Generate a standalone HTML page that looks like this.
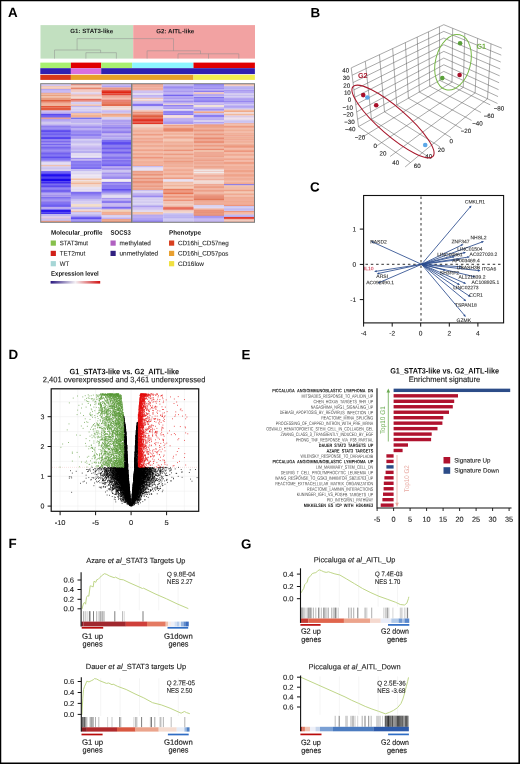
<!DOCTYPE html>
<html><head><meta charset="utf-8"><style>
html,body{margin:0;padding:0;background:#fff;}
body{width:520px;height:764px;overflow:hidden;}
svg{display:block;font-family:"Liberation Sans",sans-serif;text-rendering:geometricPrecision;will-change:transform;}
</style></head><body>
<svg width="520" height="764" viewBox="0 0 520 764">
<rect x="0" y="0" width="520" height="764" fill="#fff"/>
<text x="7.90" y="16.90" font-size="13.4" fill="#000" font-weight="bold" transform="rotate(0.05 7.90 16.90)">A</text>
<rect x="40.5" y="25.1" width="92.7" height="33.5" fill="#c2e0c0"/>
<rect x="133.2" y="25.1" width="121.8" height="33.5" fill="#f2a2a2"/>
<text x="70.20" y="33.10" font-size="6.15" fill="#1a1a1a" font-weight="bold" textLength="43.00" lengthAdjust="spacingAndGlyphs" transform="rotate(0.05 70.20 33.10)">G1: STAT3-like</text>
<text x="156.30" y="33.20" font-size="6.15" fill="#1a1a1a" font-weight="bold" textLength="38.00" lengthAdjust="spacingAndGlyphs" transform="rotate(0.05 156.30 33.20)">G2: AITL-like</text>
<path d="M77.1 50.0V38.6H173.5V50.8 M54.5 58.6V50.0H100.6V52.7 M85.9 58.6V52.7H116.4V58.6 M147.1 58.6V50.8H200.5V53.8 M178 58.6V53.8H238.8V58.6 M208.5 58.6V53.8 " stroke="#8e8e8e" stroke-width="0.5" fill="none"/>
<rect x="40.3" y="62.6" width="30.6" height="5.6" fill="#a8f070"/>
<rect x="70.9" y="62.6" width="30.3" height="5.6" fill="#e00000"/>
<rect x="101.2" y="62.6" width="30.9" height="5.6" fill="#a8f070"/>
<rect x="132.1" y="62.6" width="61.4" height="5.6" fill="#8cf6ff"/>
<rect x="193.5" y="62.6" width="61.4" height="5.6" fill="#e00000"/>
<rect x="40.3" y="68.2" width="30.6" height="5.9" fill="#3020b0"/>
<rect x="70.9" y="68.2" width="30.3" height="5.9" fill="#d870e0"/>
<rect x="101.2" y="68.2" width="153.7" height="5.9" fill="#3020b0"/>
<rect x="40.3" y="74.8" width="30.6" height="5.1" fill="#d83818"/>
<rect x="70.9" y="74.8" width="122.6" height="5.1" fill="#e8a028"/>
<rect x="193.5" y="74.8" width="61.4" height="5.1" fill="#f2ee50"/>
<rect x="40.9" y="84.2" width="30" height="1.95" fill="#d5c5f0"/>
<rect x="40.9" y="86.1" width="30" height="1.5" fill="#f0c1b1"/>
<rect x="40.9" y="87.55" width="30" height="1.5" fill="#f1c5b7"/>
<rect x="40.9" y="89" width="30" height="1.32" fill="#b6a6f0"/>
<rect x="40.9" y="90.27" width="30" height="1.32" fill="#b8a8f0"/>
<rect x="40.9" y="91.53" width="30" height="1.32" fill="#b9aaf0"/>
<rect x="40.9" y="92.8" width="30" height="1.85" fill="#eeae95"/>
<rect x="40.9" y="94.6" width="30" height="1.95" fill="#e8a080"/>
<rect x="40.9" y="96.5" width="30" height="1.55" fill="#f0baa2"/>
<rect x="40.9" y="98" width="30" height="1.95" fill="#e99e80"/>
<rect x="40.9" y="99.9" width="30" height="1.4" fill="#e06141"/>
<rect x="40.9" y="101.25" width="30" height="1.4" fill="#e06545"/>
<rect x="40.9" y="102.6" width="30" height="1.22" fill="#ed9c82"/>
<rect x="40.9" y="103.77" width="30" height="1.22" fill="#f1b59e"/>
<rect x="40.9" y="104.93" width="30" height="1.22" fill="#f1b39c"/>
<rect x="40.9" y="106.1" width="30" height="1.52" fill="#e04626"/>
<rect x="40.9" y="107.57" width="30" height="1.52" fill="#e35a3d"/>
<rect x="40.9" y="109.03" width="30" height="1.52" fill="#e3593c"/>
<rect x="40.9" y="110.5" width="30" height="1.25" fill="#c2b2f0"/>
<rect x="40.9" y="111.7" width="30" height="1.25" fill="#c1b2f0"/>
<rect x="40.9" y="112.9" width="30" height="1.25" fill="#ad9df0"/>
<rect x="40.9" y="114.1" width="30" height="1.22" fill="#4a39ef"/>
<rect x="40.9" y="115.27" width="30" height="1.22" fill="#4e3cee"/>
<rect x="40.9" y="116.43" width="30" height="1.22" fill="#4a39ef"/>
<rect x="40.9" y="117.6" width="30" height="1.25" fill="#ee9373"/>
<rect x="40.9" y="118.8" width="30" height="1.5" fill="#b3a1ee"/>
<rect x="40.9" y="120.25" width="30" height="1.5" fill="#a795ef"/>
<rect x="40.9" y="121.7" width="30" height="1.4" fill="#d1c8ee"/>
<rect x="40.9" y="123.05" width="30" height="1.4" fill="#cfc6ee"/>
<rect x="40.9" y="124.4" width="30" height="1.75" fill="#ad9cef"/>
<rect x="40.9" y="126.1" width="30" height="1.18" fill="#8371ee"/>
<rect x="40.9" y="127.23" width="30" height="1.18" fill="#8675ef"/>
<rect x="40.9" y="128.37" width="30" height="1.18" fill="#8371ee"/>
<rect x="40.9" y="129.5" width="30" height="1.47" fill="#6453ef"/>
<rect x="40.9" y="130.92" width="30" height="1.47" fill="#5e4cee"/>
<rect x="40.9" y="132.34" width="30" height="1.47" fill="#5c4aee"/>
<rect x="40.9" y="133.76" width="30" height="1.47" fill="#6f5ff0"/>
<rect x="40.9" y="135.18" width="30" height="1.47" fill="#6f5ff0"/>
<rect x="40.9" y="136.6" width="30" height="1.4" fill="#5948ef"/>
<rect x="40.9" y="137.95" width="30" height="1.4" fill="#5443ef"/>
<rect x="40.9" y="139.3" width="30" height="1.4" fill="#7d6bee"/>
<rect x="40.9" y="140.65" width="30" height="1.4" fill="#7b69ee"/>
<rect x="40.9" y="142" width="30" height="1.55" fill="#9583ee"/>
<rect x="40.9" y="143.5" width="30" height="2.05" fill="#7665ef"/>
<rect x="40.9" y="145.5" width="30" height="1.31" fill="#8170ef"/>
<rect x="40.9" y="146.76" width="30" height="1.31" fill="#7765ee"/>
<rect x="40.9" y="148.01" width="30" height="1.31" fill="#8372ef"/>
<rect x="40.9" y="149.27" width="30" height="1.31" fill="#7765ee"/>
<rect x="40.9" y="150.53" width="30" height="1.31" fill="#8676f0"/>
<rect x="40.9" y="151.79" width="30" height="1.31" fill="#8372ef"/>
<rect x="40.9" y="153.04" width="30" height="1.31" fill="#6d5cef"/>
<rect x="40.9" y="154.3" width="30" height="1.33" fill="#5b49ee"/>
<rect x="40.9" y="155.58" width="30" height="1.33" fill="#6c5cf0"/>
<rect x="40.9" y="156.86" width="30" height="1.33" fill="#5e4dee"/>
<rect x="40.9" y="158.14" width="30" height="1.33" fill="#6e5ef0"/>
<rect x="40.9" y="159.42" width="30" height="1.33" fill="#5d4cee"/>
<rect x="40.9" y="160.7" width="30" height="1.48" fill="#bfb5ef"/>
<rect x="40.9" y="162.13" width="30" height="1.48" fill="#ddd4ef"/>
<rect x="40.9" y="163.57" width="30" height="1.48" fill="#ded6ef"/>
<rect x="40.9" y="165" width="30" height="1.55" fill="#eec1b0"/>
<rect x="40.9" y="166.5" width="30" height="1.25" fill="#c7bdef"/>
<rect x="40.9" y="167.7" width="30" height="1.25" fill="#c8bfee"/>
<rect x="40.9" y="168.9" width="30" height="1.25" fill="#d7cff0"/>
<rect x="40.9" y="170.1" width="30" height="1.25" fill="#d6cdef"/>
<rect x="40.9" y="171.3" width="30" height="1.2" fill="#4332ef"/>
<rect x="40.9" y="172.45" width="30" height="1.2" fill="#4432ee"/>
<rect x="40.9" y="173.6" width="30" height="1.32" fill="#1e0def"/>
<rect x="40.9" y="174.87" width="30" height="1.32" fill="#1f0eef"/>
<rect x="40.9" y="176.13" width="30" height="1.32" fill="#2514ef"/>
<rect x="40.9" y="177.4" width="30" height="1.32" fill="#1d0bee"/>
<rect x="40.9" y="178.67" width="30" height="1.32" fill="#1a08ee"/>
<rect x="40.9" y="179.93" width="30" height="1.32" fill="#1806ee"/>
<rect x="40.9" y="181.2" width="30" height="1.85" fill="#3c2aee"/>
<rect x="40.9" y="183" width="30" height="1.45" fill="#5e4def"/>
<rect x="40.9" y="184.4" width="30" height="1.45" fill="#5241ee"/>
<rect x="40.9" y="185.8" width="30" height="1.45" fill="#5b49ef"/>
<rect x="40.9" y="187.2" width="30" height="1.31" fill="#705eef"/>
<rect x="40.9" y="188.46" width="30" height="1.31" fill="#7866ee"/>
<rect x="40.9" y="189.72" width="30" height="1.31" fill="#7261ee"/>
<rect x="40.9" y="190.98" width="30" height="1.31" fill="#7462ee"/>
<rect x="40.9" y="192.24" width="30" height="1.31" fill="#8676f0"/>
<rect x="40.9" y="193.5" width="30" height="1.25" fill="#ac9bef"/>
<rect x="40.9" y="194.7" width="30" height="1.25" fill="#9e8cee"/>
<rect x="40.9" y="195.9" width="30" height="1.25" fill="#ad9def"/>
<rect x="40.9" y="197.1" width="30" height="1.22" fill="#7261ee"/>
<rect x="40.9" y="198.27" width="30" height="1.22" fill="#7765ee"/>
<rect x="40.9" y="199.43" width="30" height="1.22" fill="#8373ef"/>
<rect x="40.9" y="200.6" width="30" height="1.4" fill="#9886ef"/>
<rect x="40.9" y="201.95" width="30" height="1.4" fill="#8674ef"/>
<rect x="40.9" y="203.3" width="30" height="1.22" fill="#5e4ef0"/>
<rect x="40.9" y="204.47" width="30" height="1.22" fill="#4b3aee"/>
<rect x="40.9" y="205.63" width="30" height="1.22" fill="#4c3aee"/>
<rect x="40.9" y="206.8" width="30" height="1.4" fill="#bcabef"/>
<rect x="40.9" y="208.15" width="30" height="1.4" fill="#af9eee"/>
<rect x="40.9" y="209.5" width="30" height="1.52" fill="#2b19ee"/>
<rect x="40.9" y="210.97" width="30" height="1.52" fill="#2d1cef"/>
<rect x="40.9" y="212.43" width="30" height="1.52" fill="#2d1cef"/>
<rect x="40.9" y="213.9" width="30" height="1.35" fill="#c2baee"/>
<rect x="40.9" y="215.2" width="30" height="1.35" fill="#b3a9ee"/>
<rect x="40.9" y="216.5" width="30" height="1.4" fill="#e1c9e1"/>
<rect x="40.9" y="217.85" width="30" height="1.4" fill="#d7bfe1"/>
<rect x="40.9" y="219.2" width="30" height="1.65" fill="#bfb6ee"/>
<rect x="40.9" y="220.8" width="30" height="1.25" fill="#f19a7d"/>
<rect x="70.9" y="84.2" width="30.8" height="1.25" fill="#e07060"/>
<rect x="70.9" y="85.4" width="30.8" height="1.1" fill="#f0b9a9"/>
<rect x="70.9" y="86.45" width="30.8" height="1.1" fill="#f1bdae"/>
<rect x="70.9" y="87.5" width="30.8" height="1.85" fill="#e7856c"/>
<rect x="70.9" y="89.3" width="30.8" height="1.4" fill="#eeb3a8"/>
<rect x="70.9" y="90.65" width="30.8" height="1.4" fill="#f1ccc5"/>
<rect x="70.9" y="92" width="30.8" height="1.35" fill="#e9dae9"/>
<rect x="70.9" y="93.3" width="30.8" height="1.35" fill="#d5c5e9"/>
<rect x="70.9" y="94.6" width="30.8" height="1.1" fill="#eea895"/>
<rect x="70.9" y="95.65" width="30.8" height="1.1" fill="#f1bbac"/>
<rect x="70.9" y="96.7" width="30.8" height="1.2" fill="#f1dbd4"/>
<rect x="70.9" y="97.85" width="30.8" height="1.2" fill="#eec4b9"/>
<rect x="70.9" y="99" width="30.8" height="1.4" fill="#e36e60"/>
<rect x="70.9" y="100.35" width="30.8" height="1.4" fill="#e26c5d"/>
<rect x="70.9" y="101.7" width="30.8" height="1.4" fill="#d9d1f0"/>
<rect x="70.9" y="103.05" width="30.8" height="1.4" fill="#d3caf0"/>
<rect x="70.9" y="104.4" width="30.8" height="1.75" fill="#edbeb1"/>
<rect x="70.9" y="106.1" width="30.8" height="1.4" fill="#b9b0f0"/>
<rect x="70.9" y="107.45" width="30.8" height="1.4" fill="#dcd4f1"/>
<rect x="70.9" y="108.8" width="30.8" height="1.75" fill="#d8cff0"/>
<rect x="70.9" y="110.5" width="30.8" height="1.4" fill="#cac3f1"/>
<rect x="70.9" y="111.85" width="30.8" height="1.4" fill="#b9b1f0"/>
<rect x="70.9" y="113.2" width="30.8" height="1.52" fill="#f1b597"/>
<rect x="70.9" y="114.67" width="30.8" height="1.52" fill="#f0b292"/>
<rect x="70.9" y="116.13" width="30.8" height="1.52" fill="#efa686"/>
<rect x="70.9" y="117.6" width="30.8" height="1.45" fill="#7775f0"/>
<rect x="70.9" y="119" width="30.8" height="1.4" fill="#c3b3f1"/>
<rect x="70.9" y="120.35" width="30.8" height="1.4" fill="#a898f0"/>
<rect x="70.9" y="121.7" width="30.8" height="1.4" fill="#bfb6f0"/>
<rect x="70.9" y="123.05" width="30.8" height="1.4" fill="#d1c9f0"/>
<rect x="70.9" y="124.4" width="30.8" height="1.32" fill="#ae9ff1"/>
<rect x="70.9" y="125.68" width="30.8" height="1.32" fill="#aa9af0"/>
<rect x="70.9" y="126.95" width="30.8" height="1.32" fill="#9e8ef0"/>
<rect x="70.9" y="128.22" width="30.8" height="1.32" fill="#afa1f1"/>
<rect x="70.9" y="129.5" width="30.8" height="1.4" fill="#a191f0"/>
<rect x="70.9" y="130.85" width="30.8" height="1.4" fill="#9888f0"/>
<rect x="70.9" y="132.2" width="30.8" height="1.52" fill="#8878f0"/>
<rect x="70.9" y="133.67" width="30.8" height="1.52" fill="#8e7ef0"/>
<rect x="70.9" y="135.13" width="30.8" height="1.52" fill="#8171f0"/>
<rect x="70.9" y="136.6" width="30.8" height="1.4" fill="#a797f0"/>
<rect x="70.9" y="137.95" width="30.8" height="1.4" fill="#b1a1f0"/>
<rect x="70.9" y="139.3" width="30.8" height="1.29" fill="#d1c9f0"/>
<rect x="70.9" y="140.54" width="30.8" height="1.29" fill="#b9aff0"/>
<rect x="70.9" y="141.78" width="30.8" height="1.29" fill="#c7bff0"/>
<rect x="70.9" y="143.02" width="30.8" height="1.29" fill="#d4ccf1"/>
<rect x="70.9" y="144.26" width="30.8" height="1.29" fill="#d5cdf1"/>
<rect x="70.9" y="145.5" width="30.8" height="1.22" fill="#c2b2f0"/>
<rect x="70.9" y="146.67" width="30.8" height="1.22" fill="#c2b3f1"/>
<rect x="70.9" y="147.83" width="30.8" height="1.22" fill="#c1b1f0"/>
<rect x="70.9" y="149" width="30.8" height="1.52" fill="#c0b7f0"/>
<rect x="70.9" y="150.47" width="30.8" height="1.52" fill="#b9aff0"/>
<rect x="70.9" y="151.93" width="30.8" height="1.52" fill="#b8aef0"/>
<rect x="70.9" y="153.4" width="30.8" height="1.55" fill="#e3dbf1"/>
<rect x="70.9" y="154.9" width="30.8" height="1.55" fill="#e1daf1"/>
<rect x="70.9" y="156.4" width="30.8" height="1.55" fill="#e3dcf1"/>
<rect x="70.9" y="157.9" width="30.8" height="1.45" fill="#9f8ff0"/>
<rect x="70.9" y="159.3" width="30.8" height="1.45" fill="#baaaf0"/>
<rect x="70.9" y="160.7" width="30.8" height="1.35" fill="#8777f0"/>
<rect x="70.9" y="162" width="30.8" height="1.35" fill="#8d7ef1"/>
<rect x="70.9" y="163.3" width="30.8" height="1.55" fill="#7464f0"/>
<rect x="70.9" y="164.8" width="30.8" height="1.55" fill="#8577f1"/>
<rect x="70.9" y="166.3" width="30.8" height="1.55" fill="#6e5ef0"/>
<rect x="70.9" y="167.8" width="30.8" height="1.55" fill="#7969f0"/>
<rect x="70.9" y="169.3" width="30.8" height="2.05" fill="#c3bbf1"/>
<rect x="70.9" y="171.3" width="30.8" height="1.35" fill="#dbd4f1"/>
<rect x="70.9" y="172.6" width="30.8" height="1.35" fill="#dad2f1"/>
<rect x="70.9" y="173.9" width="30.8" height="1.55" fill="#e9e1f1"/>
<rect x="70.9" y="175.4" width="30.8" height="1.55" fill="#e9e2f1"/>
<rect x="70.9" y="176.9" width="30.8" height="1.55" fill="#eae3f1"/>
<rect x="70.9" y="178.4" width="30.8" height="1.65" fill="#efbfa7"/>
<rect x="70.9" y="180" width="30.8" height="1.25" fill="#f1e1e1"/>
<rect x="70.9" y="181.2" width="30.8" height="1.65" fill="#f1ccb6"/>
<rect x="70.9" y="182.8" width="30.8" height="1.75" fill="#f1b698"/>
<rect x="70.9" y="184.5" width="30.8" height="1.4" fill="#efd2ca"/>
<rect x="70.9" y="185.85" width="30.8" height="1.4" fill="#f1dad3"/>
<rect x="70.9" y="187.2" width="30.8" height="1.58" fill="#e2dbf1"/>
<rect x="70.9" y="188.73" width="30.8" height="1.58" fill="#e0d9f0"/>
<rect x="70.9" y="190.27" width="30.8" height="1.58" fill="#e1d9f0"/>
<rect x="70.9" y="191.8" width="30.8" height="1.22" fill="#7d6df0"/>
<rect x="70.9" y="192.97" width="30.8" height="1.22" fill="#8272f0"/>
<rect x="70.9" y="194.13" width="30.8" height="1.22" fill="#8373f0"/>
<rect x="70.9" y="195.3" width="30.8" height="1.22" fill="#8171f0"/>
<rect x="70.9" y="196.47" width="30.8" height="1.22" fill="#9384f0"/>
<rect x="70.9" y="197.63" width="30.8" height="1.22" fill="#9b8df1"/>
<rect x="70.9" y="198.8" width="30.8" height="1.4" fill="#c5bdf1"/>
<rect x="70.9" y="200.15" width="30.8" height="1.4" fill="#c3bbf1"/>
<rect x="70.9" y="201.5" width="30.8" height="1.4" fill="#d1c8f0"/>
<rect x="70.9" y="202.85" width="30.8" height="1.4" fill="#dad2f1"/>
<rect x="70.9" y="204.2" width="30.8" height="1.35" fill="#f0d9c1"/>
<rect x="70.9" y="205.5" width="30.8" height="1.35" fill="#f0d4bc"/>
<rect x="70.9" y="206.8" width="30.8" height="1.4" fill="#ccc4f1"/>
<rect x="70.9" y="208.15" width="30.8" height="1.4" fill="#afa6f0"/>
<rect x="70.9" y="209.5" width="30.8" height="1.35" fill="#f1dad2"/>
<rect x="70.9" y="210.8" width="30.8" height="1.35" fill="#edb9ac"/>
<rect x="70.9" y="212.1" width="30.8" height="1.52" fill="#c9c1f0"/>
<rect x="70.9" y="213.57" width="30.8" height="1.52" fill="#c7bff0"/>
<rect x="70.9" y="215.03" width="30.8" height="1.52" fill="#b8aff0"/>
<rect x="70.9" y="216.5" width="30.8" height="1.4" fill="#6657f1"/>
<rect x="70.9" y="217.85" width="30.8" height="1.4" fill="#6050f0"/>
<rect x="70.9" y="219.2" width="30.8" height="1.45" fill="#8b7bf0"/>
<rect x="70.9" y="220.6" width="30.8" height="1.45" fill="#9283f1"/>
<rect x="101.7" y="84.2" width="29.6" height="1.7" fill="#c1b1f0"/>
<rect x="101.7" y="85.85" width="29.6" height="1.7" fill="#b1a1f0"/>
<rect x="101.7" y="87.5" width="29.6" height="1.45" fill="#e7907f"/>
<rect x="101.7" y="88.9" width="29.6" height="1.45" fill="#e99c8c"/>
<rect x="101.7" y="90.3" width="29.6" height="1.58" fill="#e02412"/>
<rect x="101.7" y="91.83" width="29.6" height="1.58" fill="#e02512"/>
<rect x="101.7" y="93.37" width="29.6" height="1.58" fill="#e33223"/>
<rect x="101.7" y="94.9" width="29.6" height="1.95" fill="#e99484"/>
<rect x="101.7" y="96.8" width="29.6" height="1.4" fill="#f0ad9d"/>
<rect x="101.7" y="98.15" width="29.6" height="1.4" fill="#f1b6a7"/>
<rect x="101.7" y="99.5" width="29.6" height="1.45" fill="#e77b6a"/>
<rect x="101.7" y="100.9" width="29.6" height="1.45" fill="#e98475"/>
<rect x="101.7" y="102.3" width="29.6" height="1.32" fill="#e05c3c"/>
<rect x="101.7" y="103.57" width="29.6" height="1.32" fill="#e05f3f"/>
<rect x="101.7" y="104.83" width="29.6" height="1.32" fill="#e26a4c"/>
<rect x="101.7" y="106.1" width="29.6" height="1.85" fill="#f1d4cd"/>
<rect x="101.7" y="107.9" width="29.6" height="1.2" fill="#f1e2e2"/>
<rect x="101.7" y="109.05" width="29.6" height="1.2" fill="#efd8d6"/>
<rect x="101.7" y="110.2" width="29.6" height="1.85" fill="#c9b9f0"/>
<rect x="101.7" y="112" width="29.6" height="1.75" fill="#ccc3f0"/>
<rect x="101.7" y="113.7" width="29.6" height="1.25" fill="#ed9e7e"/>
<rect x="101.7" y="114.9" width="29.6" height="1.25" fill="#f0b090"/>
<rect x="101.7" y="116.1" width="29.6" height="1.25" fill="#f1b597"/>
<rect x="101.7" y="117.3" width="29.6" height="1.35" fill="#cec6ef"/>
<rect x="101.7" y="118.6" width="29.6" height="1.35" fill="#cdc4ef"/>
<rect x="101.7" y="119.9" width="29.6" height="1.4" fill="#ae9ef0"/>
<rect x="101.7" y="121.25" width="29.6" height="1.4" fill="#9c8bee"/>
<rect x="101.7" y="122.6" width="29.6" height="1.35" fill="#af9dee"/>
<rect x="101.7" y="123.9" width="29.6" height="1.35" fill="#bfadee"/>
<rect x="101.7" y="125.2" width="29.6" height="1.48" fill="#9483ee"/>
<rect x="101.7" y="126.63" width="29.6" height="1.48" fill="#9280ee"/>
<rect x="101.7" y="128.07" width="29.6" height="1.48" fill="#9a88ee"/>
<rect x="101.7" y="129.5" width="29.6" height="1.25" fill="#9786ef"/>
<rect x="101.7" y="130.7" width="29.6" height="1.25" fill="#9482ee"/>
<rect x="101.7" y="131.9" width="29.6" height="1.25" fill="#8e7cee"/>
<rect x="101.7" y="133.1" width="29.6" height="1.52" fill="#b5a4ef"/>
<rect x="101.7" y="134.57" width="29.6" height="1.52" fill="#b7a7f0"/>
<rect x="101.7" y="136.03" width="29.6" height="1.52" fill="#ad9bee"/>
<rect x="101.7" y="137.5" width="29.6" height="1.4" fill="#b0a6ef"/>
<rect x="101.7" y="138.85" width="29.6" height="1.4" fill="#aea3ef"/>
<rect x="101.7" y="140.2" width="29.6" height="1.38" fill="#6252ef"/>
<rect x="101.7" y="141.52" width="29.6" height="1.38" fill="#5140ef"/>
<rect x="101.7" y="142.85" width="29.6" height="1.38" fill="#5d4cef"/>
<rect x="101.7" y="144.18" width="29.6" height="1.38" fill="#5847ee"/>
<rect x="101.7" y="145.5" width="29.6" height="1.31" fill="#7563ee"/>
<rect x="101.7" y="146.76" width="29.6" height="1.31" fill="#8171ef"/>
<rect x="101.7" y="148.01" width="29.6" height="1.31" fill="#6e5cef"/>
<rect x="101.7" y="149.27" width="29.6" height="1.31" fill="#705fee"/>
<rect x="101.7" y="150.53" width="29.6" height="1.31" fill="#7967ee"/>
<rect x="101.7" y="151.79" width="29.6" height="1.31" fill="#6e5cef"/>
<rect x="101.7" y="153.04" width="29.6" height="1.31" fill="#8372ef"/>
<rect x="101.7" y="154.3" width="29.6" height="1.28" fill="#8b79ee"/>
<rect x="101.7" y="155.53" width="29.6" height="1.28" fill="#8776ee"/>
<rect x="101.7" y="156.77" width="29.6" height="1.28" fill="#8472ef"/>
<rect x="101.7" y="158" width="29.6" height="1.52" fill="#8674ef"/>
<rect x="101.7" y="159.47" width="29.6" height="1.52" fill="#816fee"/>
<rect x="101.7" y="160.93" width="29.6" height="1.52" fill="#8674ef"/>
<rect x="101.7" y="162.4" width="29.6" height="1.25" fill="#6452ef"/>
<rect x="101.7" y="163.6" width="29.6" height="1.25" fill="#6958ef"/>
<rect x="101.7" y="164.8" width="29.6" height="1.25" fill="#6e5df0"/>
<rect x="101.7" y="166" width="29.6" height="1.52" fill="#b2a1ef"/>
<rect x="101.7" y="167.47" width="29.6" height="1.52" fill="#a18fee"/>
<rect x="101.7" y="168.93" width="29.6" height="1.52" fill="#ae9cee"/>
<rect x="101.7" y="170.4" width="29.6" height="1.35" fill="#c6bcee"/>
<rect x="101.7" y="171.7" width="29.6" height="1.35" fill="#bbb0ef"/>
<rect x="101.7" y="173" width="29.6" height="1.29" fill="#a593ee"/>
<rect x="101.7" y="174.24" width="29.6" height="1.29" fill="#aa99ef"/>
<rect x="101.7" y="175.48" width="29.6" height="1.29" fill="#9886ee"/>
<rect x="101.7" y="176.72" width="29.6" height="1.29" fill="#9c8bee"/>
<rect x="101.7" y="177.96" width="29.6" height="1.29" fill="#a08eee"/>
<rect x="101.7" y="179.2" width="29.6" height="1.4" fill="#f1e9f1"/>
<rect x="101.7" y="180.55" width="29.6" height="1.4" fill="#f0e8f0"/>
<rect x="101.7" y="181.9" width="29.6" height="1.37" fill="#8674ef"/>
<rect x="101.7" y="183.22" width="29.6" height="1.37" fill="#8978ef"/>
<rect x="101.7" y="184.55" width="29.6" height="1.37" fill="#806eee"/>
<rect x="101.7" y="185.88" width="29.6" height="1.37" fill="#8a79ef"/>
<rect x="101.7" y="187.2" width="29.6" height="1.43" fill="#7464f0"/>
<rect x="101.7" y="188.57" width="29.6" height="1.43" fill="#614fef"/>
<rect x="101.7" y="189.95" width="29.6" height="1.43" fill="#7565f0"/>
<rect x="101.7" y="191.32" width="29.6" height="1.43" fill="#6f5def"/>
<rect x="101.7" y="192.7" width="29.6" height="1.35" fill="#b4aaee"/>
<rect x="101.7" y="194" width="29.6" height="1.35" fill="#c8beee"/>
<rect x="101.7" y="195.3" width="29.6" height="1.4" fill="#ddd4ef"/>
<rect x="101.7" y="196.65" width="29.6" height="1.4" fill="#dfd7f0"/>
<rect x="101.7" y="198" width="29.6" height="1.35" fill="#a998ee"/>
<rect x="101.7" y="199.3" width="29.6" height="1.35" fill="#b19fee"/>
<rect x="101.7" y="200.6" width="29.6" height="1.4" fill="#8c7cef"/>
<rect x="101.7" y="201.95" width="29.6" height="1.4" fill="#8a79ef"/>
<rect x="101.7" y="203.3" width="29.6" height="1.22" fill="#bfaef0"/>
<rect x="101.7" y="204.47" width="29.6" height="1.22" fill="#b7a5ee"/>
<rect x="101.7" y="205.63" width="29.6" height="1.22" fill="#bba9ef"/>
<rect x="101.7" y="206.8" width="29.6" height="1.4" fill="#7a68ee"/>
<rect x="101.7" y="208.15" width="29.6" height="1.4" fill="#8877ef"/>
<rect x="101.7" y="209.5" width="29.6" height="1.35" fill="#f1ccb5"/>
<rect x="101.7" y="210.8" width="29.6" height="1.35" fill="#f0cab2"/>
<rect x="101.7" y="212.1" width="29.6" height="1.4" fill="#f1a486"/>
<rect x="101.7" y="213.45" width="29.6" height="1.4" fill="#ee9474"/>
<rect x="101.7" y="214.8" width="29.6" height="1.35" fill="#d7cff0"/>
<rect x="101.7" y="216.1" width="29.6" height="1.35" fill="#d8cff0"/>
<rect x="101.7" y="217.4" width="29.6" height="1.85" fill="#bfaff0"/>
<rect x="101.7" y="219.2" width="29.6" height="1.45" fill="#e89171"/>
<rect x="101.7" y="220.6" width="29.6" height="1.45" fill="#e99678"/>
<rect x="132.2" y="84.2" width="31" height="1.35" fill="#e78a71"/>
<rect x="132.2" y="85.5" width="31" height="1.35" fill="#ea9983"/>
<rect x="132.2" y="86.8" width="31" height="1.28" fill="#f1b6a7"/>
<rect x="132.2" y="88.03" width="31" height="1.28" fill="#efa997"/>
<rect x="132.2" y="89.27" width="31" height="1.28" fill="#ed9b89"/>
<rect x="132.2" y="90.5" width="31" height="1.25" fill="#c4b4f0"/>
<rect x="132.2" y="91.7" width="31" height="1.25" fill="#c9b9f0"/>
<rect x="132.2" y="92.9" width="31" height="1.25" fill="#e2daf1"/>
<rect x="132.2" y="94.1" width="31" height="1.25" fill="#dfd7f0"/>
<rect x="132.2" y="95.3" width="31" height="1.3" fill="#a595f0"/>
<rect x="132.2" y="96.55" width="31" height="1.3" fill="#c4b5f1"/>
<rect x="132.2" y="97.8" width="31" height="1.25" fill="#edc1bb"/>
<rect x="132.2" y="99" width="31" height="1.25" fill="#f1e2e2"/>
<rect x="132.2" y="100.2" width="31" height="1.25" fill="#eec9c4"/>
<rect x="132.2" y="101.4" width="31" height="1.25" fill="#b7a7f0"/>
<rect x="132.2" y="102.6" width="31" height="1.25" fill="#c4b5f1"/>
<rect x="132.2" y="103.8" width="31" height="1.25" fill="#8373f0"/>
<rect x="132.2" y="105" width="31" height="1.25" fill="#8474f0"/>
<rect x="132.2" y="106.2" width="31" height="1.3" fill="#c8c0f0"/>
<rect x="132.2" y="107.45" width="31" height="1.3" fill="#cac3f1"/>
<rect x="132.2" y="108.7" width="31" height="1.65" fill="#e2d3ea"/>
<rect x="132.2" y="110.3" width="31" height="1.75" fill="#f1bbab"/>
<rect x="132.2" y="112" width="31" height="1.45" fill="#ea937d"/>
<rect x="132.2" y="113.4" width="31" height="1.45" fill="#e88870"/>
<rect x="132.2" y="114.8" width="31" height="1.28" fill="#e36e51"/>
<rect x="132.2" y="116.03" width="31" height="1.28" fill="#e05a3a"/>
<rect x="132.2" y="117.27" width="31" height="1.28" fill="#e05c3c"/>
<rect x="132.2" y="118.5" width="31" height="1.43" fill="#e03121"/>
<rect x="132.2" y="119.88" width="31" height="1.43" fill="#e03120"/>
<rect x="132.2" y="121.25" width="31" height="1.43" fill="#e1392a"/>
<rect x="132.2" y="122.62" width="31" height="1.43" fill="#e13626"/>
<rect x="132.2" y="124" width="31" height="1.4" fill="#f0c8b8"/>
<rect x="132.2" y="125.35" width="31" height="1.4" fill="#f1ccbd"/>
<rect x="132.2" y="126.7" width="31" height="1.4" fill="#f0c9b9"/>
<rect x="132.2" y="128.05" width="31" height="1.4" fill="#efbdab"/>
<rect x="132.2" y="129.4" width="31" height="1.43" fill="#efa38a"/>
<rect x="132.2" y="130.78" width="31" height="1.43" fill="#f1ae98"/>
<rect x="132.2" y="132.17" width="31" height="1.43" fill="#f1af99"/>
<rect x="132.2" y="133.55" width="31" height="1.43" fill="#ee9b82"/>
<rect x="132.2" y="134.93" width="31" height="1.43" fill="#f1ae98"/>
<rect x="132.2" y="136.32" width="31" height="1.43" fill="#f1b09a"/>
<rect x="132.2" y="137.7" width="31" height="1.43" fill="#f0a891"/>
<rect x="132.2" y="139.08" width="31" height="1.43" fill="#f0a992"/>
<rect x="132.2" y="140.47" width="31" height="1.43" fill="#ee9a81"/>
<rect x="132.2" y="141.85" width="31" height="1.43" fill="#f0a991"/>
<rect x="132.2" y="143.23" width="31" height="1.43" fill="#f0a890"/>
<rect x="132.2" y="144.62" width="31" height="1.43" fill="#f0aa92"/>
<rect x="132.2" y="146" width="31" height="1.25" fill="#edac98"/>
<rect x="132.2" y="147.2" width="31" height="1.39" fill="#f1b09a"/>
<rect x="132.2" y="148.54" width="31" height="1.39" fill="#f0a890"/>
<rect x="132.2" y="149.89" width="31" height="1.39" fill="#efa38b"/>
<rect x="132.2" y="151.23" width="31" height="1.39" fill="#f1ad97"/>
<rect x="132.2" y="152.57" width="31" height="1.39" fill="#f0a991"/>
<rect x="132.2" y="153.91" width="31" height="1.39" fill="#f0a890"/>
<rect x="132.2" y="155.26" width="31" height="1.39" fill="#f1ab94"/>
<rect x="132.2" y="156.6" width="31" height="1.39" fill="#ed947b"/>
<rect x="132.2" y="157.94" width="31" height="1.39" fill="#f0a991"/>
<rect x="132.2" y="159.29" width="31" height="1.39" fill="#efa48c"/>
<rect x="132.2" y="160.63" width="31" height="1.39" fill="#f1b09a"/>
<rect x="132.2" y="161.97" width="31" height="1.39" fill="#f1af99"/>
<rect x="132.2" y="163.31" width="31" height="1.39" fill="#ee9d85"/>
<rect x="132.2" y="164.66" width="31" height="1.39" fill="#f0a78f"/>
<rect x="132.2" y="166" width="31" height="1.25" fill="#c6bcf0"/>
<rect x="132.2" y="167.2" width="31" height="1.25" fill="#dbd3f0"/>
<rect x="132.2" y="168.4" width="31" height="1.25" fill="#e2daf1"/>
<rect x="132.2" y="169.6" width="31" height="1.25" fill="#e2dbf1"/>
<rect x="132.2" y="170.8" width="31" height="1.44" fill="#ec9f87"/>
<rect x="132.2" y="172.19" width="31" height="1.44" fill="#eb9880"/>
<rect x="132.2" y="173.57" width="31" height="1.44" fill="#ea937a"/>
<rect x="132.2" y="174.96" width="31" height="1.44" fill="#eca28b"/>
<rect x="132.2" y="176.34" width="31" height="1.44" fill="#eea892"/>
<rect x="132.2" y="177.73" width="31" height="1.44" fill="#ea9077"/>
<rect x="132.2" y="179.11" width="31" height="1.44" fill="#eda58f"/>
<rect x="132.2" y="180.5" width="31" height="1.44" fill="#e98c72"/>
<rect x="132.2" y="181.89" width="31" height="1.44" fill="#ea937a"/>
<rect x="132.2" y="183.27" width="31" height="1.44" fill="#eb947c"/>
<rect x="132.2" y="184.66" width="31" height="1.44" fill="#eda48c"/>
<rect x="132.2" y="186.04" width="31" height="1.44" fill="#eb9880"/>
<rect x="132.2" y="187.43" width="31" height="1.44" fill="#eb9a81"/>
<rect x="132.2" y="188.81" width="31" height="1.44" fill="#eca28b"/>
<rect x="132.2" y="190.2" width="31" height="1.28" fill="#beb4f0"/>
<rect x="132.2" y="191.43" width="31" height="1.28" fill="#dad2f1"/>
<rect x="132.2" y="192.67" width="31" height="1.28" fill="#bfb5f0"/>
<rect x="132.2" y="193.9" width="31" height="1.1" fill="#c0b0f0"/>
<rect x="132.2" y="194.95" width="31" height="1.1" fill="#b2a2f0"/>
<rect x="132.2" y="196" width="31" height="1.65" fill="#9a8af0"/>
<rect x="132.2" y="197.6" width="31" height="1.45" fill="#d8d0f0"/>
<rect x="132.2" y="199" width="31" height="1.45" fill="#d4ccf0"/>
<rect x="132.2" y="200.4" width="31" height="1.45" fill="#d0c7f0"/>
<rect x="132.2" y="201.8" width="31" height="1.45" fill="#d2caf0"/>
<rect x="132.2" y="203.2" width="31" height="1.45" fill="#d8d0f0"/>
<rect x="132.2" y="204.6" width="31" height="1.45" fill="#c1b8f0"/>
<rect x="132.2" y="206" width="31" height="1.28" fill="#af9ff0"/>
<rect x="132.2" y="207.23" width="31" height="1.28" fill="#c2b2f0"/>
<rect x="132.2" y="208.47" width="31" height="1.28" fill="#c2b2f0"/>
<rect x="132.2" y="209.7" width="31" height="1.3" fill="#e0d8f0"/>
<rect x="132.2" y="210.95" width="31" height="1.3" fill="#e2dbf1"/>
<rect x="132.2" y="212.2" width="31" height="1.25" fill="#f0b292"/>
<rect x="132.2" y="213.4" width="31" height="1.25" fill="#f1b698"/>
<rect x="132.2" y="214.6" width="31" height="1.25" fill="#aa9af0"/>
<rect x="132.2" y="215.8" width="31" height="1.25" fill="#bbacf1"/>
<rect x="132.2" y="217" width="31" height="1.25" fill="#bcadf1"/>
<rect x="132.2" y="218.2" width="31" height="1.32" fill="#a092f1"/>
<rect x="132.2" y="219.47" width="31" height="1.32" fill="#9181f0"/>
<rect x="132.2" y="220.73" width="31" height="1.32" fill="#9181f0"/>
<rect x="163.2" y="84.2" width="30.5" height="1.45" fill="#beaff1"/>
<rect x="163.2" y="85.6" width="30.5" height="1.45" fill="#a999f0"/>
<rect x="163.2" y="87" width="30.5" height="1.25" fill="#9b8df1"/>
<rect x="163.2" y="88.2" width="30.5" height="1.25" fill="#998af1"/>
<rect x="163.2" y="89.4" width="30.5" height="1.37" fill="#a595f0"/>
<rect x="163.2" y="90.73" width="30.5" height="1.37" fill="#aa9af0"/>
<rect x="163.2" y="92.05" width="30.5" height="1.37" fill="#bbacf1"/>
<rect x="163.2" y="93.38" width="30.5" height="1.37" fill="#ab9bf0"/>
<rect x="163.2" y="94.7" width="30.5" height="1.85" fill="#7565f0"/>
<rect x="163.2" y="96.5" width="30.5" height="1.49" fill="#b5a6f1"/>
<rect x="163.2" y="97.94" width="30.5" height="1.49" fill="#ac9cf0"/>
<rect x="163.2" y="99.38" width="30.5" height="1.49" fill="#b5a6f1"/>
<rect x="163.2" y="100.82" width="30.5" height="1.49" fill="#9e8ef0"/>
<rect x="163.2" y="102.26" width="30.5" height="1.49" fill="#ab9bf0"/>
<rect x="163.2" y="103.7" width="30.5" height="1.25" fill="#f1d9d2"/>
<rect x="163.2" y="104.9" width="30.5" height="1.42" fill="#9282f0"/>
<rect x="163.2" y="106.27" width="30.5" height="1.42" fill="#9a8af0"/>
<rect x="163.2" y="107.63" width="30.5" height="1.42" fill="#ab9cf1"/>
<rect x="163.2" y="109" width="30.5" height="1.85" fill="#e3dbf1"/>
<rect x="163.2" y="110.8" width="30.5" height="1.45" fill="#9385f1"/>
<rect x="163.2" y="112.2" width="30.5" height="1.45" fill="#7c6cf0"/>
<rect x="163.2" y="113.6" width="30.5" height="1.45" fill="#8878f0"/>
<rect x="163.2" y="115" width="30.5" height="1.55" fill="#f1dada"/>
<rect x="163.2" y="116.5" width="30.5" height="1.55" fill="#f0d8d8"/>
<rect x="163.2" y="118" width="30.5" height="1.31" fill="#c2b3f1"/>
<rect x="163.2" y="119.26" width="30.5" height="1.31" fill="#ae9ef0"/>
<rect x="163.2" y="120.52" width="30.5" height="1.31" fill="#a898f0"/>
<rect x="163.2" y="121.78" width="30.5" height="1.31" fill="#aa9af0"/>
<rect x="163.2" y="123.04" width="30.5" height="1.31" fill="#a696f0"/>
<rect x="163.2" y="124.3" width="30.5" height="0.75" fill="#f0c1b1"/>
<rect x="163.2" y="125" width="30.5" height="1.38" fill="#eea088"/>
<rect x="163.2" y="126.33" width="30.5" height="1.38" fill="#eea18a"/>
<rect x="163.2" y="127.67" width="30.5" height="1.38" fill="#ec9178"/>
<rect x="163.2" y="129" width="30.5" height="2.05" fill="#e7886c"/>
<rect x="163.2" y="131" width="30.5" height="1.55" fill="#ee9e85"/>
<rect x="163.2" y="132.5" width="30.5" height="1.55" fill="#f1b29b"/>
<rect x="163.2" y="134" width="30.5" height="1.55" fill="#f1b49e"/>
<rect x="163.2" y="135.5" width="30.5" height="1.55" fill="#f1b39d"/>
<rect x="163.2" y="137" width="30.5" height="1.3" fill="#efa68e"/>
<rect x="163.2" y="138.25" width="30.5" height="1.3" fill="#efa48c"/>
<rect x="163.2" y="139.5" width="30.5" height="1.3" fill="#f3c2ae"/>
<rect x="163.2" y="140.75" width="30.5" height="1.3" fill="#f2baa4"/>
<rect x="163.2" y="142" width="30.5" height="1.38" fill="#efaf98"/>
<rect x="163.2" y="143.33" width="30.5" height="1.38" fill="#eda289"/>
<rect x="163.2" y="144.67" width="30.5" height="1.38" fill="#eea890"/>
<rect x="163.2" y="146" width="30.5" height="1.38" fill="#eeaa92"/>
<rect x="163.2" y="147.33" width="30.5" height="1.38" fill="#eea78e"/>
<rect x="163.2" y="148.67" width="30.5" height="1.38" fill="#eeac94"/>
<rect x="163.2" y="150" width="30.5" height="1.38" fill="#eb937a"/>
<rect x="163.2" y="151.33" width="30.5" height="1.38" fill="#efad96"/>
<rect x="163.2" y="152.67" width="30.5" height="1.38" fill="#efb09a"/>
<rect x="163.2" y="154" width="30.5" height="1.38" fill="#ec9b82"/>
<rect x="163.2" y="155.33" width="30.5" height="1.38" fill="#eea890"/>
<rect x="163.2" y="156.67" width="30.5" height="1.38" fill="#efae97"/>
<rect x="163.2" y="158" width="30.5" height="1.38" fill="#eda68d"/>
<rect x="163.2" y="159.33" width="30.5" height="1.38" fill="#ec9c83"/>
<rect x="163.2" y="160.67" width="30.5" height="1.38" fill="#ec9a81"/>
<rect x="163.2" y="162" width="30.5" height="1.38" fill="#eeaa92"/>
<rect x="163.2" y="163.33" width="30.5" height="1.38" fill="#eb937a"/>
<rect x="163.2" y="164.67" width="30.5" height="1.38" fill="#efb19b"/>
<rect x="163.2" y="166" width="30.5" height="1.38" fill="#f1ad97"/>
<rect x="163.2" y="167.33" width="30.5" height="1.38" fill="#f1ac95"/>
<rect x="163.2" y="168.66" width="30.5" height="1.38" fill="#f1ae98"/>
<rect x="163.2" y="169.99" width="30.5" height="1.38" fill="#f0aa93"/>
<rect x="163.2" y="171.32" width="30.5" height="1.38" fill="#efa48b"/>
<rect x="163.2" y="172.65" width="30.5" height="1.38" fill="#f0aa92"/>
<rect x="163.2" y="173.98" width="30.5" height="1.38" fill="#f0a890"/>
<rect x="163.2" y="175.31" width="30.5" height="1.38" fill="#f1b09b"/>
<rect x="163.2" y="176.64" width="30.5" height="1.38" fill="#f1ad97"/>
<rect x="163.2" y="177.97" width="30.5" height="1.38" fill="#ee9d84"/>
<rect x="163.2" y="179.3" width="30.5" height="1.25" fill="#e3dbf1"/>
<rect x="163.2" y="180.5" width="30.5" height="1.25" fill="#e2daf1"/>
<rect x="163.2" y="181.7" width="30.5" height="1.51" fill="#f1bca5"/>
<rect x="163.2" y="183.16" width="30.5" height="1.51" fill="#f1bca6"/>
<rect x="163.2" y="184.62" width="30.5" height="1.51" fill="#efb39b"/>
<rect x="163.2" y="186.08" width="30.5" height="1.51" fill="#f1bea8"/>
<rect x="163.2" y="187.54" width="30.5" height="1.51" fill="#f1bda7"/>
<rect x="163.2" y="189" width="30.5" height="1.3" fill="#e97d5f"/>
<rect x="163.2" y="190.25" width="30.5" height="1.3" fill="#e97f61"/>
<rect x="163.2" y="191.5" width="30.5" height="1.3" fill="#e97f61"/>
<rect x="163.2" y="192.75" width="30.5" height="1.3" fill="#e87656"/>
<rect x="163.2" y="194" width="30.5" height="1.51" fill="#f1ac95"/>
<rect x="163.2" y="195.46" width="30.5" height="1.51" fill="#ed947b"/>
<rect x="163.2" y="196.92" width="30.5" height="1.51" fill="#efa188"/>
<rect x="163.2" y="198.38" width="30.5" height="1.51" fill="#f0a78e"/>
<rect x="163.2" y="199.84" width="30.5" height="1.51" fill="#ed9278"/>
<rect x="163.2" y="201.3" width="30.5" height="1.55" fill="#efb8a7"/>
<rect x="163.2" y="202.8" width="30.5" height="1.55" fill="#f0c2b2"/>
<rect x="163.2" y="204.3" width="30.5" height="1.55" fill="#f0c2b2"/>
<rect x="163.2" y="205.8" width="30.5" height="1.55" fill="#eeb19f"/>
<rect x="163.2" y="207.3" width="30.5" height="1.25" fill="#e34a34"/>
<rect x="163.2" y="208.5" width="30.5" height="1.25" fill="#e13f27"/>
<rect x="163.2" y="209.7" width="30.5" height="1.28" fill="#efc6bc"/>
<rect x="163.2" y="210.93" width="30.5" height="1.28" fill="#f0d2ca"/>
<rect x="163.2" y="212.17" width="30.5" height="1.28" fill="#f0d1c9"/>
<rect x="163.2" y="213.4" width="30.5" height="1.25" fill="#b8b1f0"/>
<rect x="163.2" y="214.6" width="30.5" height="1.25" fill="#b2aaf0"/>
<rect x="163.2" y="215.8" width="30.5" height="1.25" fill="#bfb8f1"/>
<rect x="163.2" y="217" width="30.5" height="1.25" fill="#bab2f0"/>
<rect x="163.2" y="218.2" width="30.5" height="1.32" fill="#c3bbf1"/>
<rect x="163.2" y="219.47" width="30.5" height="1.32" fill="#c3bcf1"/>
<rect x="163.2" y="220.73" width="30.5" height="1.32" fill="#c6bff1"/>
<rect x="193.7" y="84.2" width="30.3" height="1.18" fill="#7969f0"/>
<rect x="193.7" y="85.33" width="30.3" height="1.18" fill="#8b7bf0"/>
<rect x="193.7" y="86.47" width="30.3" height="1.18" fill="#8e7ef1"/>
<rect x="193.7" y="87.6" width="30.3" height="1.95" fill="#9d8df0"/>
<rect x="193.7" y="89.5" width="30.3" height="1.05" fill="#b3a3f0"/>
<rect x="193.7" y="90.5" width="30.3" height="1.85" fill="#8d7df0"/>
<rect x="193.7" y="92.3" width="30.3" height="1.85" fill="#eec4bf"/>
<rect x="193.7" y="94.1" width="30.3" height="1.85" fill="#b1a1f0"/>
<rect x="193.7" y="95.9" width="30.3" height="1.25" fill="#c4baf0"/>
<rect x="193.7" y="97.1" width="30.3" height="1.25" fill="#7969f0"/>
<rect x="193.7" y="98.3" width="30.3" height="1.25" fill="#8a7cf1"/>
<rect x="193.7" y="99.5" width="30.3" height="1.25" fill="#8171f0"/>
<rect x="193.7" y="100.7" width="30.3" height="1.25" fill="#8070f0"/>
<rect x="193.7" y="101.9" width="30.3" height="1.55" fill="#bfb0f1"/>
<rect x="193.7" y="103.4" width="30.3" height="1.55" fill="#b9a9f0"/>
<rect x="193.7" y="104.9" width="30.3" height="1.2" fill="#f1e3dc"/>
<rect x="193.7" y="106.05" width="30.3" height="1.2" fill="#f0e1d9"/>
<rect x="193.7" y="107.2" width="30.3" height="1.45" fill="#bcadf1"/>
<rect x="193.7" y="108.6" width="30.3" height="1.45" fill="#a292f0"/>
<rect x="193.7" y="110" width="30.3" height="1.45" fill="#b9aaf0"/>
<rect x="193.7" y="111.4" width="30.3" height="1.85" fill="#f1a587"/>
<rect x="193.7" y="113.2" width="30.3" height="1.85" fill="#c0b6f0"/>
<rect x="193.7" y="115" width="30.3" height="1.25" fill="#8b7cf1"/>
<rect x="193.7" y="116.2" width="30.3" height="1.25" fill="#7666f0"/>
<rect x="193.7" y="117.4" width="30.3" height="1.25" fill="#b7a7f0"/>
<rect x="193.7" y="118.6" width="30.3" height="1.25" fill="#a797f0"/>
<rect x="193.7" y="119.8" width="30.3" height="1.25" fill="#d8d0f0"/>
<rect x="193.7" y="121" width="30.3" height="1.25" fill="#d9d1f0"/>
<rect x="193.7" y="122.2" width="30.3" height="1.2" fill="#a191f0"/>
<rect x="193.7" y="123.35" width="30.3" height="1.2" fill="#beb0f1"/>
<rect x="193.7" y="124.5" width="30.3" height="1.25" fill="#e87e5e"/>
<rect x="193.7" y="125.7" width="30.3" height="1.4" fill="#eca189"/>
<rect x="193.7" y="127.05" width="30.3" height="1.4" fill="#eca28a"/>
<rect x="193.7" y="128.4" width="30.3" height="1.4" fill="#eb9a82"/>
<rect x="193.7" y="129.75" width="30.3" height="1.4" fill="#eb977e"/>
<rect x="193.7" y="131.1" width="30.3" height="1.4" fill="#eda38c"/>
<rect x="193.7" y="132.45" width="30.3" height="1.4" fill="#eca189"/>
<rect x="193.7" y="133.8" width="30.3" height="1.4" fill="#eb977e"/>
<rect x="193.7" y="135.15" width="30.3" height="1.4" fill="#eda48d"/>
<rect x="193.7" y="136.5" width="30.3" height="1.4" fill="#eb977f"/>
<rect x="193.7" y="137.85" width="30.3" height="1.4" fill="#e98b72"/>
<rect x="193.7" y="139.2" width="30.3" height="1.4" fill="#eb957c"/>
<rect x="193.7" y="140.55" width="30.3" height="1.4" fill="#ea8d73"/>
<rect x="193.7" y="141.9" width="30.3" height="1.4" fill="#ea9178"/>
<rect x="193.7" y="143.25" width="30.3" height="1.4" fill="#eda58e"/>
<rect x="193.7" y="144.6" width="30.3" height="1.4" fill="#eb9b83"/>
<rect x="193.7" y="145.95" width="30.3" height="1.4" fill="#eea891"/>
<rect x="193.7" y="147.3" width="30.3" height="1.4" fill="#eda58e"/>
<rect x="193.7" y="148.65" width="30.3" height="1.4" fill="#ea8d73"/>
<rect x="193.7" y="150" width="30.3" height="2.05" fill="#f1bfa9"/>
<rect x="193.7" y="152" width="30.3" height="1.4" fill="#eea893"/>
<rect x="193.7" y="153.35" width="30.3" height="1.4" fill="#ea8e74"/>
<rect x="193.7" y="154.71" width="30.3" height="1.4" fill="#eea892"/>
<rect x="193.7" y="156.06" width="30.3" height="1.4" fill="#ec9d85"/>
<rect x="193.7" y="157.42" width="30.3" height="1.4" fill="#ec9f87"/>
<rect x="193.7" y="158.77" width="30.3" height="1.4" fill="#eea993"/>
<rect x="193.7" y="160.12" width="30.3" height="1.4" fill="#eb957c"/>
<rect x="193.7" y="161.48" width="30.3" height="1.4" fill="#eca089"/>
<rect x="193.7" y="162.83" width="30.3" height="1.4" fill="#eea892"/>
<rect x="193.7" y="164.18" width="30.3" height="1.4" fill="#eda48d"/>
<rect x="193.7" y="165.54" width="30.3" height="1.4" fill="#ec9f87"/>
<rect x="193.7" y="166.89" width="30.3" height="1.4" fill="#eea993"/>
<rect x="193.7" y="168.25" width="30.3" height="1.4" fill="#eda690"/>
<rect x="193.7" y="169.6" width="30.3" height="1.28" fill="#f0e8e8"/>
<rect x="193.7" y="170.83" width="30.3" height="1.28" fill="#edccc6"/>
<rect x="193.7" y="172.07" width="30.3" height="1.28" fill="#f0e9e9"/>
<rect x="193.7" y="173.3" width="30.3" height="1.49" fill="#f0bead"/>
<rect x="193.7" y="174.74" width="30.3" height="1.49" fill="#eeaf9d"/>
<rect x="193.7" y="176.18" width="30.3" height="1.49" fill="#eda794"/>
<rect x="193.7" y="177.62" width="30.3" height="1.49" fill="#f0c0b0"/>
<rect x="193.7" y="179.06" width="30.3" height="1.49" fill="#edab98"/>
<rect x="193.7" y="180.5" width="30.3" height="1.28" fill="#f0d4cc"/>
<rect x="193.7" y="181.73" width="30.3" height="1.28" fill="#f1d9d2"/>
<rect x="193.7" y="182.97" width="30.3" height="1.28" fill="#f0d5cd"/>
<rect x="193.7" y="184.2" width="30.3" height="1.41" fill="#eb967d"/>
<rect x="193.7" y="185.56" width="30.3" height="1.41" fill="#eca28a"/>
<rect x="193.7" y="186.91" width="30.3" height="1.41" fill="#ec9d84"/>
<rect x="193.7" y="188.27" width="30.3" height="1.41" fill="#eda58f"/>
<rect x="193.7" y="189.62" width="30.3" height="1.41" fill="#eca189"/>
<rect x="193.7" y="190.98" width="30.3" height="1.41" fill="#eea994"/>
<rect x="193.7" y="192.33" width="30.3" height="1.41" fill="#eea993"/>
<rect x="193.7" y="193.69" width="30.3" height="1.41" fill="#eda48e"/>
<rect x="193.7" y="195.04" width="30.3" height="1.41" fill="#eb957c"/>
<rect x="193.7" y="196.4" width="30.3" height="1.25" fill="#e06848"/>
<rect x="193.7" y="197.6" width="30.3" height="1.25" fill="#e27b5e"/>
<rect x="193.7" y="198.8" width="30.3" height="1.25" fill="#e2785a"/>
<rect x="193.7" y="200" width="30.3" height="1.28" fill="#eca28b"/>
<rect x="193.7" y="201.22" width="30.3" height="1.28" fill="#eb9a82"/>
<rect x="193.7" y="202.45" width="30.3" height="1.28" fill="#eb967e"/>
<rect x="193.7" y="203.68" width="30.3" height="1.28" fill="#eda48c"/>
<rect x="193.7" y="204.9" width="30.3" height="1.25" fill="#d9d1f0"/>
<rect x="193.7" y="206.1" width="30.3" height="1.25" fill="#d9d1f0"/>
<rect x="193.7" y="207.3" width="30.3" height="1.25" fill="#d9d1f0"/>
<rect x="193.7" y="208.5" width="30.3" height="1.28" fill="#eda58e"/>
<rect x="193.7" y="209.73" width="30.3" height="1.28" fill="#ea937a"/>
<rect x="193.7" y="210.97" width="30.3" height="1.28" fill="#eb957d"/>
<rect x="193.7" y="212.2" width="30.3" height="1.25" fill="#e37e61"/>
<rect x="193.7" y="213.4" width="30.3" height="1.25" fill="#e37c5f"/>
<rect x="193.7" y="214.6" width="30.3" height="1.25" fill="#e27b5d"/>
<rect x="193.7" y="215.8" width="30.3" height="1.29" fill="#a696f0"/>
<rect x="193.7" y="217.04" width="30.3" height="1.29" fill="#a797f0"/>
<rect x="193.7" y="218.28" width="30.3" height="1.29" fill="#b3a3f0"/>
<rect x="193.7" y="219.52" width="30.3" height="1.29" fill="#bcacf0"/>
<rect x="193.7" y="220.76" width="30.3" height="1.29" fill="#c2b2f0"/>
<rect x="224" y="84.2" width="30.2" height="1.15" fill="#edb09d"/>
<rect x="224" y="85.3" width="30.2" height="1.15" fill="#f0c8b9"/>
<rect x="224" y="86.4" width="30.2" height="1.25" fill="#a89ef0"/>
<rect x="224" y="87.6" width="30.2" height="1.25" fill="#a99ff0"/>
<rect x="224" y="88.8" width="30.2" height="1.25" fill="#c2bbf1"/>
<rect x="224" y="90" width="30.2" height="1.22" fill="#a999f0"/>
<rect x="224" y="91.17" width="30.2" height="1.22" fill="#aa9bf0"/>
<rect x="224" y="92.33" width="30.2" height="1.22" fill="#a292f0"/>
<rect x="224" y="93.5" width="30.2" height="1.45" fill="#d7cef0"/>
<rect x="224" y="94.9" width="30.2" height="1.45" fill="#c5bcf0"/>
<rect x="224" y="96.3" width="30.2" height="1.45" fill="#cec5f0"/>
<rect x="224" y="97.7" width="30.2" height="1.2" fill="#ac9df1"/>
<rect x="224" y="98.85" width="30.2" height="1.2" fill="#ae9ff1"/>
<rect x="224" y="100" width="30.2" height="1.05" fill="#afa5f0"/>
<rect x="224" y="101" width="30.2" height="1.22" fill="#9787f0"/>
<rect x="224" y="102.17" width="30.2" height="1.22" fill="#ad9ef1"/>
<rect x="224" y="103.33" width="30.2" height="1.22" fill="#aa9bf0"/>
<rect x="224" y="104.5" width="30.2" height="1.05" fill="#d3cbf1"/>
<rect x="224" y="105.5" width="30.2" height="1.2" fill="#9b8bf0"/>
<rect x="224" y="106.65" width="30.2" height="1.2" fill="#a595f0"/>
<rect x="224" y="107.8" width="30.2" height="1.85" fill="#cfc6f0"/>
<rect x="224" y="109.6" width="30.2" height="1.25" fill="#f1b597"/>
<rect x="224" y="110.8" width="30.2" height="1.25" fill="#efaa8a"/>
<rect x="224" y="112" width="30.2" height="1.85" fill="#f0d9d9"/>
<rect x="224" y="113.8" width="30.2" height="1.85" fill="#f1b89b"/>
<rect x="224" y="115.6" width="30.2" height="1.45" fill="#dbcbe9"/>
<rect x="224" y="117" width="30.2" height="1.45" fill="#e8d8e8"/>
<rect x="224" y="118.4" width="30.2" height="1.45" fill="#e9dae9"/>
<rect x="224" y="119.8" width="30.2" height="1.22" fill="#d4cdf1"/>
<rect x="224" y="120.97" width="30.2" height="1.22" fill="#cbc3f0"/>
<rect x="224" y="122.13" width="30.2" height="1.22" fill="#c8bff0"/>
<rect x="224" y="123.3" width="30.2" height="1.25" fill="#ed9c83"/>
<rect x="224" y="124.5" width="30.2" height="1.38" fill="#f1b6a0"/>
<rect x="224" y="125.83" width="30.2" height="1.38" fill="#ed9b82"/>
<rect x="224" y="127.17" width="30.2" height="1.38" fill="#ed9b82"/>
<rect x="224" y="128.5" width="30.2" height="1.38" fill="#f0b199"/>
<rect x="224" y="129.83" width="30.2" height="1.38" fill="#f0af97"/>
<rect x="224" y="131.17" width="30.2" height="1.38" fill="#f1b39c"/>
<rect x="224" y="132.5" width="30.2" height="1.38" fill="#efa68d"/>
<rect x="224" y="133.83" width="30.2" height="1.38" fill="#f1b49e"/>
<rect x="224" y="135.17" width="30.2" height="1.38" fill="#ed9b82"/>
<rect x="224" y="136.5" width="30.2" height="1.38" fill="#eea289"/>
<rect x="224" y="137.83" width="30.2" height="1.38" fill="#f0b39b"/>
<rect x="224" y="139.17" width="30.2" height="1.38" fill="#ed9b82"/>
<rect x="224" y="140.5" width="30.2" height="1.38" fill="#efa68e"/>
<rect x="224" y="141.83" width="30.2" height="1.38" fill="#f1b49d"/>
<rect x="224" y="143.17" width="30.2" height="1.38" fill="#f1b39c"/>
<rect x="224" y="144.5" width="30.2" height="1.25" fill="#e78868"/>
<rect x="224" y="145.7" width="30.2" height="1.38" fill="#ed987e"/>
<rect x="224" y="147.03" width="30.2" height="1.38" fill="#efa189"/>
<rect x="224" y="148.36" width="30.2" height="1.38" fill="#f1ac95"/>
<rect x="224" y="149.68" width="30.2" height="1.38" fill="#efa289"/>
<rect x="224" y="151.01" width="30.2" height="1.38" fill="#ed967d"/>
<rect x="224" y="152.34" width="30.2" height="1.38" fill="#f1ac95"/>
<rect x="224" y="153.67" width="30.2" height="1.38" fill="#f0a992"/>
<rect x="224" y="154.99" width="30.2" height="1.38" fill="#f1af99"/>
<rect x="224" y="156.32" width="30.2" height="1.38" fill="#f1b09a"/>
<rect x="224" y="157.65" width="30.2" height="1.38" fill="#f1af99"/>
<rect x="224" y="158.98" width="30.2" height="1.38" fill="#f0a58d"/>
<rect x="224" y="160.3" width="30.2" height="1.38" fill="#f1ad97"/>
<rect x="224" y="161.63" width="30.2" height="1.38" fill="#ef9f86"/>
<rect x="224" y="162.96" width="30.2" height="1.38" fill="#efa087"/>
<rect x="224" y="164.29" width="30.2" height="1.38" fill="#efa38b"/>
<rect x="224" y="165.61" width="30.2" height="1.38" fill="#f1b09a"/>
<rect x="224" y="166.94" width="30.2" height="1.38" fill="#f1af99"/>
<rect x="224" y="168.27" width="30.2" height="1.38" fill="#ee9c84"/>
<rect x="224" y="169.6" width="30.2" height="1.38" fill="#efa289"/>
<rect x="224" y="170.92" width="30.2" height="1.38" fill="#efa289"/>
<rect x="224" y="172.25" width="30.2" height="1.38" fill="#efa289"/>
<rect x="224" y="173.58" width="30.2" height="1.38" fill="#efa38b"/>
<rect x="224" y="174.91" width="30.2" height="1.38" fill="#efa38a"/>
<rect x="224" y="176.23" width="30.2" height="1.38" fill="#ee9a81"/>
<rect x="224" y="177.56" width="30.2" height="1.38" fill="#f0a991"/>
<rect x="224" y="178.89" width="30.2" height="1.38" fill="#f1ad97"/>
<rect x="224" y="180.22" width="30.2" height="1.38" fill="#f0a991"/>
<rect x="224" y="181.54" width="30.2" height="1.38" fill="#f1ae97"/>
<rect x="224" y="182.87" width="30.2" height="1.38" fill="#f0a991"/>
<rect x="224" y="184.2" width="30.2" height="1.25" fill="#7767e2"/>
<rect x="224" y="185.4" width="30.2" height="1.48" fill="#f1bca5"/>
<rect x="224" y="186.83" width="30.2" height="1.48" fill="#f1bda7"/>
<rect x="224" y="188.27" width="30.2" height="1.48" fill="#eeac94"/>
<rect x="224" y="189.7" width="30.2" height="1.48" fill="#ed9f85"/>
<rect x="224" y="191.13" width="30.2" height="1.48" fill="#f0b8a0"/>
<rect x="224" y="192.57" width="30.2" height="1.48" fill="#f0b9a1"/>
<rect x="224" y="194" width="30.2" height="1.38" fill="#f0a991"/>
<rect x="224" y="195.33" width="30.2" height="1.38" fill="#f1b09a"/>
<rect x="224" y="196.67" width="30.2" height="1.38" fill="#f0ab93"/>
<rect x="224" y="198" width="30.2" height="1.38" fill="#f1ad97"/>
<rect x="224" y="199.33" width="30.2" height="1.38" fill="#ed947b"/>
<rect x="224" y="200.67" width="30.2" height="1.38" fill="#f0a991"/>
<rect x="224" y="202" width="30.2" height="1.38" fill="#f1ad96"/>
<rect x="224" y="203.33" width="30.2" height="1.38" fill="#ed957c"/>
<rect x="224" y="204.67" width="30.2" height="1.38" fill="#ed957b"/>
<rect x="224" y="206" width="30.2" height="1.3" fill="#cbc3f1"/>
<rect x="224" y="207.25" width="30.2" height="1.3" fill="#ccc5f1"/>
<rect x="224" y="208.5" width="30.2" height="1.3" fill="#afa6f0"/>
<rect x="224" y="209.75" width="30.2" height="1.3" fill="#c9c2f0"/>
<rect x="224" y="211" width="30.2" height="1.25" fill="#ed987e"/>
<rect x="224" y="212.2" width="30.2" height="1.25" fill="#f1ac95"/>
<rect x="224" y="213.4" width="30.2" height="1.25" fill="#f0ab93"/>
<rect x="224" y="214.6" width="30.2" height="1.25" fill="#b9b0f0"/>
<rect x="224" y="215.8" width="30.2" height="1.25" fill="#b7aef0"/>
<rect x="224" y="217" width="30.2" height="1.25" fill="#e23b2c"/>
<rect x="224" y="218.2" width="30.2" height="1.25" fill="#e03121"/>
<rect x="224" y="219.4" width="30.2" height="1.35" fill="#f1c3b4"/>
<rect x="224" y="220.7" width="30.2" height="1.35" fill="#efbaa9"/>
<rect x="40.7" y="83.7" width="90.9" height="138.6" fill="none" stroke="#7a7a7a" stroke-width="1"/>
<rect x="131.9" y="83.7" width="122.6" height="138.6" fill="none" stroke="#7a7a7a" stroke-width="1"/>
<text x="51.00" y="234.70" font-size="6.5" fill="#111" font-weight="bold" textLength="51.50" lengthAdjust="spacingAndGlyphs" transform="rotate(0.05 51.00 234.70)">Molecular_profile</text>
<text x="110.60" y="234.70" font-size="6.5" fill="#111" font-weight="bold" textLength="20.20" lengthAdjust="spacingAndGlyphs" transform="rotate(0.05 110.60 234.70)">SOCS3</text>
<text x="169.10" y="234.70" font-size="6.5" fill="#111" font-weight="bold" textLength="32.00" lengthAdjust="spacingAndGlyphs" transform="rotate(0.05 169.10 234.70)">Phenotype</text>
<rect x="50.7" y="240.5" width="5.2" height="5.2" fill="#86c04c"/>
<text x="59.80" y="245.30" font-size="6.5" fill="#2a2a2a" textLength="28.20" lengthAdjust="spacingAndGlyphs" stroke="#2a2a2a" stroke-width="0.104" transform="rotate(0.05 59.80 245.30)">STAT3mut</text>
<rect x="50.7" y="250.8" width="5.2" height="5.2" fill="#d02018"/>
<text x="59.80" y="255.60" font-size="6.5" fill="#2a2a2a" textLength="25.40" lengthAdjust="spacingAndGlyphs" stroke="#2a2a2a" stroke-width="0.104" transform="rotate(0.05 59.80 255.60)">TET2mut</text>
<rect x="50.7" y="261.1" width="5.2" height="5.2" fill="#a6d6d6"/>
<text x="59.80" y="265.90" font-size="6.5" fill="#2a2a2a" textLength="9.40" lengthAdjust="spacingAndGlyphs" stroke="#2a2a2a" stroke-width="0.104" transform="rotate(0.05 59.80 265.90)">WT</text>
<rect x="110.5" y="240.5" width="5.2" height="5.2" fill="#b060c0"/>
<text x="119.50" y="245.30" font-size="6.5" fill="#2a2a2a" textLength="31.40" lengthAdjust="spacingAndGlyphs" stroke="#2a2a2a" stroke-width="0.104" transform="rotate(0.05 119.50 245.30)">methylated</text>
<rect x="110.5" y="250.8" width="5.2" height="5.2" fill="#302080"/>
<text x="119.50" y="255.60" font-size="6.5" fill="#2a2a2a" textLength="38.70" lengthAdjust="spacingAndGlyphs" stroke="#2a2a2a" stroke-width="0.104" transform="rotate(0.05 119.50 255.60)">unmethylated</text>
<rect x="169" y="240.5" width="5.2" height="5.2" fill="#d84020"/>
<text x="178.00" y="245.30" font-size="6.5" fill="#2a2a2a" textLength="50.80" lengthAdjust="spacingAndGlyphs" stroke="#2a2a2a" stroke-width="0.104" transform="rotate(0.05 178.00 245.30)">CD16hi_CD57neg</text>
<rect x="169" y="250.8" width="5.2" height="5.2" fill="#e8a030"/>
<text x="178.00" y="255.60" font-size="6.5" fill="#2a2a2a" textLength="50.30" lengthAdjust="spacingAndGlyphs" stroke="#2a2a2a" stroke-width="0.104" transform="rotate(0.05 178.00 255.60)">CD16hi_CD57pos</text>
<rect x="169" y="261.1" width="5.2" height="5.2" fill="#f0e040"/>
<text x="178.00" y="265.90" font-size="6.5" fill="#2a2a2a" textLength="26.00" lengthAdjust="spacingAndGlyphs" stroke="#2a2a2a" stroke-width="0.104" transform="rotate(0.05 178.00 265.90)">CD16low</text>
<text x="51.00" y="275.70" font-size="6.5" fill="#111" font-weight="bold" textLength="47.70" lengthAdjust="spacingAndGlyphs" transform="rotate(0.05 51.00 275.70)">Expression level</text>
<defs><linearGradient id="eg"><stop offset="0" stop-color="#2a1880"/><stop offset="0.5" stop-color="#f4f0f4"/><stop offset="1" stop-color="#d01010"/></linearGradient></defs>
<rect x="50.6" y="281" width="49.6" height="2.6" fill="url(#eg)"/>
<text x="310.60" y="17.30" font-size="13.4" fill="#000" font-weight="bold" transform="rotate(0.05 310.60 17.30)">B</text>
<path d="M351.2 67.9L443.8 24.7 M352.11 75.24L443.8 31.38 M353.02 82.58L443.8 38.05 M353.94 89.91L443.8 44.73 M354.85 97.25L443.8 51.4 M355.76 104.59L443.8 58.07 M356.68 111.92L443.8 64.75 M357.59 119.26L443.8 71.42 M358.5 126.6L443.8 78.1 M351.2 67.9L358.5 126.6 M365.28 61.33L371.47 119.23 M379.44 54.72L384.52 111.81 M392.68 48.55L396.71 104.87 M405.37 42.63L408.4 98.23 M417.22 37.1L419.32 92.02 M428.52 31.83L429.73 86.1 M439.45 26.73L439.79 80.38 M443.8 24.7L501.8 48.2 M443.8 31.38L501.26 55.11 M443.8 38.05L500.73 62.03 M443.8 44.72L500.19 68.94 M443.8 51.4L499.65 75.85 M443.8 58.07L499.11 82.76 M443.8 64.75L498.57 89.67 M443.8 71.42L498.04 96.59 M443.8 78.1L497.5 103.5 M452.67 28.3L452.02 81.99 M464.8 33.21L463.24 87.29 M477.61 38.4L475.11 92.91 M491.01 43.83L487.51 98.78 M452.11 82.03L362.41 137.08 M463.25 87.3L375.84 146.5 M475.1 92.9L390.13 156.5 M487.51 98.78L405.11 166.96 M358.5 126.6L410.5 162.5 M371.47 119.23L428.04 156.68 M384.52 111.81L439.91 146.8 M396.71 104.87L451 137.56 M408.4 98.23L461.63 128.7 M419.32 92.02L471.56 120.41 M429.73 86.1L481.03 112.49 M439.79 80.38L490.19 104.83 M368.38 133.42L368.38 133.42 M381.64 142.58L381.64 142.58 M395.73 152.3L395.73 152.3 M410.5 162.5L410.5 162.5" stroke="#636363" stroke-width="0.55" fill="none"/>
<text x="349.10" y="72.60" font-size="6.2" fill="#222" text-anchor="end" stroke="#222" stroke-width="0.099" transform="rotate(0.05 349.10 72.60)">40</text>
<text x="349.60" y="79.90" font-size="6.2" fill="#222" text-anchor="end" stroke="#222" stroke-width="0.099" transform="rotate(0.05 349.60 79.90)">30</text>
<text x="350.20" y="87.80" font-size="6.2" fill="#222" text-anchor="end" stroke="#222" stroke-width="0.099" transform="rotate(0.05 350.20 87.80)">20</text>
<text x="350.80" y="94.80" font-size="6.2" fill="#222" text-anchor="end" stroke="#222" stroke-width="0.099" transform="rotate(0.05 350.80 94.80)">10</text>
<text x="351.20" y="101.70" font-size="6.2" fill="#222" text-anchor="end" stroke="#222" stroke-width="0.099" transform="rotate(0.05 351.20 101.70)">0</text>
<text x="353.00" y="109.70" font-size="6.2" fill="#222" text-anchor="end" stroke="#222" stroke-width="0.099" transform="rotate(0.05 353.00 109.70)">−10</text>
<text x="353.50" y="116.60" font-size="6.2" fill="#222" text-anchor="end" stroke="#222" stroke-width="0.099" transform="rotate(0.05 353.50 116.60)">−20</text>
<text x="354.70" y="123.90" font-size="6.2" fill="#222" text-anchor="end" stroke="#222" stroke-width="0.099" transform="rotate(0.05 354.70 123.90)">−30</text>
<text x="355.50" y="131.20" font-size="6.2" fill="#222" text-anchor="end" stroke="#222" stroke-width="0.099" transform="rotate(0.05 355.50 131.20)">−40</text>
<text x="360.00" y="139.60" font-size="6.2" fill="#222" text-anchor="middle" stroke="#222" stroke-width="0.099" transform="rotate(0.05 360.00 139.60)">−20</text>
<text x="375.30" y="148.10" font-size="6.2" fill="#222" text-anchor="middle" stroke="#222" stroke-width="0.099" transform="rotate(0.05 375.30 148.10)">0</text>
<text x="383.00" y="155.60" font-size="6.2" fill="#222" text-anchor="middle" stroke="#222" stroke-width="0.099" transform="rotate(0.05 383.00 155.60)">20</text>
<text x="395.80" y="164.80" font-size="6.2" fill="#222" text-anchor="middle" stroke="#222" stroke-width="0.099" transform="rotate(0.05 395.80 164.80)">40</text>
<text x="417.30" y="167.90" font-size="6.2" fill="#222" text-anchor="middle" stroke="#222" stroke-width="0.099" transform="rotate(0.05 417.30 167.90)">60</text>
<text x="499.00" y="110.60" font-size="6.2" fill="#222" text-anchor="middle" stroke="#222" stroke-width="0.099" transform="rotate(0.05 499.00 110.60)">−80</text>
<text x="489.00" y="118.10" font-size="6.2" fill="#222" text-anchor="middle" stroke="#222" stroke-width="0.099" transform="rotate(0.05 489.00 118.10)">−60</text>
<text x="477.50" y="125.60" font-size="6.2" fill="#222" text-anchor="middle" stroke="#222" stroke-width="0.099" transform="rotate(0.05 477.50 125.60)">−40</text>
<text x="466.00" y="133.10" font-size="6.2" fill="#222" text-anchor="middle" stroke="#222" stroke-width="0.099" transform="rotate(0.05 466.00 133.10)">−20</text>
<text x="451.20" y="143.30" font-size="6.2" fill="#222" text-anchor="middle" stroke="#222" stroke-width="0.099" transform="rotate(0.05 451.20 143.30)">0</text>
<text x="441.20" y="152.10" font-size="6.2" fill="#222" text-anchor="middle" stroke="#222" stroke-width="0.099" transform="rotate(0.05 441.20 152.10)">20</text>
<text x="428.80" y="158.60" font-size="6.2" fill="#222" text-anchor="middle" stroke="#222" stroke-width="0.099" transform="rotate(0.05 428.80 158.60)">40</text>
<ellipse cx="453" cy="62.3" rx="17.5" ry="28.3" transform="rotate(14 453 62.3)" fill="none" stroke="#78b848" stroke-width="1"/>
<ellipse cx="393" cy="121.5" rx="53" ry="13.8" transform="rotate(41 393 121.5)" fill="none" stroke="#a8182c" stroke-width="1.1"/>
<circle cx="460.1" cy="43.2" r="2.3" fill="#5aa03a"/>
<circle cx="442.3" cy="78.1" r="2.3" fill="#5aa03a"/>
<circle cx="459.6" cy="75" r="2.3" fill="#a8102a"/>
<circle cx="363.2" cy="95.1" r="2.3" fill="#a8102a"/>
<circle cx="367.4" cy="97.5" r="2.3" fill="#5ca8e8"/>
<circle cx="376.2" cy="105.2" r="2.3" fill="#a8102a"/>
<circle cx="425.2" cy="145" r="2.3" fill="#5ca8e8"/>
<text x="481.20" y="48.80" font-size="7.2" fill="#70b040" font-weight="bold" text-anchor="middle" transform="rotate(0.05 481.20 48.80)">G1</text>
<text x="362.70" y="78.10" font-size="7.2" fill="#a8182c" font-weight="bold" text-anchor="middle" transform="rotate(0.05 362.70 78.10)">G2</text>
<text x="309.90" y="191.40" font-size="13.4" fill="#000" font-weight="bold" transform="rotate(0.05 309.90 191.40)">C</text>
<line x1="365.5" y1="264.4" x2="503" y2="264.4" stroke="#5a5a5a" stroke-width="1.25" stroke-dasharray="2.5 2.8"/>
<line x1="421" y1="196.5" x2="421" y2="322" stroke="#5a5a5a" stroke-width="1.25" stroke-dasharray="2.5 2.8"/>
<line x1="421.6" y1="264.3" x2="470.14" y2="207" stroke="#2a4c8e" stroke-width="0.85"/><path d="M471.5 205.4L470.7 208.13L468.94 206.64Z" fill="#2a4c8e"/>
<line x1="421.6" y1="264.3" x2="482.03" y2="242.03" stroke="#2a4c8e" stroke-width="0.85"/><path d="M484 241.3L481.96 243.28L481.16 241.12Z" fill="#2a4c8e"/>
<line x1="421.6" y1="264.3" x2="461.61" y2="245.11" stroke="#2a4c8e" stroke-width="0.85"/><path d="M463.5 244.2L461.65 246.36L460.66 244.29Z" fill="#2a4c8e"/>
<line x1="421.6" y1="264.3" x2="463.97" y2="252.75" stroke="#2a4c8e" stroke-width="0.85"/><path d="M466 252.2L463.79 253.99L463.19 251.77Z" fill="#2a4c8e"/>
<line x1="421.6" y1="264.3" x2="452.96" y2="256.98" stroke="#2a4c8e" stroke-width="0.85"/><path d="M455 256.5L452.73 258.21L452.21 255.97Z" fill="#2a4c8e"/>
<line x1="421.6" y1="264.3" x2="467.92" y2="257.12" stroke="#2a4c8e" stroke-width="0.85"/><path d="M470 256.8L467.61 258.33L467.25 256.06Z" fill="#2a4c8e"/>
<line x1="421.6" y1="264.3" x2="457.92" y2="259.76" stroke="#2a4c8e" stroke-width="0.85"/><path d="M460 259.5L457.56 260.96L457.28 258.68Z" fill="#2a4c8e"/>
<line x1="421.6" y1="264.3" x2="459.9" y2="266.67" stroke="#2a4c8e" stroke-width="0.85"/><path d="M462 266.8L459.33 267.79L459.48 265.49Z" fill="#2a4c8e"/>
<line x1="421.6" y1="264.3" x2="478.51" y2="270.57" stroke="#2a4c8e" stroke-width="0.85"/><path d="M480.6 270.8L477.89 271.66L478.14 269.37Z" fill="#2a4c8e"/>
<line x1="421.6" y1="264.3" x2="443.96" y2="269.98" stroke="#2a4c8e" stroke-width="0.85"/><path d="M446 270.5L443.2 270.97L443.76 268.75Z" fill="#2a4c8e"/>
<line x1="421.6" y1="264.3" x2="473.36" y2="276.42" stroke="#2a4c8e" stroke-width="0.85"/><path d="M475.4 276.9L472.61 277.43L473.13 275.19Z" fill="#2a4c8e"/>
<line x1="421.6" y1="264.3" x2="464.28" y2="282.96" stroke="#2a4c8e" stroke-width="0.85"/><path d="M466.2 283.8L463.36 283.81L464.28 281.7Z" fill="#2a4c8e"/>
<line x1="421.6" y1="264.3" x2="458.15" y2="284" stroke="#2a4c8e" stroke-width="0.85"/><path d="M460 285L457.17 284.78L458.26 282.75Z" fill="#2a4c8e"/>
<line x1="421.6" y1="264.3" x2="469.05" y2="295.84" stroke="#2a4c8e" stroke-width="0.85"/><path d="M470.8 297L468 296.52L469.27 294.6Z" fill="#2a4c8e"/>
<line x1="421.6" y1="264.3" x2="464.58" y2="299.86" stroke="#2a4c8e" stroke-width="0.85"/><path d="M466.2 301.2L463.46 300.43L464.93 298.66Z" fill="#2a4c8e"/>
<line x1="421.6" y1="264.3" x2="464.45" y2="315.29" stroke="#2a4c8e" stroke-width="0.85"/><path d="M465.8 316.9L463.25 315.65L465.01 314.17Z" fill="#2a4c8e"/>
<line x1="421.6" y1="264.3" x2="372.71" y2="242.07" stroke="#2a4c8e" stroke-width="0.85"/><path d="M370.8 241.2L373.64 241.23L372.69 243.32Z" fill="#2a4c8e"/>
<line x1="421.6" y1="264.3" x2="376.18" y2="271.28" stroke="#2a4c8e" stroke-width="0.85"/><path d="M374.1 271.6L376.5 270.07L376.84 272.34Z" fill="#2a4c8e"/>
<line x1="421.6" y1="264.3" x2="378.85" y2="273.36" stroke="#2a4c8e" stroke-width="0.85"/><path d="M376.8 273.8L379.1 272.14L379.58 274.39Z" fill="#2a4c8e"/>
<line x1="421.6" y1="264.3" x2="379.43" y2="282.47" stroke="#2a4c8e" stroke-width="0.85"/><path d="M377.5 283.3L379.43 281.22L380.34 283.33Z" fill="#2a4c8e"/>
<text x="475.00" y="203.60" font-size="5.0" fill="#2a2a2a" text-anchor="middle" stroke="#2a2a2a" stroke-width="0.08" transform="rotate(0.05 475.00 203.60)">CMKLR1</text>
<text x="478.50" y="239.20" font-size="5.0" fill="#2a2a2a" text-anchor="middle" stroke="#2a2a2a" stroke-width="0.08" transform="rotate(0.05 478.50 239.20)">NHSL2</text>
<text x="460.50" y="243.20" font-size="5.0" fill="#2a2a2a" text-anchor="middle" stroke="#2a2a2a" stroke-width="0.08" transform="rotate(0.05 460.50 243.20)">ZNF347</text>
<text x="470.00" y="250.70" font-size="5.0" fill="#2a2a2a" text-anchor="middle" stroke="#2a2a2a" stroke-width="0.08" transform="rotate(0.05 470.00 250.70)">LINC01504</text>
<text x="450.00" y="256.20" font-size="5.0" fill="#2a2a2a" text-anchor="middle" stroke="#2a2a2a" stroke-width="0.08" transform="rotate(0.05 450.00 256.20)">LINC00861</text>
<text x="483.50" y="255.90" font-size="5.0" fill="#2a2a2a" text-anchor="middle" stroke="#2a2a2a" stroke-width="0.08" transform="rotate(0.05 483.50 255.90)">AC027020.2</text>
<text x="466.00" y="262.20" font-size="5.0" fill="#2a2a2a" text-anchor="middle" stroke="#2a2a2a" stroke-width="0.08" transform="rotate(0.05 466.00 262.20)">AP003469.4</text>
<text x="468.50" y="269.20" font-size="5.0" fill="#2a2a2a" text-anchor="middle" stroke="#2a2a2a" stroke-width="0.08" transform="rotate(0.05 468.50 269.20)">UBASH3B</text>
<text x="489.00" y="270.40" font-size="5.0" fill="#2a2a2a" text-anchor="middle" stroke="#2a2a2a" stroke-width="0.08" transform="rotate(0.05 489.00 270.40)">ITGA6</text>
<text x="449.40" y="274.40" font-size="5.0" fill="#2a2a2a" text-anchor="middle" stroke="#2a2a2a" stroke-width="0.08" transform="rotate(0.05 449.40 274.40)">SH3RF2</text>
<text x="472.00" y="278.70" font-size="5.0" fill="#2a2a2a" text-anchor="middle" stroke="#2a2a2a" stroke-width="0.08" transform="rotate(0.05 472.00 278.70)">AL121839.2</text>
<text x="485.40" y="283.90" font-size="5.0" fill="#2a2a2a" text-anchor="middle" stroke="#2a2a2a" stroke-width="0.08" transform="rotate(0.05 485.40 283.90)">AC108925.1</text>
<text x="466.00" y="289.20" font-size="5.0" fill="#2a2a2a" text-anchor="middle" stroke="#2a2a2a" stroke-width="0.08" transform="rotate(0.05 466.00 289.20)">LINC02273</text>
<text x="476.00" y="296.80" font-size="5.0" fill="#2a2a2a" text-anchor="middle" stroke="#2a2a2a" stroke-width="0.08" transform="rotate(0.05 476.00 296.80)">CCR1</text>
<text x="465.80" y="306.80" font-size="5.0" fill="#2a2a2a" text-anchor="middle" stroke="#2a2a2a" stroke-width="0.08" transform="rotate(0.05 465.80 306.80)">TSPAN18</text>
<text x="463.80" y="321.90" font-size="5.0" fill="#2a2a2a" text-anchor="middle" stroke="#2a2a2a" stroke-width="0.08" transform="rotate(0.05 463.80 321.90)">GZMK</text>
<text x="378.50" y="243.60" font-size="5.0" fill="#2a2a2a" text-anchor="middle" stroke="#2a2a2a" stroke-width="0.08" transform="rotate(0.05 378.50 243.60)">RASD2</text>
<text x="368.70" y="270.20" font-size="5.0" fill="#d0304a" text-anchor="middle" stroke="#d0304a" stroke-width="0.08" transform="rotate(0.05 368.70 270.20)">IL10</text>
<text x="382.20" y="278.10" font-size="5.0" fill="#2a2a2a" text-anchor="middle" stroke="#2a2a2a" stroke-width="0.08" transform="rotate(0.05 382.20 278.10)">ARSI</text>
<text x="380.20" y="284.20" font-size="5.0" fill="#2a2a2a" text-anchor="middle" stroke="#2a2a2a" stroke-width="0.08" transform="rotate(0.05 380.20 284.20)">AC092490.1</text>
<rect x="363.6" y="195.5" width="140" height="127.4" fill="none" stroke="#111" stroke-width="1.1"/>
<path d="M359.8 229.1H363.6 M359.8 264.4H363.6 M359.8 299.6H363.6 M363.6 322.9V326.6 M392.2 322.9V326.6 M420.7 322.9V326.6 M449.3 322.9V326.6 M477.9 322.9V326.6" stroke="#111" stroke-width="1"/>
<text x="356.20" y="231.40" font-size="6.6" fill="#222" text-anchor="end" stroke="#222" stroke-width="0.106" transform="rotate(0.05 356.20 231.40)">1</text>
<text x="356.20" y="266.70" font-size="6.6" fill="#222" text-anchor="end" stroke="#222" stroke-width="0.106" transform="rotate(0.05 356.20 266.70)">0</text>
<text x="356.20" y="301.90" font-size="6.6" fill="#222" text-anchor="end" stroke="#222" stroke-width="0.106" transform="rotate(0.05 356.20 301.90)">-1</text>
<text x="363.60" y="335.40" font-size="6.6" fill="#222" text-anchor="middle" stroke="#222" stroke-width="0.106" transform="rotate(0.05 363.60 335.40)">-4</text>
<text x="392.20" y="335.40" font-size="6.6" fill="#222" text-anchor="middle" stroke="#222" stroke-width="0.106" transform="rotate(0.05 392.20 335.40)">-2</text>
<text x="420.70" y="335.40" font-size="6.6" fill="#222" text-anchor="middle" stroke="#222" stroke-width="0.106" transform="rotate(0.05 420.70 335.40)">0</text>
<text x="449.30" y="335.40" font-size="6.6" fill="#222" text-anchor="middle" stroke="#222" stroke-width="0.106" transform="rotate(0.05 449.30 335.40)">2</text>
<text x="477.90" y="335.40" font-size="6.6" fill="#222" text-anchor="middle" stroke="#222" stroke-width="0.106" transform="rotate(0.05 477.90 335.40)">4</text>
<text x="8.40" y="359.10" font-size="13.4" fill="#000" font-weight="bold" transform="rotate(0.05 8.40 359.10)">D</text>
<text x="124.40" y="374.20" font-size="7.9" fill="#111" font-weight="bold" text-anchor="middle" textLength="109.60" lengthAdjust="spacingAndGlyphs" transform="rotate(0.05 124.40 374.20)">G1_STAT3-like vs. G2_AITL-like</text>
<text x="124.10" y="382.30" font-size="7.9" fill="#222" text-anchor="middle" textLength="162.70" lengthAdjust="spacingAndGlyphs" stroke="#222" stroke-width="0.126" transform="rotate(0.05 124.10 382.30)">2,401 overexpressed and 3,461 underexpressed</text>
<path d="M60.1 389.5V510.6 M77.85 389.5V510.6 M95.6 389.5V510.6 M113.35 389.5V510.6 M131.1 389.5V510.6 M148.85 389.5V510.6 M166.6 389.5V510.6 M184.35 389.5V510.6 M51.8 506.1H198 M51.8 491.2H198 M51.8 476.3H198 M51.8 461.4H198 M51.8 446.5H198 M51.8 431.6H198 M51.8 416.7H198 M51.8 401.8H198" stroke="#ececec" stroke-width="0.5" fill="none"/>
<line x1="52" y1="467.4" x2="198" y2="467.4" stroke="#f0b8b8" stroke-width="0.4" stroke-dasharray="1 1"/>
<path transform="scale(.1)" d="M1232 4152h8m-8 3h8m-8 3h8m-8 3h8m-8 3h8m-5 0h8m-8 3h8m-8 3h8m-8 3h8m-8 3h8m-8 3h8m-8 3h8m-8 3h8m-5 0h8m-11 3h8m-5 0h8m-8 3h8m-11 3h8m-5 0h8m-8 3h8m-8 3h8m-8 3h8m-8 3h8m-5 0h8m-11 3h8m-5 0h8m-11 3h8m-5 0h8m-11 3h8m-5 0h8m-11 3h8m-5 0h8m-14 3h8m-2 0h8m-14 3h8m-5 0h8m-5 0h8m-11 3h8m-5 0h8m-5 0h8m115 0h8m-5 0h8m-5 0h8m-5 0h8m-149 3h8m-2 0h8m-5 0h8m115 0h8m-5 0h8m-5 0h8m-5 0h8m-146 3h8m-5 0h8m-5 0h8m115 0h8m-5 0h8m-2 0h8m-5 0h8m-152 3h8m-5 0h8m-2 0h8m115 0h8m-5 0h8m-5 0h8m-5 0h8m-146 3h8m-5 0h8m-5 0h8m115 0h8m-5 0h8m-2 0h8m-149 3h8m-2 0h8m-5 0h8m115 0h8m-2 0h8m-137 3h8m-5 0h8m112 0h8m1 0h8m-146 3h8m-5 0h8m-5 0h8m-5 0h8m112 0h8m-5 0h8m-5 0h8m-5 0h8m-143 3h8m-5 0h8m115 0h8m-5 0h8m-140 3h8m-2 0h8m-5 0h8m112 0h8m-5 0h8m-5 0h8m-5 0h8m-149 3h8m-5 0h8m-5 0h8m-5 0h8m-5 0h8m109 0h8m-2 0h8m-5 0h8m-5 0h8m-146 3h8m-5 0h8m-5 0h8m-5 0h8m109 0h8m-5 0h8m-5 0h8m-5 0h8m-143 3h8m-5 0h8m-2 0h8m109 0h8m-5 0h8m-5 0h8m-5 0h8m-5 0h8m-146 3h8m-5 0h8m-2 0h8m-5 0h8m106 0h8m-5 0h8m-5 0h8m-5 0h8m-5 0h8m-5 0h8m-146 3h8m-2 0h8m-5 0h8m106 0h8m-5 0h8m-2 0h8m-5 0h8m-143 3h8m-5 0h8m-5 0h8m-5 0h8m106 0h8m-5 0h8m-5 0h8m-2 0h8m-143 3h8m-5 0h8m-5 0h8m-5 0h8m106 0h8m-5 0h8m-5 0h8m-5 0h8m-5 0h8m-146 3h8m1 0h8m-5 0h8m106 0h8m-5 0h8m-5 0h8m-5 0h8m-2 0h8m-149 3h8m-5 0h8m-5 0h8m-5 0h8m-5 0h8m103 0h8m-5 0h8m1 0h8m-5 0h8m-143 3h8m-5 0h8m-2 0h8m103 0h8m-5 0h8m-2 0h8m-5 0h8m-143 3h8m-2 0h8m-5 0h8m-5 0h8m106 0h8m-5 0h8m-5 0h8m-2 0h8m-149 3h8m1 0h8m-5 0h8m-5 0h8m-5 0h8m100 0h8m-5 0h8m-5 0h8m-5 0h8m-5 0h8m-143 3h8m-5 0h8m-5 0h8m-5 0h8m-5 0h8m-5 0h8m100 0h8m-5 0h8m-5 0h8m-5 0h8m-5 0h8m-140 3h8m-5 0h8m-5 0h8m-5 0h8m-5 0h8m100 0h8m-5 0h8m-5 0h8m-134 3h8m-5 0h8m-5 0h8m-5 0h8m-5 0h8m100 0h8m-5 0h8m1 0h8m-5 0h8m-149 3h8m-5 0h8m-5 0h8m-5 0h8m-5 0h8m-5 0h8m-5 0h8m100 0h8m-5 0h8m-5 0h8m1 0h8m-143 3h8m-5 0h8m-5 0h8m-2 0h8m97 0h8m-5 0h8m1 0h8m-2 0h8m-137 3h8m-2 0h8m97 0h8m-5 0h8m-5 0h8m-5 0h8m-137 3h8m1 0h8m-5 0h8m-5 0h8m97 0h8m1 0h8m-5 0h8m-2 0h8m-143 3h8m-2 0h8m-5 0h8m-5 0h8m97 0h8m-5 0h8m-5 0h8m1 0h8m-5 0h8m-146 3h8m-5 0h8m-5 0h8m-2 0h8m-5 0h8m-5 0h8m97 0h8m-5 0h8m-5 0h8m1 0h8m-143 3h8m-5 0h8m-5 0h8m-2 0h8m97 0h8m-5 0h8m-5 0h8m-2 0h8m-143 3h8m1 0h8m1 0h8m-5 0h8m94 0h8m-5 0h8m-5 0h8m-5 0h8m-5 0h8m-140 3h8m1 0h8m-2 0h8m-5 0h8m94 0h8m-2 0h8m-2 0h8m-5 0h8m-140 3h8m4 0h8m-5 0h8m94 0h8m-5 0h8m-5 0h8m7 0h8m-134 3h8m-5 0h8m94 0h8m-5 0h8m-2 0h8m1 0h8m-131 3h8m-5 0h8m94 0h8m-5 0h8m-5 0h8m-5 0h8m-5 0h8m-131 3h8m-5 0h8m-5 0h8m-5 0h8m94 0h8m-5 0h8m-2 0h8m-5 0h8m-5 0h8m-137 3h8m4 0h8m94 0h8m-2 0h8m-2 0h8m-2 0h8m-146 3h8m1 0h8m-2 0h8m-5 0h8m94 0h8m4 0h8m-5 0h8m-143 3h8m-5 0h8m1 0h8m-5 0h8m-5 0h8m94 0h8m-5 0h8m-2 0h8m-137 3h8m-2 0h8m-2 0h8m-5 0h8m-5 0h8m94 0h8m-5 0h8m-2 0h8m-2 0h8m-146 3h8m-5 0h8m-2 0h8m-5 0h8m-5 0h8m-5 0h8m-5 0h8m91 0h8m-5 0h8m-5 0h8m-5 0h8m-5 0h8m-2 0h8m-5 0h8m-146 3h8m-5 0h8m-5 0h8m-5 0h8m-5 0h8m-5 0h8m94 0h8m-5 0h8m-2 0h8m-2 0h8m-5 0h8m-134 3h8m-5 0h8m-5 0h8m-5 0h8m91 0h8m-5 0h8m-2 0h8m-2 0h8m-5 0h8m-5 0h8m-143 3h8m-5 0h8m-5 0h8m-5 0h8m-2 0h8m91 0h8m-5 0h8m-2 0h8m-5 0h8m-2 0h8m-134 3h8m1 0h8m-5 0h8m88 0h8m-5 0h8m-5 0h8m-2 0h8m-5 0h8m-5 0h8m-143 3h8m-2 0h8m1 0h8m-5 0h8m91 0h8m-5 0h8m-5 0h8m-5 0h8m-5 0h8m-5 0h8m-2 0h8m-146 3h8m1 0h8m-5 0h8m1 0h8m88 0h8m-5 0h8m-5 0h8m-5 0h8m-2 0h8m-5 0h8m-5 0h8m-146 3h8m-5 0h8m-2 0h8m-2 0h8m-5 0h8m-5 0h8m91 0h8m-2 0h8m-5 0h8m-5 0h8m-2 0h8m-149 3h8m-2 0h8m-2 0h8m-5 0h8m-5 0h8m94 0h8m-5 0h8m-5 0h8m-2 0h8m-5 0h8m-140 3h8m4 0h8m-5 0h8m-5 0h8m-5 0h8m88 0h8m-5 0h8m-2 0h8m4 0h8m-140 3h8m4 0h8m-5 0h8m88 0h8m-5 0h8m1 0h8m-5 0h8m-2 0h8m-146 3h8m-2 0h8m-5 0h8m-5 0h8m-2 0h8m-5 0h8m88 0h8m-5 0h8m-2 0h8m-5 0h8m-2 0h8m-5 0h8m-140 3h8m-5 0h8m-2 0h8m-5 0h8m-5 0h8m88 0h8m-5 0h8m1 0h8m-5 0h8m-2 0h8m-137 3h8m-5 0h8m-5 0h8m-5 0h8m-5 0h8m88 0h8m1 0h8m-5 0h8m1 0h8m-5 0h8m-149 3h8m1 0h8m1 0h8m-5 0h8m88 0h8m-5 0h8m-2 0h8m-5 0h8m-5 0h8m-2 0h8m-137 3h8m-5 0h8m-2 0h8m-5 0h8m94 0h8m-2 0h8m1 0h8m-143 3h8m-5 0h8m-5 0h8m1 0h8m-5 0h8m88 0h8m-5 0h8m-5 0h8m-5 0h8m-5 0h8m-2 0h8m-143 3h8m-2 0h8m-5 0h8m-5 0h8m1 0h8m85 0h8m-5 0h8m-2 0h8m-2 0h8m-5 0h8m-5 0h8m-146 3h8m-2 0h8m-5 0h8m-2 0h8m-5 0h8m-5 0h8m-5 0h8m-5 0h8m82 0h8m-2 0h8m-5 0h8m-128 3h8m-5 0h8m-2 0h8m-5 0h8m-2 0h8m-5 0h8m82 0h8m-5 0h8m-5 0h8m-5 0h8m-5 0h8m-5 0h8m-5 0h8m-2 0h8m-140 3h8m-5 0h8m-5 0h8m-5 0h8m-5 0h8m-5 0h8m-5 0h8m82 0h8m-5 0h8m-5 0h8m-5 0h8m-5 0h8m-2 0h8m-140 3h8m-5 0h8m-2 0h8m-2 0h8m-5 0h8m-5 0h8m-5 0h8m82 0h8m-5 0h8m4 0h8m-131 3h8m-5 0h8m-2 0h8m-5 0h8m-5 0h8m-5 0h8m85 0h8m-5 0h8m-2 0h8m-5 0h8m-2 0h8m-5 0h8m-146 3h8m-2 0h8m4 0h8m-5 0h8m-5 0h8m82 0h8m-2 0h8m-2 0h8m-5 0h8m1 0h8m-146 3h8m-5 0h8m-2 0h8m-5 0h8m-2 0h8m-5 0h8m-5 0h8m82 0h8m-5 0h8m-5 0h8m-5 0h8m-5 0h8m-5 0h8m-2 0h8m-5 0h8m-146 3h8m-5 0h8m-5 0h8m-5 0h8m4 0h8m-5 0h8m88 0h8m-5 0h8m-5 0h8m-5 0h8m-125 3h8m-2 0h8m-5 0h8m-5 0h8m82 0h8m-5 0h8m-5 0h8m-2 0h8m-5 0h8m-2 0h8m-140 3h8m-5 0h8m-5 0h8m-5 0h8m-5 0h8m-2 0h8m-5 0h8m82 0h8m-5 0h8m-5 0h8m-5 0h8m1 0h8m-2 0h8m-128 3h8m-5 0h8m-5 0h8m85 0h8m1 0h8m-2 0h8m-5 0h8m-143 3h8m-5 0h8m1 0h8m-5 0h8m-2 0h8m-5 0h8m82 0h8m-5 0h8m-5 0h8m-5 0h8m-5 0h8m-5 0h8m-2 0h8m-2 0h8m-149 3h8m1 0h8m4 0h8m-5 0h8m82 0h8m-2 0h8m-2 0h8m-5 0h8m-5 0h8m-140 3h8m1 0h8m-5 0h8m-5 0h8m-5 0h8m-2 0h8m82 0h8m-2 0h8m-128 3h8m-2 0h8m-5 0h8m-5 0h8m1 0h8m-5 0h8m82 0h8m-5 0h8m-5 0h8m1 0h8m-2 0h8m-5 0h8m-143 3h8m1 0h8m1 0h8m-5 0h8m-5 0h8m79 0h8m4 0h8m-5 0h8m1 0h8m-149 3h8m-5 0h8m16 0h8m-5 0h8m76 0h8m-5 0h8m1 0h8m-2 0h8m-137 3h8m-5 0h8m-5 0h8m-5 0h8m1 0h8m-2 0h8m-5 0h8m76 0h8m-5 0h8m-5 0h8m-5 0h8m-2 0h8m1 0h8m-5 0h8m-143 3h8m-5 0h8m-2 0h8m-5 0h8m1 0h8m-5 0h8m76 0h8m-5 0h8m-5 0h8m-5 0h8m-5 0h8m-5 0h8m-5 0h8m1 0h8m-128 3h8m-2 0h8m79 0h8m-5 0h8m-2 0h8m4 0h8m-140 3h8m1 0h8m-5 0h8m-2 0h8m-5 0h8m-5 0h8m-5 0h8m76 0h8m-5 0h8m-5 0h8m1 0h8m-5 0h8m-137 3h8m-5 0h8m1 0h8m1 0h8m-5 0h8m-5 0h8m76 0h8m1 0h8m-5 0h8m-5 0h8m-2 0h8m-5 0h8m-140 3h8m1 0h8m-2 0h8m-2 0h8m-5 0h8m76 0h8m-5 0h8m1 0h8m-5 0h8m1 0h8m-5 0h8m-143 3h8m-2 0h8m-2 0h8m-5 0h8m-5 0h8m-5 0h8m-5 0h8m76 0h8m-5 0h8m-2 0h8m1 0h8m-2 0h8m-137 3h8m-2 0h8m-5 0h8m-5 0h8m-2 0h8m-5 0h8m76 0h8m-5 0h8m-5 0h8m-2 0h8m-5 0h8m-2 0h8m-128 3h8m-5 0h8m-2 0h8m-5 0h8m-5 0h8m76 0h8m-5 0h8m7 0h8m-137 3h8m10 0h8m-2 0h8m-5 0h8m76 0h8m-5 0h8m-2 0h8m-2 0h8m-2 0h8m-5 0h8m-5 0h8m-149 3h8m-5 0h8m-5 0h8m-5 0h8m-5 0h8m-5 0h8m1 0h8m-5 0h8m-5 0h8m76 0h8m-5 0h8m1 0h8m-2 0h8m1 0h8m-134 3h8m-5 0h8m-5 0h8m-5 0h8m-5 0h8m-5 0h8m76 0h8m4 0h8m-2 0h8m-2 0h8m-125 3h8m-5 0h8m-5 0h8m-5 0h8m76 0h8m-2 0h8m-2 0h8m-5 0h8m-2 0h8m-140 3h8m-5 0h8m-5 0h8m-5 0h8m-2 0h8m1 0h8m79 0h8m-5 0h8m-5 0h8m-5 0h8m-128 3h8m-5 0h8m-2 0h8m-2 0h8m-2 0h8m-2 0h8m76 0h8m1 0h8m1 0h8m-134 3h8m1 0h8m-2 0h8m-5 0h8m82 0h8m-5 0h8m-5 0h8m-2 0h8m-5 0h8m1 0h8m-5 0h8m-137 3h8m-5 0h8m1 0h8m-5 0h8m-5 0h8m76 0h8m-5 0h8m-5 0h8m13 0h8m-5 0h8m-149 3h8m1 0h8m-2 0h8m-5 0h8m-2 0h8m-5 0h8m76 0h8m-5 0h8m-2 0h8m-2 0h8m-5 0h8m-5 0h8m-2 0h8m-134 3h8m-5 0h8m-5 0h8m-5 0h8m-2 0h8m76 0h8m-5 0h8m-2 0h8m-5 0h8m-5 0h8m-5 0h8m-5 0h8m-134 3h8m-5 0h8m-2 0h8m-5 0h8m-5 0h8m-5 0h8m-5 0h8m76 0h8m-5 0h8m-5 0h8m-5 0h8m-2 0h8m-5 0h8m-131 3h8m-2 0h8m1 0h8m-2 0h8m-5 0h8m70 0h8m-5 0h8m1 0h8m-5 0h8m1 0h8m-5 0h8m-143 3h8m-5 0h8m1 0h8m-2 0h8m-5 0h8m-5 0h8m-2 0h8m70 0h8m-5 0h8m-2 0h8m-5 0h8m-5 0h8m1 0h8m-5 0h8m-5 0h8m-143 3h8m1 0h8m1 0h8m-2 0h8m73 0h8m-5 0h8m-5 0h8m4 0h8m-2 0h8m-2 0h8m-128 3h8m-5 0h8m-2 0h8m73 0h8m-5 0h8m-5 0h8m-5 0h8m-2 0h8m-5 0h8m4 0h8m-140 3h8m-2 0h8m1 0h8m-2 0h8m-5 0h8m70 0h8m-5 0h8m-5 0h8m-5 0h8m-5 0h8m4 0h8m-140 3h8m-5 0h8m1 0h8m-5 0h8m-5 0h8m-2 0h8m85 0h8m13 0h8m-5 0h8m-149 3h8m-5 0h8m-5 0h8m-5 0h8m-2 0h8m-5 0h8m-5 0h8m-2 0h8m73 0h8m-2 0h8m-5 0h8m4 0h8m-5 0h8m-5 0h8m-140 3h8m16 0h8m-5 0h8m70 0h8m-5 0h8m-5 0h8m-2 0h8m4 0h8m-140 3h8m-2 0h8m-2 0h8m1 0h8m-5 0h8m-5 0h8m-5 0h8m70 0h8m-5 0h8m-5 0h8m-5 0h8m-5 0h8m1 0h8m-134 3h8m7 0h8m-2 0h8m-2 0h8m70 0h8m-5 0h8m1 0h8m-128 3h8m-2 0h8m-5 0h8m-5 0h8m1 0h8m-2 0h8m73 0h8m-5 0h8m4 0h8m-5 0h8m-5 0h8m-5 0h8m-140 3h8m4 0h8m-5 0h8m-5 0h8m-5 0h8m-5 0h8m-5 0h8m-5 0h8m73 0h8m-5 0h8m-5 0h8m-5 0h8m1 0h8m-2 0h8m-5 0h8m-143 3h8m-2 0h8m-5 0h8m-5 0h8m-2 0h8m1 0h8m70 0h8m-5 0h8m-5 0h8m-5 0h8m-5 0h8m-2 0h8m-137 3h8m-5 0h8m13 0h8m-5 0h8m-5 0h8m-5 0h8m70 0h8m-5 0h8m-5 0h8m-5 0h8m-5 0h8m-5 0h8m-128 3h8m7 0h8m-2 0h8m-5 0h8m-5 0h8m70 0h8m-5 0h8m-5 0h8m16 0h8m-143 3h8m-5 0h8m1 0h8m1 0h8m-5 0h8m-5 0h8m70 0h8m-5 0h8m-5 0h8m-5 0h8m-5 0h8m-128 3h8m-5 0h8m-2 0h8m-5 0h8m-5 0h8m-5 0h8m4 0h8m70 0h8m-2 0h8m-5 0h8m-5 0h8m-5 0h8m-5 0h8m-2 0h8m-2 0h8m-143 3h8m7 0h8m-5 0h8m-5 0h8m-2 0h8m70 0h8m-5 0h8m-5 0h8m10 0h8m-5 0h8m-143 3h8m7 0h8m-2 0h8m-2 0h8m-5 0h8m70 0h8m-5 0h8m-5 0h8m-5 0h8m-5 0h8m7 0h8m-143 3h8m-2 0h8m-5 0h8m-5 0h8m-5 0h8m-5 0h8m-2 0h8m-2 0h8m70 0h8m-5 0h8m-2 0h8m10 0h8m-143 3h8m-2 0h8m-5 0h8m4 0h8m-5 0h8m1 0h8m64 0h8m-5 0h8m-2 0h8m1 0h8m4 0h8m-5 0h8m-146 3h8m-5 0h8m-2 0h8m1 0h8m-5 0h8m-2 0h8m-2 0h8m64 0h8m-5 0h8m-5 0h8m4 0h8m-5 0h8m-134 3h8m7 0h8m4 0h8m-5 0h8m-5 0h8m64 0h8m-5 0h8m-5 0h8m13 0h8m-2 0h8m-143 3h8m-2 0h8m-5 0h8m-2 0h8m-5 0h8m1 0h8m67 0h8m-5 0h8m-2 0h8m-5 0h8m-5 0h8m-5 0h8m-5 0h8m-131 3h8m-5 0h8m1 0h8m-5 0h8m-5 0h8m-2 0h8m-5 0h8m-5 0h8m64 0h8m-5 0h8m1 0h8m1 0h8m4 0h8m-146 3h8m-5 0h8m4 0h8m-5 0h8m-5 0h8m-5 0h8m-5 0h8m-5 0h8m-5 0h8m64 0h8m-5 0h8m-5 0h8m-5 0h8m-5 0h8m10 0h8m-5 0h8m-143 3h8m-5 0h8m-5 0h8m-2 0h8m1 0h8m-5 0h8m-2 0h8m64 0h8m-5 0h8m-2 0h8m-5 0h8m-2 0h8m-5 0h8m1 0h8m-134 3h8m-2 0h8m-5 0h8m-2 0h8m-5 0h8m-5 0h8m-5 0h8m64 0h8m-2 0h8m-5 0h8m1 0h8m-5 0h8m-131 3h8m-2 0h8m-5 0h8m-5 0h8m-5 0h8m-5 0h8m-2 0h8m-2 0h8m64 0h8m-5 0h8m-2 0h8m-5 0h8m-2 0h8m4 0h8m-146 3h8m-5 0h8m1 0h8m1 0h8m-5 0h8m-2 0h8m-2 0h8m64 0h8m-5 0h8m-5 0h8m1 0h8m-2 0h8m-5 0h8m-128 3h8m-5 0h8m4 0h8m-5 0h8m-2 0h8m64 0h8m-5 0h8m-5 0h8m-2 0h8m-5 0h8m4 0h8m-140 3h8m-2 0h8m4 0h8m-5 0h8m-5 0h8m-2 0h8m-5 0h8m64 0h8m-5 0h8m-5 0h8m-5 0h8m-5 0h8m-5 0h8m-5 0h8m-5 0h8m-137 3h8m13 0h8m-5 0h8m-2 0h8m-5 0h8m-5 0h8m64 0h8m-5 0h8m10 0h8m-2 0h8m-119 3h8m-5 0h8m-2 0h8m-5 0h8m64 0h8m-5 0h8m-5 0h8m-5 0h8m-5 0h8m1 0h8m-122 3h8m4 0h8m-5 0h8m-2 0h8m64 0h8m-5 0h8m1 0h8m-2 0h8m1 0h8m-5 0h8m-140 3h8m-5 0h8m-2 0h8m-5 0h8m-2 0h8m-5 0h8m-2 0h8m-5 0h8m64 0h8m-5 0h8m-5 0h8m-5 0h8m-119 3h8m-2 0h8m-5 0h8m-2 0h8m-5 0h8m-5 0h8m-5 0h8m-5 0h8m-5 0h8m64 0h8m-2 0h8m-5 0h8m-5 0h8m-2 0h8m-5 0h8m-5 0h8m-5 0h8m1 0h8m-149 3h8m-5 0h8m-5 0h8m-5 0h8m1 0h8m1 0h8m-5 0h8m-5 0h8m64 0h8m-5 0h8m1 0h8m-2 0h8m-131 3h8m1 0h8m-2 0h8m-5 0h8m-2 0h8m-2 0h8m-5 0h8m64 0h8m1 0h8m-2 0h8m-2 0h8m-5 0h8m1 0h8m-140 3h8m-5 0h8m-2 0h8m-5 0h8m-5 0h8m-2 0h8m-5 0h8m-5 0h8m64 0h8m-5 0h8m-2 0h8m-2 0h8m7 0h8m-5 0h8m-140 3h8m-2 0h8m-2 0h8m1 0h8m-5 0h8m-5 0h8m-5 0h8m64 0h8m-5 0h8m1 0h8m4 0h8m-137 3h8m-5 0h8m16 0h8m-5 0h8m-5 0h8m61 0h8m-5 0h8m-5 0h8m-2 0h8m-5 0h8m-5 0h8m-2 0h8m1 0h8m-146 3h8m1 0h8m-2 0h8m-2 0h8m-5 0h8m-5 0h8m-5 0h8m-5 0h8m-5 0h8m61 0h8m-5 0h8m-5 0h8m-5 0h8m-5 0h8m-2 0h8m1 0h8m-5 0h8m-137 3h8m-5 0h8m-5 0h8m-5 0h8m1 0h8m-2 0h8m-5 0h8m-5 0h8m58 0h8m-5 0h8m-5 0h8m-5 0h8m7 0h8m-2 0h8m-5 0h8m-137 3h8m-5 0h8m1 0h8m-5 0h8m-5 0h8m-5 0h8m-5 0h8m-5 0h8m-5 0h8m61 0h8m-5 0h8m-2 0h8m-5 0h8m-2 0h8m-2 0h8m-5 0h8m-137 3h8m-5 0h8m-5 0h8m-5 0h8m1 0h8m-5 0h8m-5 0h8m-5 0h8m-5 0h8m-5 0h8m58 0h8m-5 0h8m1 0h8m-2 0h8m-5 0h8m-5 0h8m-5 0h8m-5 0h8m-5 0h8m-137 3h8m1 0h8m-2 0h8m-2 0h8m-5 0h8m-5 0h8m-5 0h8m58 0h8m-5 0h8m-5 0h8m-2 0h8m-5 0h8m-5 0h8m-5 0h8m-5 0h8m-5 0h8m-2 0h8m-143 3h8m-5 0h8m-5 0h8m1 0h8m-5 0h8m-5 0h8m1 0h8m-5 0h8m-5 0h8m58 0h8m-5 0h8m-5 0h8m-5 0h8m-5 0h8m-2 0h8m-2 0h8m7 0h8m-149 3h8m4 0h8m-5 0h8m-5 0h8m-5 0h8m-5 0h8m-5 0h8m-5 0h8m-5 0h8m-5 0h8m61 0h8m-5 0h8m1 0h8m-2 0h8m-5 0h8m-2 0h8m-140 3h8m-2 0h8m1 0h8m-5 0h8m-5 0h8m-2 0h8m-5 0h8m-5 0h8m-5 0h8m58 0h8m1 0h8m1 0h8m-5 0h8m4 0h8m-143 3h8m-2 0h8m4 0h8m-2 0h8m-5 0h8m-5 0h8m-5 0h8m-5 0h8m58 0h8m-5 0h8m-2 0h8m-5 0h8m-5 0h8m-5 0h8m-5 0h8m-5 0h8m1 0h8m-5 0h8m-146 3h8m-5 0h8m-5 0h8m1 0h8m-2 0h8m-5 0h8m-2 0h8m-5 0h8m-5 0h8m58 0h8m1 0h8m-5 0h8m-5 0h8m-5 0h8m1 0h8m-458 3h8m100 0h8m40 0h8m22 0h8m-2 0h8m-5 0h8m-2 0h8m13 0h8m4 0h8m7 0h8m-5 0h8m-5 0h8m-5 0h8m-5 0h8m-2 0h8m-2 0h8m-2 0h8m-5 0h8m-5 0h8m-2 0h8m1 0h8m-5 0h8m-2 0h8m-5 0h8m1 0h8m4 0h8m-2 0h8m-5 0h8m-5 0h8m-5 0h8m-2 0h8m-5 0h8m61 0h8m-5 0h8m-5 0h8m-5 0h8m-2 0h8m-5 0h8m-5 0h8m-5 0h8m-5 0h8m-5 0h8m7 0h8m-2 0h8m-5 0h8m-2 0h8m-5 0h8m-5 0h8m-5 0h8m1 0h8m22 0h8m-5 0h8m133 0h8m-5 0h8m7 0h8m-2 0h8m22 0h8m124 0h8m-797 3h8m4 0h8m31 0h8m-5 0h8m-5 0h8m22 0h8m-5 0h8m-5 0h8m4 0h8m7 0h8m-2 0h8m4 0h8m-5 0h8m-5 0h8m1 0h8m-5 0h8m7 0h8m-2 0h8m-2 0h8m-5 0h8m1 0h8m10 0h8m-5 0h8m-5 0h8m-5 0h8m-2 0h8m-5 0h8m-5 0h8m-5 0h8m-5 0h8m-5 0h8m-2 0h8m-5 0h8m-5 0h8m-5 0h8m-5 0h8m-2 0h8m-5 0h8m-5 0h8m-5 0h8m-5 0h8m61 0h8m-5 0h8m-5 0h8m-5 0h8m-5 0h8m-5 0h8m1 0h8m-2 0h8m-2 0h8m-5 0h8m-5 0h8m-5 0h8m-5 0h8m-5 0h8m1 0h8m-5 0h8m-5 0h8m-2 0h8m1 0h8m-2 0h8m4 0h8m-5 0h8m-5 0h8m-5 0h8m-5 0h8m-5 0h8m-2 0h8m-2 0h8m1 0h8m-5 0h8m-2 0h8m1 0h8m-2 0h8m1 0h8m4 0h8m-5 0h8m49 0h8m4 0h8m1 0h8m19 0h8m10 0h8m-5 0h8m4 0h8m-2 0h8m25 0h8m-716 3h8m4 0h8m7 0h8m16 0h8m37 0h8m4 0h8m1 0h8m7 0h8m7 0h8m7 0h8m-5 0h8m1 0h8m-5 0h8m-5 0h8m-2 0h8m1 0h8m-2 0h8m-2 0h8m-5 0h8m-5 0h8m-5 0h8m-5 0h8m-5 0h8m-5 0h8m-5 0h8m-2 0h8m-2 0h8m-2 0h8m-5 0h8m-5 0h8m-5 0h8m-5 0h8m-5 0h8m-2 0h8m-2 0h8m73 0h8m-5 0h8m-5 0h8m-5 0h8m-2 0h8m-5 0h8m-5 0h8m-5 0h8m-5 0h8m-5 0h8m-5 0h8m-5 0h8m-5 0h8m-5 0h8m-5 0h8m-5 0h8m-5 0h8m-5 0h8m-5 0h8m-5 0h8m-5 0h8m-5 0h8m-5 0h8m-5 0h8m-5 0h8m-2 0h8m-5 0h8m1 0h8m-2 0h8m-5 0h8m-2 0h8m-5 0h8m-5 0h8m-2 0h8m-2 0h8m-5 0h8m4 0h8m4 0h8m-2 0h8m1 0h8m13 0h8m34 0h8m34 0h8m-584 3h8m13 0h8m16 0h8m13 0h8m7 0h8m-5 0h8m-5 0h8m-5 0h8m-5 0h8m-5 0h8m1 0h8m-5 0h8m-5 0h8m-2 0h8m-5 0h8m-5 0h8m-5 0h8m-2 0h8m-5 0h8m-2 0h8m-5 0h8m-5 0h8m-5 0h8m-5 0h8m-5 0h8m-5 0h8m-2 0h8m-2 0h8m-5 0h8m-5 0h8m-5 0h8m-5 0h8m-5 0h8m-2 0h8m-2 0h8m-5 0h8m-5 0h8m-5 0h8m-5 0h8m-5 0h8m-5 0h8m-2 0h8m-5 0h8m-5 0h8m-5 0h8m58 0h8m1 0h8m-5 0h8m-5 0h8m-5 0h8m-5 0h8m-5 0h8m-5 0h8m-5 0h8m-5 0h8m-2 0h8m-5 0h8m-2 0h8m1 0h8m-5 0h8m-2 0h8m-5 0h8m1 0h8m-5 0h8m-2 0h8m-5 0h8m7 0h8m-2 0h8m-5 0h8m-5 0h8m-5 0h8m-5 0h8m-5 0h8m4 0h8m4 0h8m-5 0h8m-2 0h8m16 0h8m-5 0h8m-5 0h8m49 0h8m-650 3h8m28 0h8m-2 0h8m37 0h8m16 0h8m1 0h8m-2 0h8m13 0h8m1 0h8m-5 0h8m-2 0h8m7 0h8m-5 0h8m-5 0h8m-5 0h8m-2 0h8m-2 0h8m-5 0h8m-5 0h8m-5 0h8m-2 0h8m-2 0h8m-2 0h8m-5 0h8m-5 0h8m-5 0h8m-5 0h8m-2 0h8m-5 0h8m-2 0h8m-5 0h8m-2 0h8m-5 0h8m-5 0h8m1 0h8m-5 0h8m-5 0h8m-5 0h8m-5 0h8m-5 0h8m-5 0h8m-5 0h8m-5 0h8m-5 0h8m-5 0h8m-2 0h8m-5 0h8m-5 0h8m-5 0h8m-2 0h8m67 0h8m1 0h8m-2 0h8m-5 0h8m-2 0h8m-2 0h8m-5 0h8m-2 0h8m-5 0h8m-5 0h8m-5 0h8m-2 0h8m-5 0h8m-5 0h8m-5 0h8m-5 0h8m-2 0h8m-5 0h8m-5 0h8m-5 0h8m-5 0h8m-5 0h8m-5 0h8m-5 0h8m1 0h8m-5 0h8m-5 0h8m-5 0h8m-5 0h8m-5 0h8m-5 0h8m13 0h8m40 0h8m52 0h8m22 0h8m52 0h8m-800 3h8m46 0h8m10 0h8m28 0h8m-2 0h8m16 0h8m16 0h8m10 0h8m-2 0h8m28 0h8m-5 0h8m13 0h8m-5 0h8m1 0h8m-2 0h8m-5 0h8m-5 0h8m-5 0h8m-5 0h8m-2 0h8m-2 0h8m-5 0h8m-5 0h8m-5 0h8m-5 0h8m-5 0h8m-5 0h8m-5 0h8m-5 0h8m-5 0h8m-5 0h8m1 0h8m-5 0h8m-5 0h8m-5 0h8m-5 0h8m-5 0h8m-5 0h8m-5 0h8m-5 0h8m-5 0h8m-5 0h8m-5 0h8m-2 0h8m-5 0h8m-5 0h8m-5 0h8m-5 0h8m58 0h8m-5 0h8m-5 0h8m-5 0h8m-5 0h8m-5 0h8m-2 0h8m-2 0h8m1 0h8m1 0h8m-5 0h8m-5 0h8m-5 0h8m-2 0h8m-2 0h8m-5 0h8m-5 0h8m-5 0h8m-2 0h8m-2 0h8m-5 0h8m-2 0h8m-2 0h8m-5 0h8m-5 0h8m-5 0h8m-5 0h8m1 0h8m1 0h8m-5 0h8m7 0h8m-5 0h8m-2 0h8m-2 0h8m-5 0h8m-5 0h8m1 0h8m1 0h8m19 0h8m121 0h8m10 0h8m37 0h8m-788 3h8m40 0h8m22 0h8m7 0h8m34 0h8m-2 0h8m-2 0h8m1 0h8m4 0h8m4 0h8m-5 0h8m-2 0h8m-2 0h8m-5 0h8m-2 0h8m-5 0h8m-5 0h8m-5 0h8m-5 0h8m-2 0h8m-5 0h8m-2 0h8m1 0h8m-2 0h8m-5 0h8m-2 0h8m-5 0h8m-5 0h8m-5 0h8m-5 0h8m-5 0h8m-5 0h8m-2 0h8m-5 0h8m-5 0h8m-5 0h8m-2 0h8m-5 0h8m-2 0h8m-5 0h8m64 0h8m-2 0h8m-5 0h8m-5 0h8m-5 0h8m-2 0h8m-5 0h8m-5 0h8m-2 0h8m-2 0h8m-5 0h8m-5 0h8m1 0h8m-5 0h8m-2 0h8m-5 0h8m-5 0h8m-5 0h8m-5 0h8m-2 0h8m4 0h8m-5 0h8m-5 0h8m-5 0h8m-5 0h8m-5 0h8m-5 0h8m-5 0h8m-2 0h8m-5 0h8m-5 0h8m-5 0h8m4 0h8m-5 0h8m7 0h8m4 0h8m10 0h8m10 0h8m22 0h8m46 0h8m64 0h8m-854 3h8m4 0h8m46 0h8m118 0h8m13 0h8m13 0h8m-5 0h8m-5 0h8m-5 0h8m10 0h8m1 0h8m13 0h8m-2 0h8m1 0h8m-5 0h8m-5 0h8m-5 0h8m-2 0h8m-5 0h8m-2 0h8m7 0h8m-5 0h8m-5 0h8m-5 0h8m-2 0h8m-5 0h8m-5 0h8m-5 0h8m-5 0h8m-5 0h8m-5 0h8m-5 0h8m-5 0h8m-5 0h8m-5 0h8m-5 0h8m-5 0h8m-5 0h8m-5 0h8m-5 0h8m-5 0h8m-5 0h8m58 0h8m-2 0h8m-5 0h8m-5 0h8m-5 0h8m-5 0h8m-5 0h8m-5 0h8m-5 0h8m-5 0h8m-2 0h8m-2 0h8m-2 0h8m-2 0h8m-5 0h8m-5 0h8m-5 0h8m-2 0h8m-2 0h8m-5 0h8m-5 0h8m-5 0h8m-5 0h8m-2 0h8m-2 0h8m-5 0h8m-2 0h8m-5 0h8m16 0h8m-5 0h8m-5 0h8m7 0h8m-2 0h8m34 0h8m1 0h8m43 0h8m10 0h8m178 0h8m136 0h8m-1067 3h8m28 0h8m52 0h8m13 0h8m16 0h8m-2 0h8m-2 0h8m-5 0h8m16 0h8m19 0h8m4 0h8m13 0h8m-2 0h8m-2 0h8m-2 0h8m1 0h8m-2 0h8m7 0h8m-5 0h8m-5 0h8m-5 0h8m-5 0h8m-5 0h8m1 0h8m4 0h8m-5 0h8m-2 0h8m-5 0h8m-5 0h8m-5 0h8m-2 0h8m-5 0h8m-5 0h8m-2 0h8m-5 0h8m-5 0h8m-5 0h8m-5 0h8m-5 0h8m-5 0h8m-5 0h8m58 0h8m-5 0h8m-5 0h8m-5 0h8m-5 0h8m-5 0h8m-5 0h8m-5 0h8m-5 0h8m-5 0h8m-5 0h8m-5 0h8m-5 0h8m-5 0h8m-5 0h8m-2 0h8m-5 0h8m-5 0h8m-5 0h8m-5 0h8m-5 0h8m-5 0h8m-2 0h8m-5 0h8m4 0h8m-2 0h8m1 0h8m-2 0h8m-5 0h8m-2 0h8m-5 0h8m-2 0h8m-5 0h8m1 0h8m-5 0h8m-5 0h8m1 0h8m-2 0h8m-2 0h8m70 0h8m307 0h8m-1022 3h8m85 0h8m19 0h8m49 0h8m25 0h8m28 0h8m-5 0h8m-5 0h8m-5 0h8m4 0h8m-5 0h8m-5 0h8m7 0h8m-5 0h8m-5 0h8m-5 0h8m-2 0h8m-5 0h8m-5 0h8m-5 0h8m-5 0h8m-5 0h8m-5 0h8m-2 0h8m-5 0h8m-5 0h8m-5 0h8m-5 0h8m1 0h8m-5 0h8m-5 0h8m-5 0h8m-5 0h8m-5 0h8m-5 0h8m-2 0h8m-5 0h8m-5 0h8m-5 0h8m-5 0h8m-2 0h8m61 0h8m-5 0h8m-2 0h8m-5 0h8m-2 0h8m-5 0h8m-5 0h8m-2 0h8m-2 0h8m-2 0h8m-5 0h8m-5 0h8m-5 0h8m-5 0h8m-5 0h8m-5 0h8m-5 0h8m-5 0h8m-5 0h8m13 0h8m-5 0h8m7 0h8m-2 0h8m7 0h8m4 0h8m4 0h8m1 0h8m-5 0h8m-5 0h8m10 0h8m1 0h8m1 0h8m22 0h8m13 0h8m7 0h8m37 0h8m-611 3h8m-2 0h8m13 0h8m7 0h8m-5 0h8m-5 0h8m-5 0h8m13 0h8m7 0h8m1 0h8m-5 0h8m-5 0h8m4 0h8m7 0h8m1 0h8m1 0h8m-2 0h8m-5 0h8m-5 0h8m-5 0h8m-5 0h8m-5 0h8m-5 0h8m-5 0h8m-2 0h8m-5 0h8m-5 0h8m-5 0h8m-5 0h8m-2 0h8m-5 0h8m-5 0h8m-5 0h8m-5 0h8m-5 0h8m-5 0h8m-5 0h8m-5 0h8m55 0h8m-5 0h8m-5 0h8m-5 0h8m-5 0h8m-5 0h8m-5 0h8m-5 0h8m-5 0h8m-5 0h8m-5 0h8m-5 0h8m-5 0h8m-5 0h8m-5 0h8m-5 0h8m1 0h8m-5 0h8m-5 0h8m-5 0h8m-5 0h8m-5 0h8m-5 0h8m-5 0h8m1 0h8m-5 0h8m-2 0h8m-2 0h8m-5 0h8m-5 0h8m16 0h8m10 0h8m10 0h8m4 0h8m1 0h8m16 0h8m37 0h8m43 0h8m52 0h8m-1013 3h8m253 0h8m79 0h8m-2 0h8m16 0h8m7 0h8m-5 0h8m-5 0h8m-2 0h8m1 0h8m-5 0h8m-5 0h8m-5 0h8m-5 0h8m-5 0h8m13 0h8m-2 0h8m-5 0h8m-5 0h8m-2 0h8m-5 0h8m1 0h8m1 0h8m-2 0h8m-5 0h8m-5 0h8m-2 0h8m-5 0h8m-5 0h8m-5 0h8m-5 0h8m-5 0h8m-5 0h8m-5 0h8m-5 0h8m-2 0h8m-5 0h8m-5 0h8m-5 0h8m-5 0h8m-2 0h8m-5 0h8m-5 0h8m-2 0h8m-5 0h8m-5 0h8m-5 0h8m58 0h8m-5 0h8m-5 0h8m-5 0h8m-5 0h8m-5 0h8m-5 0h8m-5 0h8m-5 0h8m-5 0h8m-5 0h8m-5 0h8m-2 0h8m-5 0h8m-5 0h8m-5 0h8m-5 0h8m-5 0h8m-5 0h8m-5 0h8m-2 0h8m-5 0h8m-5 0h8m-5 0h8m-5 0h8m1 0h8m1 0h8m-2 0h8m-5 0h8m10 0h8m-2 0h8m4 0h8m1 0h8m10 0h8m-2 0h8m76 0h8m88 0h8m-803 3h8m37 0h8m-2 0h8m64 0h8m10 0h8m-5 0h8m7 0h8m-5 0h8m-5 0h8m-5 0h8m-5 0h8m1 0h8m25 0h8m1 0h8m1 0h8m4 0h8m7 0h8m-5 0h8m7 0h8m-5 0h8m-5 0h8m-5 0h8m-5 0h8m-5 0h8m-5 0h8m-5 0h8m-5 0h8m-5 0h8m-5 0h8m-5 0h8m-5 0h8m-5 0h8m-2 0h8m-5 0h8m-2 0h8m-2 0h8m-5 0h8m-2 0h8m-2 0h8m1 0h8m-5 0h8m-5 0h8m-5 0h8m-5 0h8m-5 0h8m55 0h8m-5 0h8m-5 0h8m-5 0h8m-5 0h8m-2 0h8m1 0h8m-2 0h8m-5 0h8m-5 0h8m-5 0h8m-5 0h8m-5 0h8m-5 0h8m-5 0h8m-5 0h8m1 0h8m-2 0h8m-5 0h8m4 0h8m-2 0h8m-2 0h8m-5 0h8m-2 0h8m1 0h8m-5 0h8m4 0h8m1 0h8m1 0h8m-5 0h8m1 0h8m28 0h8m19 0h8m-2 0h8m16 0h8m4 0h8m13 0h8m16 0h8m34 0h8m-944 3h8m115 0h8m169 0h8m-5 0h8m16 0h8m13 0h8m1 0h8m1 0h8m4 0h8m-5 0h8m-2 0h8m1 0h8m-5 0h8m-2 0h8m-5 0h8m-2 0h8m-5 0h8m-5 0h8m-5 0h8m-5 0h8m-2 0h8m-5 0h8m-2 0h8m-2 0h8m-5 0h8m-5 0h8m-5 0h8m-5 0h8m-5 0h8m-5 0h8m-5 0h8m-2 0h8m1 0h8m-5 0h8m-5 0h8m-5 0h8m-5 0h8m-2 0h8m-5 0h8m-5 0h8m-5 0h8m-5 0h8m-5 0h8m55 0h8m-5 0h8m-5 0h8m-5 0h8m-5 0h8m-5 0h8m-5 0h8m-5 0h8m-5 0h8m-5 0h8m-5 0h8m-5 0h8m-5 0h8m-2 0h8m-2 0h8m-5 0h8m-2 0h8m1 0h8m-5 0h8m-5 0h8m1 0h8m-5 0h8m-5 0h8m-5 0h8m-5 0h8m-5 0h8m-5 0h8m-5 0h8m13 0h8m-5 0h8m-5 0h8m-5 0h8m-2 0h8m-5 0h8m-5 0h8m1 0h8m-5 0h8m25 0h8m7 0h8m-5 0h8m-5 0h8m34 0h8m4 0h8m7 0h8m-752 3h8m70 0h8m61 0h8m-5 0h8m13 0h8m-5 0h8m22 0h8m4 0h8m7 0h8m4 0h8m7 0h8m-5 0h8m7 0h8m-2 0h8m-5 0h8m1 0h8m-5 0h8m-5 0h8m-5 0h8m-5 0h8m-5 0h8m-5 0h8m-5 0h8m-2 0h8m-5 0h8m-5 0h8m-5 0h8m-2 0h8m-5 0h8m-5 0h8m-5 0h8m-5 0h8m-5 0h8m-5 0h8m-5 0h8m-5 0h8m-2 0h8m-5 0h8m-5 0h8m1 0h8m-5 0h8m-5 0h8m-5 0h8m-5 0h8m-5 0h8m-2 0h8m-5 0h8m55 0h8m-5 0h8m-5 0h8m-2 0h8m-5 0h8m-5 0h8m-5 0h8m-5 0h8m-2 0h8m-5 0h8m-2 0h8m-5 0h8m1 0h8m10 0h8m-5 0h8m-2 0h8m-5 0h8m-2 0h8m-5 0h8m-5 0h8m-2 0h8m-2 0h8m-5 0h8m-2 0h8m-5 0h8m-5 0h8m28 0h8m-5 0h8m-2 0h8m-5 0h8m-5 0h8m31 0h8m7 0h8m25 0h8m-620 3h8m70 0h8m28 0h8m16 0h8m10 0h8m10 0h8m1 0h8m1 0h8m-5 0h8m-5 0h8m1 0h8m-5 0h8m-5 0h8m-5 0h8m-5 0h8m1 0h8m-2 0h8m-2 0h8m-2 0h8m-5 0h8m-5 0h8m-5 0h8m-5 0h8m-5 0h8m-2 0h8m-5 0h8m-2 0h8m-5 0h8m-5 0h8m-2 0h8m64 0h8m-5 0h8m-5 0h8m-5 0h8m-5 0h8m-5 0h8m-5 0h8m-2 0h8m-5 0h8m-5 0h8m1 0h8m-5 0h8m-5 0h8m-5 0h8m-5 0h8m-5 0h8m-5 0h8m-2 0h8m-5 0h8m-5 0h8m-5 0h8m-2 0h8m1 0h8m-2 0h8m-2 0h8m-2 0h8m-5 0h8m4 0h8m1 0h8m1 0h8m-5 0h8m-2 0h8m-5 0h8m-5 0h8m25 0h8m25 0h8m28 0h8m-5 0h8m10 0h8m4 0h8m175 0h8m-878 3h8m91 0h8m-2 0h8m-5 0h8m-2 0h8m43 0h8m-5 0h8m1 0h8m-5 0h8m-5 0h8m1 0h8m-5 0h8m-5 0h8m-2 0h8m1 0h8m-5 0h8m-5 0h8m-5 0h8m-5 0h8m-5 0h8m-5 0h8m-5 0h8m-2 0h8m-5 0h8m-2 0h8m-5 0h8m-5 0h8m-2 0h8m-5 0h8m-2 0h8m1 0h8m-5 0h8m-5 0h8m-5 0h8m-2 0h8m-5 0h8m-5 0h8m-2 0h8m-5 0h8m-5 0h8m-5 0h8m-5 0h8m-2 0h8m-2 0h8m52 0h8m-5 0h8m-5 0h8m-5 0h8m-5 0h8m-5 0h8m-5 0h8m-5 0h8m-5 0h8m-5 0h8m-5 0h8m-5 0h8m-2 0h8m-5 0h8m-5 0h8m-5 0h8m-5 0h8m-5 0h8m-2 0h8m-5 0h8m-5 0h8m-5 0h8m-2 0h8m-2 0h8m-5 0h8m-5 0h8m-5 0h8m-5 0h8m4 0h8m-5 0h8m-5 0h8m-5 0h8m31 0h8m4 0h8m1 0h8m-5 0h8m-5 0h8m-5 0h8m-5 0h8m283 0h8m-815 3h8m28 0h8m40 0h8m-5 0h8m4 0h8m7 0h8m16 0h8m-5 0h8m1 0h8m10 0h8m-5 0h8m7 0h8m-5 0h8m-5 0h8m-5 0h8m-2 0h8m-2 0h8m-5 0h8m-5 0h8m-2 0h8m-5 0h8m-5 0h8m-5 0h8m-5 0h8m-5 0h8m-5 0h8m-5 0h8m-5 0h8m-5 0h8m-5 0h8m-2 0h8m-5 0h8m-2 0h8m-5 0h8m-5 0h8m55 0h8m1 0h8m-2 0h8m-5 0h8m-5 0h8m-5 0h8m-5 0h8m-5 0h8m-5 0h8m-5 0h8m-5 0h8m-2 0h8m-2 0h8m-5 0h8m-5 0h8m-5 0h8m-5 0h8m-2 0h8m-5 0h8m-2 0h8m-2 0h8m-5 0h8m-5 0h8m-5 0h8m4 0h8m-2 0h8m10 0h8m1 0h8m1 0h8m-2 0h8m46 0h8m1 0h8m31 0h8m286 0h8m-968 3h8m73 0h8m49 0h8m-5 0h8m-5 0h8m10 0h8m10 0h8m-2 0h8m1 0h8m-2 0h8m-2 0h8m4 0h8m19 0h8m-5 0h8m-5 0h8m-2 0h8m1 0h8m-5 0h8m-2 0h8m-5 0h8m-5 0h8m-2 0h8m-5 0h8m-5 0h8m-5 0h8m-5 0h8m-5 0h8m-5 0h8m-5 0h8m-5 0h8m-5 0h8m-5 0h8m-5 0h8m-5 0h8m-2 0h8m-5 0h8m-5 0h8m-5 0h8m-5 0h8m-5 0h8m55 0h8m-5 0h8m-5 0h8m-5 0h8m-5 0h8m-5 0h8m-5 0h8m-5 0h8m-5 0h8m-5 0h8m-5 0h8m-5 0h8m-5 0h8m-5 0h8m4 0h8m-5 0h8m-5 0h8m4 0h8m-5 0h8m-5 0h8m-2 0h8m1 0h8m-5 0h8m-5 0h8m-5 0h8m1 0h8m-5 0h8m1 0h8m-5 0h8m-2 0h8m7 0h8m13 0h8m-5 0h8m10 0h8m76 0h8m97 0h8m-1001 3h8m91 0h8m244 0h8m1 0h8m7 0h8m4 0h8m1 0h8m-5 0h8m-5 0h8m13 0h8m-5 0h8m-5 0h8m7 0h8m-5 0h8m-2 0h8m-5 0h8m-2 0h8m-5 0h8m-5 0h8m-5 0h8m1 0h8m7 0h8m-5 0h8m-5 0h8m-5 0h8m-5 0h8m-5 0h8m-5 0h8m-5 0h8m-5 0h8m-2 0h8m-5 0h8m-5 0h8m1 0h8m-5 0h8m-5 0h8m-5 0h8m-2 0h8m-5 0h8m52 0h8m-5 0h8m-5 0h8m-2 0h8m-5 0h8m-2 0h8m-5 0h8m-5 0h8m-5 0h8m-5 0h8m-2 0h8m-5 0h8m-5 0h8m-5 0h8m-5 0h8m-5 0h8m-5 0h8m-5 0h8m-5 0h8m-5 0h8m-5 0h8m-5 0h8m-5 0h8m-5 0h8m-5 0h8m-5 0h8m1 0h8m1 0h8m1 0h8m-2 0h8m-5 0h8m-2 0h8m1 0h8m-5 0h8m-2 0h8m28 0h8m-5 0h8m-5 0h8m-2 0h8m103 0h8m13 0h8m-755 3h8m73 0h8m-2 0h8m-2 0h8m13 0h8m19 0h8m-2 0h8m1 0h8m-2 0h8m-5 0h8m13 0h8m19 0h8m-5 0h8m-5 0h8m7 0h8m-2 0h8m-2 0h8m-2 0h8m-2 0h8m-5 0h8m-5 0h8m4 0h8m-2 0h8m-2 0h8m-2 0h8m-5 0h8m-5 0h8m-5 0h8m-5 0h8m-2 0h8m-2 0h8m-2 0h8m-5 0h8m-2 0h8m-5 0h8m-5 0h8m-5 0h8m-5 0h8m-5 0h8m-2 0h8m-5 0h8m-5 0h8m55 0h8m-2 0h8m1 0h8m-5 0h8m-5 0h8m-5 0h8m-5 0h8m-2 0h8m1 0h8m-2 0h8m-5 0h8m-5 0h8m-2 0h8m-5 0h8m-5 0h8m1 0h8m-5 0h8m-2 0h8m-5 0h8m-5 0h8m-5 0h8m-5 0h8m-5 0h8m4 0h8m-5 0h8m-5 0h8m4 0h8m-2 0h8m1 0h8m10 0h8m7 0h8m-2 0h8m-5 0h8m43 0h8m37 0h8m130 0h8m-2 0h8m-794 3h8m58 0h8m43 0h8m13 0h8m-2 0h8m-5 0h8m-5 0h8m-5 0h8m-2 0h8m10 0h8m4 0h8m-5 0h8m-2 0h8m1 0h8m4 0h8m-2 0h8m-5 0h8m-2 0h8m-5 0h8m-5 0h8m-5 0h8m-5 0h8m-2 0h8m-5 0h8m-2 0h8m-2 0h8m-5 0h8m-5 0h8m-5 0h8m-2 0h8m-2 0h8m-5 0h8m-5 0h8m-5 0h8m-5 0h8m52 0h8m-5 0h8m-2 0h8m-2 0h8m-5 0h8m-5 0h8m-5 0h8m-5 0h8m-5 0h8m-2 0h8m-5 0h8m-5 0h8m-5 0h8m-5 0h8m-5 0h8m-2 0h8m-5 0h8m-5 0h8m7 0h8m1 0h8m-2 0h8m-5 0h8m1 0h8m-5 0h8m4 0h8m1 0h8m-2 0h8m7 0h8m-5 0h8m-5 0h8m-5 0h8m28 0h8m-5 0h8m13 0h8m10 0h8m19 0h8m-662 3h8m46 0h8m31 0h8m-2 0h8m4 0h8m55 0h8m4 0h8m-2 0h8m1 0h8m-5 0h8m-2 0h8m-5 0h8m-5 0h8m-5 0h8m-5 0h8m1 0h8m-5 0h8m-5 0h8m-5 0h8m-5 0h8m-2 0h8m-2 0h8m-5 0h8m1 0h8m-2 0h8m-2 0h8m4 0h8m-5 0h8m-5 0h8m1 0h8m-5 0h8m-5 0h8m-5 0h8m-2 0h8m-5 0h8m-5 0h8m-5 0h8m52 0h8m-5 0h8m-2 0h8m-5 0h8m-5 0h8m-5 0h8m-5 0h8m-2 0h8m-2 0h8m-5 0h8m-5 0h8m-5 0h8m-5 0h8m-5 0h8m-2 0h8m10 0h8m-5 0h8m-5 0h8m-5 0h8m-5 0h8m-5 0h8m-5 0h8m-5 0h8m1 0h8m-5 0h8m-5 0h8m-5 0h8m-5 0h8m-5 0h8m-2 0h8m-2 0h8m-2 0h8m10 0h8m-2 0h8m-2 0h8m13 0h8m4 0h8m43 0h8m4 0h8m46 0h8m-659 3h8m37 0h8m7 0h8m-5 0h8m-5 0h8m7 0h8m37 0h8m1 0h8m-2 0h8m-2 0h8m-2 0h8m4 0h8m-5 0h8m1 0h8m-5 0h8m-5 0h8m-5 0h8m-2 0h8m-5 0h8m-2 0h8m-5 0h8m-5 0h8m-5 0h8m-2 0h8m4 0h8m-5 0h8m-5 0h8m-5 0h8m-5 0h8m-5 0h8m-5 0h8m-5 0h8m-5 0h8m-5 0h8m-5 0h8m-2 0h8m-5 0h8m-5 0h8m-5 0h8m-5 0h8m52 0h8m-5 0h8m-5 0h8m-5 0h8m-5 0h8m-5 0h8m-5 0h8m-5 0h8m-5 0h8m1 0h8m-5 0h8m-5 0h8m-5 0h8m-5 0h8m-5 0h8m4 0h8m4 0h8m-5 0h8m-5 0h8m-5 0h8m-5 0h8m-5 0h8m-5 0h8m-2 0h8m-2 0h8m-5 0h8m10 0h8m1 0h8m-5 0h8m1 0h8m-5 0h8m-5 0h8m1 0h8m16 0h8m28 0h8m-602 3h8m55 0h8m1 0h8m13 0h8m7 0h8m-5 0h8m13 0h8m-5 0h8m-5 0h8m1 0h8m1 0h8m7 0h8m-5 0h8m1 0h8m7 0h8m-5 0h8m-2 0h8m-5 0h8m-5 0h8m-2 0h8m4 0h8m-2 0h8m-5 0h8m-5 0h8m-5 0h8m-5 0h8m-2 0h8m-2 0h8m-5 0h8m-5 0h8m-5 0h8m-5 0h8m-2 0h8m-5 0h8m-5 0h8m-5 0h8m-5 0h8m-5 0h8m-5 0h8m-5 0h8m-5 0h8m-5 0h8m-5 0h8m-5 0h8m52 0h8m-5 0h8m-5 0h8m-5 0h8m-2 0h8m-5 0h8m-5 0h8m-5 0h8m-5 0h8m-5 0h8m-5 0h8m-2 0h8m-5 0h8m-5 0h8m-5 0h8m-2 0h8m-5 0h8m-2 0h8m-5 0h8m-2 0h8m-5 0h8m-5 0h8m-2 0h8m-5 0h8m-5 0h8m-5 0h8m-5 0h8m-5 0h8m19 0h8m-2 0h8m-2 0h8m7 0h8m4 0h8m1 0h8m10 0h8m19 0h8m133 0h8m-734 3h8m91 0h8m1 0h8m7 0h8m-2 0h8m1 0h8m-2 0h8m7 0h8m-5 0h8m-5 0h8m4 0h8m-5 0h8m-2 0h8m-2 0h8m4 0h8m-2 0h8m1 0h8m-5 0h8m-2 0h8m-5 0h8m1 0h8m-5 0h8m-2 0h8m-5 0h8m1 0h8m-2 0h8m-5 0h8m-2 0h8m-5 0h8m-5 0h8m-2 0h8m-5 0h8m-5 0h8m-5 0h8m-5 0h8m-5 0h8m-5 0h8m-5 0h8m-5 0h8m46 0h8m-2 0h8m-2 0h8m-5 0h8m-5 0h8m-2 0h8m-5 0h8m-5 0h8m-5 0h8m-5 0h8m-2 0h8m-5 0h8m-5 0h8m-5 0h8m-2 0h8m-5 0h8m-5 0h8m-5 0h8m-5 0h8m-5 0h8m-5 0h8m-5 0h8m-2 0h8m-2 0h8m1 0h8m1 0h8m16 0h8m-2 0h8m-2 0h8m13 0h8m1 0h8m10 0h8m13 0h8m28 0h8m-734 3h8m145 0h8m25 0h8m13 0h8m22 0h8m16 0h8m22 0h8m-5 0h8m10 0h8m-5 0h8m1 0h8m-5 0h8m-5 0h8m-5 0h8m-2 0h8m-2 0h8m-5 0h8m-5 0h8m-5 0h8m1 0h8m-5 0h8m-5 0h8m-5 0h8m-2 0h8m-2 0h8m-5 0h8m-2 0h8m-5 0h8m-5 0h8m-2 0h8m-5 0h8m-5 0h8m-5 0h8m-5 0h8m-5 0h8m-5 0h8m49 0h8m-5 0h8m-5 0h8m-2 0h8m-5 0h8m-5 0h8m-5 0h8m-5 0h8m-5 0h8m-5 0h8m-5 0h8m-2 0h8m-5 0h8m1 0h8m-2 0h8m-5 0h8m-5 0h8m-2 0h8m-2 0h8m-2 0h8m-5 0h8m-5 0h8m-2 0h8m-2 0h8m-5 0h8m1 0h8m-2 0h8m-2 0h8m-5 0h8m1 0h8m7 0h8m-2 0h8m4 0h8m1 0h8m1 0h8m25 0h8m16 0h8m1 0h8m-2 0h8m46 0h8m-653 3h8m7 0h8m-2 0h8m10 0h8m10 0h8m-5 0h8m13 0h8m1 0h8m-5 0h8m4 0h8m7 0h8m-2 0h8m-5 0h8m-5 0h8m-5 0h8m10 0h8m-5 0h8m-5 0h8m-2 0h8m13 0h8m-5 0h8m-5 0h8m10 0h8m-5 0h8m-2 0h8m-5 0h8m-5 0h8m-5 0h8m-5 0h8m-5 0h8m1 0h8m-5 0h8m-5 0h8m-5 0h8m-5 0h8m-5 0h8m-5 0h8m-5 0h8m-5 0h8m-5 0h8m-5 0h8m-5 0h8m46 0h8m-5 0h8m-5 0h8m-5 0h8m-2 0h8m-5 0h8m-5 0h8m-2 0h8m1 0h8m-5 0h8m-2 0h8m-5 0h8m-5 0h8m4 0h8m-2 0h8m-5 0h8m-5 0h8m-5 0h8m1 0h8m-5 0h8m1 0h8m-2 0h8m-5 0h8m-5 0h8m-5 0h8m-5 0h8m-5 0h8m-5 0h8m-5 0h8m-2 0h8m1 0h8m-2 0h8m64 0h8m1 0h8m-2 0h8m82 0h8m-5 0h8m4 0h8m-647 3h8m13 0h8m16 0h8m28 0h8m1 0h8m-5 0h8m-5 0h8m-2 0h8m1 0h8m-2 0h8m-2 0h8m-5 0h8m-2 0h8m-5 0h8m4 0h8m-5 0h8m10 0h8m-5 0h8m-5 0h8m-5 0h8m-5 0h8m1 0h8m-5 0h8m-5 0h8m-5 0h8m-5 0h8m-5 0h8m-2 0h8m-5 0h8m-5 0h8m-5 0h8m-5 0h8m-5 0h8m-5 0h8m-5 0h8m-5 0h8m-5 0h8m-5 0h8m-5 0h8m55 0h8m-5 0h8m-2 0h8m-5 0h8m-2 0h8m-2 0h8m-5 0h8m-5 0h8m1 0h8m-5 0h8m-5 0h8m-5 0h8m-5 0h8m-2 0h8m-5 0h8m1 0h8m-2 0h8m-5 0h8m-2 0h8m-2 0h8m-5 0h8m-5 0h8m-2 0h8m-5 0h8m-5 0h8m4 0h8m4 0h8m16 0h8m19 0h8m4 0h8m34 0h8m22 0h8m-563 3h8m10 0h8m-5 0h8m19 0h8m4 0h8m-2 0h8m22 0h8m-5 0h8m4 0h8m-5 0h8m4 0h8m-2 0h8m-2 0h8m-5 0h8m-5 0h8m-5 0h8m-5 0h8m1 0h8m-5 0h8m-2 0h8m-5 0h8m-5 0h8m-2 0h8m-2 0h8m-5 0h8m-5 0h8m-5 0h8m-5 0h8m-5 0h8m-5 0h8m-5 0h8m-5 0h8m-5 0h8m-5 0h8m-5 0h8m-5 0h8m-5 0h8m-5 0h8m46 0h8m-5 0h8m-5 0h8m-5 0h8m-5 0h8m-5 0h8m-5 0h8m-5 0h8m-5 0h8m-5 0h8m-5 0h8m-2 0h8m-5 0h8m-5 0h8m-2 0h8m-5 0h8m-5 0h8m-5 0h8m-2 0h8m-2 0h8m-5 0h8m1 0h8m-5 0h8m4 0h8m-5 0h8m4 0h8m1 0h8m-2 0h8m1 0h8m-5 0h8m19 0h8m-5 0h8m7 0h8m-5 0h8m-497 3h8m43 0h8m-5 0h8m28 0h8m-5 0h8m-5 0h8m7 0h8m-5 0h8m13 0h8m-2 0h8m-5 0h8m1 0h8m-5 0h8m-2 0h8m-5 0h8m1 0h8m-2 0h8m-5 0h8m-5 0h8m-5 0h8m-5 0h8m-5 0h8m-5 0h8m-2 0h8m-5 0h8m-5 0h8m-2 0h8m-5 0h8m-5 0h8m-5 0h8m-5 0h8m-5 0h8m-5 0h8m-5 0h8m-5 0h8m-5 0h8m-5 0h8m-5 0h8m46 0h8m-5 0h8m-5 0h8m-2 0h8m-5 0h8m-5 0h8m-5 0h8m-5 0h8m-5 0h8m-5 0h8m-5 0h8m-2 0h8m-5 0h8m-5 0h8m4 0h8m1 0h8m-2 0h8m-2 0h8m-5 0h8m-2 0h8m-5 0h8m-2 0h8m-5 0h8m-5 0h8m-5 0h8m-5 0h8m1 0h8m-5 0h8m-5 0h8m-2 0h8m7 0h8m16 0h8m31 0h8m25 0h8m43 0h8m145 0h8m-1097 3h8m10 0h8m262 0h8m64 0h8m10 0h8m7 0h8m19 0h8m19 0h8m7 0h8m-5 0h8m-5 0h8m-2 0h8m7 0h8m-5 0h8m-5 0h8m-5 0h8m1 0h8m1 0h8m-5 0h8m-5 0h8m-5 0h8m-5 0h8m-2 0h8m-5 0h8m-2 0h8m1 0h8m-5 0h8m-5 0h8m-5 0h8m-5 0h8m-5 0h8m-2 0h8m-5 0h8m-5 0h8m1 0h8m-5 0h8m46 0h8m-5 0h8m-5 0h8m-5 0h8m-5 0h8m-2 0h8m-5 0h8m-2 0h8m-5 0h8m-5 0h8m-5 0h8m1 0h8m-5 0h8m-5 0h8m4 0h8m-5 0h8m4 0h8m4 0h8m-5 0h8m-5 0h8m-5 0h8m-5 0h8m-5 0h8m-2 0h8m-5 0h8m1 0h8m-5 0h8m7 0h8m1 0h8m22 0h8m16 0h8m-5 0h8m61 0h8m-662 3h8m40 0h8m7 0h8m25 0h8m16 0h8m1 0h8m13 0h8m4 0h8m-2 0h8m13 0h8m-2 0h8m-5 0h8m4 0h8m-5 0h8m-5 0h8m-5 0h8m-5 0h8m-2 0h8m-5 0h8m1 0h8m-5 0h8m-5 0h8m1 0h8m-5 0h8m-5 0h8m-5 0h8m-2 0h8m-5 0h8m-2 0h8m-5 0h8m-5 0h8m-5 0h8m-2 0h8m-2 0h8m-5 0h8m-5 0h8m-2 0h8m-5 0h8m-2 0h8m-5 0h8m49 0h8m-5 0h8m-5 0h8m-5 0h8m1 0h8m-5 0h8m-2 0h8m-2 0h8m-5 0h8m-5 0h8m-5 0h8m-5 0h8m-5 0h8m-5 0h8m-5 0h8m-5 0h8m-5 0h8m-2 0h8m-5 0h8m-2 0h8m1 0h8m-5 0h8m-5 0h8m-2 0h8m1 0h8m-5 0h8m-2 0h8m-2 0h8m13 0h8m-2 0h8m-2 0h8m1 0h8m10 0h8m-2 0h8m-2 0h8m-2 0h8m1 0h8m-578 3h8m76 0h8m10 0h8m16 0h8m7 0h8m-2 0h8m-5 0h8m-5 0h8m-2 0h8m-5 0h8m1 0h8m-5 0h8m7 0h8m-5 0h8m-5 0h8m-5 0h8m4 0h8m1 0h8m-2 0h8m-5 0h8m-5 0h8m-5 0h8m-5 0h8m-5 0h8m-2 0h8m-2 0h8m-5 0h8m-5 0h8m-5 0h8m-5 0h8m-5 0h8m-5 0h8m-5 0h8m-5 0h8m4 0h8m-5 0h8m-5 0h8m-5 0h8m-5 0h8m52 0h8m-5 0h8m-5 0h8m-5 0h8m-5 0h8m-5 0h8m-5 0h8m-5 0h8m-5 0h8m-2 0h8m-2 0h8m-2 0h8m-5 0h8m-5 0h8m-5 0h8m-2 0h8m-5 0h8m-2 0h8m4 0h8m10 0h8m-5 0h8m-2 0h8m-5 0h8m-5 0h8m7 0h8m-5 0h8m7 0h8m1 0h8m-5 0h8m-2 0h8m16 0h8m-5 0h8m184 0h8m94 0h8m-941 3h8m25 0h8m64 0h8m49 0h8m10 0h8m25 0h8m22 0h8m25 0h8m19 0h8m-5 0h8m-5 0h8m-5 0h8m-5 0h8m-5 0h8m-2 0h8m-5 0h8m-5 0h8m-2 0h8m1 0h8m-5 0h8m-5 0h8m-5 0h8m-5 0h8m-5 0h8m-5 0h8m-5 0h8m-5 0h8m-5 0h8m-5 0h8m-2 0h8m-5 0h8m-5 0h8m-5 0h8m-2 0h8m46 0h8m-2 0h8m-2 0h8m-5 0h8m-5 0h8m-5 0h8m-5 0h8m-5 0h8m-5 0h8m-2 0h8m-5 0h8m-5 0h8m-5 0h8m-5 0h8m-5 0h8m7 0h8m-5 0h8m-5 0h8m4 0h8m-2 0h8m-2 0h8m-5 0h8m-5 0h8m-2 0h8m-2 0h8m-5 0h8m-5 0h8m10 0h8m-5 0h8m-2 0h8m1 0h8m-2 0h8m91 0h8m16 0h8m340 0h8m-1262 3h8m208 0h8m-2 0h8m64 0h8m46 0h8m13 0h8m10 0h8m4 0h8m4 0h8m1 0h8m-5 0h8m-5 0h8m-2 0h8m-5 0h8m-2 0h8m-2 0h8m-5 0h8m-5 0h8m-5 0h8m-5 0h8m-5 0h8m-2 0h8m1 0h8m-5 0h8m-2 0h8m-5 0h8m1 0h8m-2 0h8m-5 0h8m-5 0h8m-5 0h8m1 0h8m-5 0h8m1 0h8m-5 0h8m-5 0h8m-5 0h8m-5 0h8m-5 0h8m-5 0h8m-2 0h8m-5 0h8m-5 0h8m-5 0h8m43 0h8m-5 0h8m-5 0h8m-5 0h8m-5 0h8m-2 0h8m-5 0h8m-5 0h8m-5 0h8m-2 0h8m-5 0h8m-5 0h8m-5 0h8m-5 0h8m-5 0h8m-5 0h8m-2 0h8m-2 0h8m4 0h8m-5 0h8m-2 0h8m-5 0h8m-5 0h8m-2 0h8m10 0h8m-2 0h8m-5 0h8m4 0h8m-2 0h8m-2 0h8m10 0h8m-5 0h8m22 0h8m1 0h8m1 0h8m-866 3h8m160 0h8m175 0h8m7 0h8m-2 0h8m-5 0h8m22 0h8m4 0h8m-2 0h8m7 0h8m4 0h8m1 0h8m-2 0h8m1 0h8m13 0h8m-5 0h8m-5 0h8m-5 0h8m-5 0h8m-5 0h8m1 0h8m4 0h8m-5 0h8m-5 0h8m-5 0h8m-2 0h8m-2 0h8m-5 0h8m-5 0h8m-5 0h8m-5 0h8m-2 0h8m-2 0h8m-2 0h8m-5 0h8m-2 0h8m43 0h8m-5 0h8m-5 0h8m-5 0h8m-5 0h8m-2 0h8m-5 0h8m1 0h8m-5 0h8m-5 0h8m-5 0h8m-5 0h8m1 0h8m-5 0h8m-5 0h8m-5 0h8m-2 0h8m-5 0h8m-5 0h8m-5 0h8m-5 0h8m1 0h8m-5 0h8m-5 0h8m-2 0h8m4 0h8m-2 0h8m1 0h8m4 0h8m1 0h8m1 0h8m16 0h8m4 0h8m-2 0h8m73 0h8m112 0h8m-779 3h8m16 0h8m34 0h8m85 0h8m10 0h8m-5 0h8m-5 0h8m-2 0h8m-5 0h8m-5 0h8m-2 0h8m4 0h8m-5 0h8m-5 0h8m1 0h8m-5 0h8m-5 0h8m-2 0h8m-5 0h8m-2 0h8m-5 0h8m-5 0h8m-5 0h8m-2 0h8m-2 0h8m-5 0h8m-5 0h8m-5 0h8m-5 0h8m-2 0h8m-5 0h8m-5 0h8m-5 0h8m-5 0h8m-5 0h8m-5 0h8m-2 0h8m-5 0h8m-5 0h8m-5 0h8m-5 0h8m40 0h8m-5 0h8m-5 0h8m1 0h8m1 0h8m-2 0h8m-5 0h8m-5 0h8m-5 0h8m-5 0h8m-5 0h8m-5 0h8m-2 0h8m-5 0h8m-5 0h8m-5 0h8m-5 0h8m-5 0h8m-2 0h8m-5 0h8m-5 0h8m1 0h8m-5 0h8m-2 0h8m7 0h8m1 0h8m7 0h8m16 0h8m19 0h8m31 0h8m1 0h8m52 0h8m-632 3h8m13 0h8m79 0h8m4 0h8m4 0h8m4 0h8m-5 0h8m-2 0h8m1 0h8m7 0h8m-2 0h8m1 0h8m1 0h8m-5 0h8m-5 0h8m-5 0h8m-5 0h8m-5 0h8m-5 0h8m-5 0h8m-5 0h8m-5 0h8m-5 0h8m-5 0h8m-2 0h8m-2 0h8m-5 0h8m-5 0h8m-5 0h8m-5 0h8m-2 0h8m-5 0h8m-5 0h8m-5 0h8m-5 0h8m-5 0h8m43 0h8m-5 0h8m1 0h8m-5 0h8m-5 0h8m-2 0h8m-5 0h8m-5 0h8m-5 0h8m-5 0h8m-5 0h8m7 0h8m-5 0h8m-5 0h8m-5 0h8m-2 0h8m-2 0h8m-5 0h8m-2 0h8m1 0h8m-5 0h8m-5 0h8m-5 0h8m-5 0h8m7 0h8m10 0h8m-5 0h8m-2 0h8m1 0h8m7 0h8m-5 0h8m4 0h8m4 0h8m4 0h8m178 0h8m-677 3h8m10 0h8m19 0h8m4 0h8m7 0h8m28 0h8m-5 0h8m1 0h8m-2 0h8m-5 0h8m1 0h8m-5 0h8m4 0h8m10 0h8m-5 0h8m-2 0h8m-5 0h8m1 0h8m-5 0h8m-2 0h8m-5 0h8m-5 0h8m-5 0h8m-5 0h8m-5 0h8m-2 0h8m46 0h8m-2 0h8m-5 0h8m-5 0h8m-5 0h8m-5 0h8m-5 0h8m1 0h8m-5 0h8m-5 0h8m-2 0h8m-2 0h8m-5 0h8m-5 0h8m-5 0h8m-5 0h8m-5 0h8m-2 0h8m-5 0h8m-5 0h8m-2 0h8m-2 0h8m-2 0h8m-2 0h8m-5 0h8m-2 0h8m1 0h8m1 0h8m-2 0h8m7 0h8m1 0h8m7 0h8m28 0h8m40 0h8m25 0h8m268 0h8m-1001 3h8m34 0h8m67 0h8m94 0h8m10 0h8m1 0h8m-2 0h8m-2 0h8m-5 0h8m-5 0h8m-5 0h8m-2 0h8m-5 0h8m-5 0h8m-2 0h8m-5 0h8m-5 0h8m-2 0h8m-2 0h8m-2 0h8m1 0h8m-5 0h8m-5 0h8m-2 0h8m-5 0h8m-2 0h8m-2 0h8m-5 0h8m1 0h8m-5 0h8m-5 0h8m-5 0h8m-5 0h8m-5 0h8m43 0h8m-2 0h8m-5 0h8m-5 0h8m-5 0h8m-2 0h8m-5 0h8m-5 0h8m-5 0h8m-2 0h8m-2 0h8m1 0h8m-5 0h8m-5 0h8m-5 0h8m-2 0h8m-5 0h8m1 0h8m16 0h8m-2 0h8m16 0h8m10 0h8m-5 0h8m22 0h8m13 0h8m37 0h8m79 0h8m-644 3h8m13 0h8m37 0h8m7 0h8m-2 0h8m4 0h8m-2 0h8m4 0h8m-5 0h8m-2 0h8m-5 0h8m1 0h8m-2 0h8m-5 0h8m-5 0h8m1 0h8m-2 0h8m13 0h8m-5 0h8m-5 0h8m-2 0h8m-5 0h8m-5 0h8m-5 0h8m-5 0h8m-5 0h8m-5 0h8m-5 0h8m1 0h8m-5 0h8m-5 0h8m-2 0h8m1 0h8m43 0h8m-5 0h8m-2 0h8m-5 0h8m-5 0h8m-5 0h8m-5 0h8m-5 0h8m-5 0h8m1 0h8m-2 0h8m-5 0h8m-5 0h8m-5 0h8m-2 0h8m-5 0h8m-5 0h8m-2 0h8m-5 0h8m-5 0h8m1 0h8m1 0h8m-5 0h8m1 0h8m-5 0h8m-5 0h8m-5 0h8m-2 0h8m10 0h8m-2 0h8m-2 0h8m-5 0h8m-5 0h8m13 0h8m-2 0h8m37 0h8m37 0h8m-707 3h8m115 0h8m73 0h8m25 0h8m10 0h8m-2 0h8m-2 0h8m-5 0h8m-5 0h8m4 0h8m1 0h8m-2 0h8m-2 0h8m-5 0h8m-5 0h8m1 0h8m-5 0h8m-2 0h8m-2 0h8m-5 0h8m-5 0h8m-5 0h8m-5 0h8m-5 0h8m-5 0h8m-5 0h8m-5 0h8m-5 0h8m-5 0h8m-5 0h8m-5 0h8m-5 0h8m43 0h8m-5 0h8m-5 0h8m-5 0h8m-2 0h8m-5 0h8m4 0h8m1 0h8m-5 0h8m1 0h8m-5 0h8m-5 0h8m-5 0h8m-2 0h8m-5 0h8m-5 0h8m-2 0h8m7 0h8m-5 0h8m-5 0h8m7 0h8m-5 0h8m-2 0h8m10 0h8m16 0h8m19 0h8m31 0h8m91 0h8m-647 3h8m-5 0h8m4 0h8m37 0h8m4 0h8m1 0h8m28 0h8m-5 0h8m10 0h8m4 0h8m4 0h8m-5 0h8m-5 0h8m-5 0h8m-5 0h8m-5 0h8m-2 0h8m-2 0h8m-5 0h8m-5 0h8m-5 0h8m-5 0h8m-5 0h8m1 0h8m-5 0h8m1 0h8m-5 0h8m-5 0h8m-5 0h8m-5 0h8m-2 0h8m-5 0h8m-2 0h8m-5 0h8m-5 0h8m-5 0h8m40 0h8m-5 0h8m-5 0h8m1 0h8m-5 0h8m-5 0h8m-5 0h8m-5 0h8m-5 0h8m-5 0h8m-5 0h8m-5 0h8m-5 0h8m-5 0h8m-5 0h8m-5 0h8m-5 0h8m-5 0h8m1 0h8m1 0h8m-5 0h8m-5 0h8m1 0h8m-5 0h8m-2 0h8m22 0h8m-5 0h8m-5 0h8m-2 0h8m1 0h8m-5 0h8m-2 0h8m-2 0h8m-2 0h8m4 0h8m7 0h8m10 0h8m-2 0h8m-5 0h8m10 0h8m19 0h8m55 0h8m-683 3h8m25 0h8m19 0h8m16 0h8m37 0h8m43 0h8m-5 0h8m-5 0h8m-2 0h8m-5 0h8m-5 0h8m-2 0h8m-5 0h8m-5 0h8m-2 0h8m-2 0h8m-2 0h8m-5 0h8m-5 0h8m-2 0h8m-5 0h8m-5 0h8m-5 0h8m-5 0h8m1 0h8m-5 0h8m-5 0h8m-5 0h8m-5 0h8m-5 0h8m-5 0h8m-5 0h8m-5 0h8m-5 0h8m-5 0h8m-5 0h8m40 0h8m-2 0h8m-5 0h8m-5 0h8m-5 0h8m-5 0h8m-5 0h8m-5 0h8m-5 0h8m-2 0h8m-5 0h8m-5 0h8m-5 0h8m-5 0h8m-5 0h8m-5 0h8m4 0h8m-2 0h8m-5 0h8m-5 0h8m-5 0h8m-5 0h8m1 0h8m1 0h8m-2 0h8m31 0h8m64 0h8m16 0h8m127 0h8m-683 3h8m4 0h8m25 0h8m7 0h8m-5 0h8m31 0h8m1 0h8m1 0h8m4 0h8m1 0h8m-2 0h8m-2 0h8m4 0h8m1 0h8m4 0h8m-5 0h8m-5 0h8m-2 0h8m-5 0h8m-5 0h8m-5 0h8m-5 0h8m-5 0h8m-5 0h8m-5 0h8m-5 0h8m-5 0h8m-5 0h8m-5 0h8m-5 0h8m-2 0h8m-5 0h8m-5 0h8m-2 0h8m40 0h8m-2 0h8m-5 0h8m-5 0h8m-5 0h8m-5 0h8m-2 0h8m-5 0h8m-2 0h8m-2 0h8m-5 0h8m-2 0h8m-5 0h8m-5 0h8m-5 0h8m-5 0h8m-2 0h8m-2 0h8m-5 0h8m-5 0h8m1 0h8m-5 0h8m-5 0h8m4 0h8m10 0h8m19 0h8m16 0h8m1 0h8m7 0h8m13 0h8m58 0h8m19 0h8m-812 3h8m115 0h8m127 0h8m1 0h8m13 0h8m-2 0h8m10 0h8m-2 0h8m1 0h8m1 0h8m-2 0h8m-5 0h8m-5 0h8m-5 0h8m4 0h8m-2 0h8m-5 0h8m1 0h8m-5 0h8m-5 0h8m-2 0h8m-2 0h8m-5 0h8m-5 0h8m-5 0h8m-5 0h8m-5 0h8m-2 0h8m-5 0h8m-5 0h8m-5 0h8m-5 0h8m-5 0h8m-5 0h8m-2 0h8m40 0h8m-5 0h8m-5 0h8m-5 0h8m-2 0h8m-5 0h8m-2 0h8m1 0h8m-5 0h8m-5 0h8m-5 0h8m-5 0h8m-5 0h8m-5 0h8m-5 0h8m-2 0h8m-5 0h8m-2 0h8m-5 0h8m1 0h8m-2 0h8m-5 0h8m-5 0h8m-5 0h8m4 0h8m-5 0h8m1 0h8m-2 0h8m4 0h8m16 0h8m16 0h8m4 0h8m52 0h8m109 0h8m202 0h8m-944 3h8m85 0h8m31 0h8m4 0h8m10 0h8m-2 0h8m4 0h8m7 0h8m4 0h8m1 0h8m-2 0h8m-5 0h8m-5 0h8m-5 0h8m-5 0h8m-5 0h8m-2 0h8m-2 0h8m-5 0h8m-2 0h8m-5 0h8m-5 0h8m-5 0h8m-5 0h8m4 0h8m-5 0h8m-5 0h8m-2 0h8m-5 0h8m-5 0h8m-5 0h8m49 0h8m-5 0h8m-5 0h8m1 0h8m-5 0h8m-5 0h8m-2 0h8m-2 0h8m-5 0h8m1 0h8m-5 0h8m-5 0h8m-2 0h8m7 0h8m-2 0h8m4 0h8m-2 0h8m4 0h8m1 0h8m-5 0h8m37 0h8m-686 3h8m262 0h8m-5 0h8m13 0h8m-5 0h8m34 0h8m34 0h8m1 0h8m-5 0h8m-5 0h8m-5 0h8m-5 0h8m-5 0h8m-5 0h8m1 0h8m-5 0h8m-5 0h8m-5 0h8m-5 0h8m-2 0h8m-5 0h8m-5 0h8m-2 0h8m-5 0h8m-5 0h8m-5 0h8m-5 0h8m40 0h8m-2 0h8m-5 0h8m-5 0h8m-2 0h8m-5 0h8m-5 0h8m-2 0h8m4 0h8m-5 0h8m-5 0h8m-5 0h8m4 0h8m-5 0h8m-5 0h8m-5 0h8m-5 0h8m-5 0h8m-5 0h8m-5 0h8m1 0h8m-2 0h8m-5 0h8m-5 0h8m-2 0h8m7 0h8m10 0h8m1 0h8m4 0h8m34 0h8m-5 0h8m34 0h8m-626 3h8m40 0h8m67 0h8m1 0h8m4 0h8m-2 0h8m16 0h8m1 0h8m4 0h8m10 0h8m-5 0h8m-5 0h8m-5 0h8m1 0h8m-2 0h8m7 0h8m-5 0h8m-5 0h8m-5 0h8m-5 0h8m-5 0h8m1 0h8m1 0h8m-5 0h8m-2 0h8m-5 0h8m-2 0h8m-5 0h8m-5 0h8m-5 0h8m-5 0h8m43 0h8m-2 0h8m-5 0h8m-5 0h8m-5 0h8m-5 0h8m-5 0h8m-2 0h8m-5 0h8m1 0h8m-2 0h8m-5 0h8m-5 0h8m-5 0h8m-5 0h8m-5 0h8m-5 0h8m-5 0h8m4 0h8m-5 0h8m4 0h8m-5 0h8m1 0h8m1 0h8m-2 0h8m7 0h8m40 0h8m82 0h8m-518 3h8m-2 0h8m4 0h8m19 0h8m7 0h8m13 0h8m1 0h8m-5 0h8m-5 0h8m-5 0h8m-2 0h8m-5 0h8m-2 0h8m-5 0h8m-2 0h8m-5 0h8m-2 0h8m1 0h8m-5 0h8m-5 0h8m-5 0h8m-5 0h8m-5 0h8m-5 0h8m-5 0h8m-5 0h8m-5 0h8m-5 0h8m-5 0h8m-5 0h8m-5 0h8m-5 0h8m-5 0h8m40 0h8m-5 0h8m-5 0h8m-2 0h8m-5 0h8m-2 0h8m-2 0h8m-5 0h8m-5 0h8m-5 0h8m-5 0h8m-5 0h8m-5 0h8m-5 0h8m-5 0h8m-5 0h8m-5 0h8m-2 0h8m-2 0h8m-5 0h8m-5 0h8m1 0h8m-2 0h8m-5 0h8m-5 0h8m1 0h8m-2 0h8m10 0h8m4 0h8m10 0h8m22 0h8m-2 0h8m136 0h8m-683 3h8m43 0h8m-5 0h8m4 0h8m7 0h8m76 0h8m-5 0h8m-5 0h8m-5 0h8m4 0h8m-5 0h8m-2 0h8m4 0h8m-5 0h8m-2 0h8m-5 0h8m-5 0h8m-2 0h8m-5 0h8m7 0h8m-5 0h8m-5 0h8m-5 0h8m-5 0h8m-5 0h8m-5 0h8m-5 0h8m-5 0h8m-5 0h8m-5 0h8m-5 0h8m-5 0h8m-5 0h8m-5 0h8m-5 0h8m34 0h8m-2 0h8m-5 0h8m-5 0h8m-5 0h8m-5 0h8m-2 0h8m-5 0h8m-5 0h8m-5 0h8m-5 0h8m-2 0h8m-5 0h8m-2 0h8m-5 0h8m-2 0h8m-2 0h8m-5 0h8m-2 0h8m-5 0h8m-2 0h8m1 0h8m-5 0h8m-5 0h8m-2 0h8m-5 0h8m1 0h8m-5 0h8m-2 0h8m4 0h8m7 0h8m-2 0h8m19 0h8m-662 3h8m73 0h8m79 0h8m4 0h8m4 0h8m49 0h8m4 0h8m13 0h8m-2 0h8m-5 0h8m-5 0h8m-5 0h8m1 0h8m-2 0h8m4 0h8m-2 0h8m-2 0h8m-5 0h8m-5 0h8m-5 0h8m4 0h8m-5 0h8m-5 0h8m-2 0h8m-5 0h8m-5 0h8m-5 0h8m-5 0h8m-5 0h8m-5 0h8m-5 0h8m-2 0h8m-5 0h8m-5 0h8m-5 0h8m-5 0h8m-5 0h8m-5 0h8m-5 0h8m-5 0h8m-5 0h8m37 0h8m1 0h8m-5 0h8m-2 0h8m-5 0h8m-2 0h8m-5 0h8m-2 0h8m-5 0h8m1 0h8m-5 0h8m-5 0h8m-5 0h8m-5 0h8m-2 0h8m-5 0h8m-5 0h8m-5 0h8m-5 0h8m1 0h8m1 0h8m1 0h8m-2 0h8m13 0h8m19 0h8m1 0h8m-5 0h8m10 0h8m10 0h8m-2 0h8m-749 3h8m283 0h8m34 0h8m16 0h8m-2 0h8m-2 0h8m-5 0h8m7 0h8m1 0h8m-2 0h8m-2 0h8m-5 0h8m-5 0h8m-5 0h8m-2 0h8m-5 0h8m4 0h8m-5 0h8m-5 0h8m-5 0h8m-5 0h8m-2 0h8m-5 0h8m-5 0h8m-5 0h8m-2 0h8m-5 0h8m-5 0h8m-5 0h8m-5 0h8m-5 0h8m40 0h8m-5 0h8m-5 0h8m-5 0h8m-5 0h8m-5 0h8m-5 0h8m-2 0h8m-5 0h8m-5 0h8m-2 0h8m-5 0h8m-2 0h8m-2 0h8m-5 0h8m-5 0h8m-5 0h8m4 0h8m-5 0h8m-5 0h8m-5 0h8m4 0h8m-5 0h8m-5 0h8m67 0h8m-497 3h8m4 0h8m55 0h8m13 0h8m25 0h8m7 0h8m-5 0h8m13 0h8m-5 0h8m-5 0h8m-2 0h8m4 0h8m-5 0h8m-5 0h8m-2 0h8m-2 0h8m-2 0h8m-2 0h8m-5 0h8m-5 0h8m1 0h8m-5 0h8m-5 0h8m-5 0h8m-5 0h8m-5 0h8m-5 0h8m-5 0h8m-5 0h8m-5 0h8m-5 0h8m34 0h8m-5 0h8m-5 0h8m-5 0h8m-5 0h8m-2 0h8m-5 0h8m-5 0h8m-5 0h8m-2 0h8m-2 0h8m1 0h8m-5 0h8m-2 0h8m-5 0h8m-5 0h8m1 0h8m-5 0h8m-5 0h8m-5 0h8m-5 0h8m-2 0h8m-5 0h8m-5 0h8m-5 0h8m7 0h8m-5 0h8m10 0h8m22 0h8m85 0h8m-5 0h8m22 0h8m-488 3h8m7 0h8m-2 0h8m25 0h8m1 0h8m-5 0h8m1 0h8m-5 0h8m-5 0h8m-5 0h8m-5 0h8m-2 0h8m-2 0h8m-5 0h8m-5 0h8m-5 0h8m-5 0h8m-5 0h8m1 0h8m-2 0h8m1 0h8m-5 0h8m-5 0h8m37 0h8m1 0h8m-5 0h8m-2 0h8m-5 0h8m-2 0h8m-2 0h8m-5 0h8m-2 0h8m-2 0h8m-5 0h8m-5 0h8m-5 0h8m-2 0h8m-5 0h8m-5 0h8m-2 0h8m1 0h8m-5 0h8m-5 0h8m-2 0h8m13 0h8m7 0h8m-2 0h8m-434 3h8m1 0h8m76 0h8m-2 0h8m1 0h8m-2 0h8m7 0h8m-5 0h8m-5 0h8m-5 0h8m-2 0h8m-5 0h8m1 0h8m4 0h8m-5 0h8m-2 0h8m-5 0h8m-2 0h8m-5 0h8m-5 0h8m1 0h8m-5 0h8m-5 0h8m-5 0h8m1 0h8m-5 0h8m-5 0h8m1 0h8m-5 0h8m-5 0h8m-5 0h8m-5 0h8m31 0h8m1 0h8m-2 0h8m-5 0h8m-5 0h8m-5 0h8m-5 0h8m-5 0h8m-5 0h8m-5 0h8m-5 0h8m-5 0h8m4 0h8m-5 0h8m4 0h8m-5 0h8m-5 0h8m-5 0h8m-5 0h8m4 0h8m7 0h8m-2 0h8m-5 0h8m16 0h8m1 0h8m19 0h8m106 0h8m22 0h8m-548 3h8m-5 0h8m28 0h8m4 0h8m4 0h8m-2 0h8m-5 0h8m-5 0h8m-5 0h8m4 0h8m-5 0h8m4 0h8m4 0h8m-2 0h8m-2 0h8m-2 0h8m4 0h8m-2 0h8m-5 0h8m-5 0h8m-5 0h8m-5 0h8m-5 0h8m1 0h8m-5 0h8m-5 0h8m34 0h8m-2 0h8m-5 0h8m-2 0h8m-5 0h8m-2 0h8m-5 0h8m-5 0h8m-5 0h8m-5 0h8m-5 0h8m1 0h8m4 0h8m7 0h8m-5 0h8m-5 0h8m-5 0h8m1 0h8m16 0h8m-5 0h8m-2 0h8m-5 0h8m-5 0h8m19 0h8m-5 0h8m16 0h8m10 0h8m1 0h8m25 0h8m-503 3h8m-2 0h8m37 0h8m7 0h8m-5 0h8m-5 0h8m13 0h8m-2 0h8m13 0h8m-5 0h8m-5 0h8m-5 0h8m-5 0h8m-5 0h8m-2 0h8m-2 0h8m-5 0h8m-5 0h8m-2 0h8m-5 0h8m-5 0h8m-5 0h8m-5 0h8m-5 0h8m-5 0h8m-5 0h8m-5 0h8m-5 0h8m-5 0h8m-2 0h8m-5 0h8m-5 0h8m-5 0h8m31 0h8m-5 0h8m-5 0h8m-5 0h8m-5 0h8m-2 0h8m-5 0h8m-5 0h8m-5 0h8m-5 0h8m-2 0h8m-5 0h8m-5 0h8m-5 0h8m-5 0h8m-5 0h8m-2 0h8m-5 0h8m-5 0h8m-2 0h8m-5 0h8m7 0h8m-5 0h8m1 0h8m40 0h8m1 0h8m85 0h8m-500 3h8m4 0h8m19 0h8m-2 0h8m19 0h8m-2 0h8m25 0h8m10 0h8m-2 0h8m-5 0h8m1 0h8m-5 0h8m-5 0h8m-5 0h8m1 0h8m-5 0h8m-5 0h8m4 0h8m-5 0h8m-5 0h8m-2 0h8m-5 0h8m-2 0h8m34 0h8m-5 0h8m-5 0h8m-5 0h8m-5 0h8m-5 0h8m-5 0h8m-5 0h8m-5 0h8m-5 0h8m-5 0h8m-5 0h8m-5 0h8m-5 0h8m-5 0h8m-5 0h8m-5 0h8m-5 0h8m-5 0h8m-5 0h8m1 0h8m-2 0h8m-2 0h8m7 0h8m7 0h8m13 0h8m28 0h8m49 0h8m-437 3h8m-5 0h8m4 0h8m43 0h8m1 0h8m-2 0h8m-5 0h8m-5 0h8m-5 0h8m-5 0h8m-2 0h8m-2 0h8m-5 0h8m1 0h8m-5 0h8m-5 0h8m-5 0h8m-5 0h8m1 0h8m-5 0h8m-5 0h8m-5 0h8m-5 0h8m-5 0h8m-5 0h8m-5 0h8m-5 0h8m-5 0h8m-5 0h8m28 0h8m-5 0h8m-5 0h8m-2 0h8m-5 0h8m-5 0h8m-5 0h8m-5 0h8m-5 0h8m-5 0h8m-5 0h8m-2 0h8m-5 0h8m-5 0h8m-5 0h8m-2 0h8m-5 0h8m-5 0h8m-2 0h8m-5 0h8m-5 0h8m-5 0h8m10 0h8m-5 0h8m-2 0h8m-5 0h8m-5 0h8m-5 0h8m-2 0h8m4 0h8m10 0h8m1 0h8m28 0h8m-2 0h8m94 0h8m-698 3h8m160 0h8m16 0h8m-5 0h8m19 0h8m1 0h8m-2 0h8m7 0h8m13 0h8m-5 0h8m-5 0h8m-5 0h8m-2 0h8m-5 0h8m-5 0h8m-5 0h8m-5 0h8m-5 0h8m-5 0h8m-2 0h8m-5 0h8m-2 0h8m-2 0h8m-5 0h8m-5 0h8m-5 0h8m-5 0h8m-5 0h8m-5 0h8m-2 0h8m34 0h8m-5 0h8m-2 0h8m-5 0h8m-2 0h8m-2 0h8m-5 0h8m-5 0h8m-5 0h8m7 0h8m-5 0h8m-2 0h8m-5 0h8m-5 0h8m-5 0h8m-2 0h8m-2 0h8m10 0h8m-5 0h8m19 0h8m4 0h8m13 0h8m124 0h8m-560 3h8m52 0h8m1 0h8m-2 0h8m-5 0h8m22 0h8m-2 0h8m1 0h8m7 0h8m-2 0h8m-2 0h8m-5 0h8m-5 0h8m-2 0h8m-5 0h8m-2 0h8m-5 0h8m-2 0h8m-5 0h8m-5 0h8m-5 0h8m-5 0h8m1 0h8m-5 0h8m-2 0h8m-5 0h8m-5 0h8m-2 0h8m28 0h8m-5 0h8m-5 0h8m-5 0h8m-5 0h8m-5 0h8m-5 0h8m-5 0h8m-5 0h8m-5 0h8m-5 0h8m-5 0h8m-5 0h8m4 0h8m-2 0h8m19 0h8m-5 0h8m-5 0h8m1 0h8m-5 0h8m1 0h8m19 0h8m25 0h8m-467 3h8m106 0h8m-2 0h8m-2 0h8m-5 0h8m10 0h8m1 0h8m1 0h8m4 0h8m-5 0h8m-5 0h8m-5 0h8m-5 0h8m-2 0h8m-2 0h8m1 0h8m-5 0h8m-5 0h8m-5 0h8m-5 0h8m-2 0h8m-5 0h8m-5 0h8m-5 0h8m-5 0h8m-5 0h8m-5 0h8m-5 0h8m-5 0h8m40 0h8m-5 0h8m-5 0h8m-5 0h8m-5 0h8m-5 0h8m-5 0h8m-2 0h8m-5 0h8m-5 0h8m-5 0h8m-5 0h8m-5 0h8m-5 0h8m-2 0h8m-2 0h8m-2 0h8m4 0h8m-5 0h8m4 0h8m13 0h8m4 0h8m25 0h8m1 0h8m94 0h8m-554 3h8m40 0h8m25 0h8m28 0h8m1 0h8m-2 0h8m-5 0h8m10 0h8m-5 0h8m-2 0h8m7 0h8m-5 0h8m-5 0h8m-2 0h8m-5 0h8m-5 0h8m-5 0h8m-2 0h8m-5 0h8m-2 0h8m-5 0h8m-5 0h8m-5 0h8m-5 0h8m-5 0h8m-5 0h8m-2 0h8m28 0h8m-2 0h8m1 0h8m-5 0h8m-2 0h8m-5 0h8m-5 0h8m-2 0h8m-5 0h8m-5 0h8m-5 0h8m-5 0h8m-2 0h8m-5 0h8m1 0h8m-5 0h8m-5 0h8m-5 0h8m4 0h8m4 0h8m-5 0h8m-5 0h8m-2 0h8m-5 0h8m40 0h8m1 0h8m67 0h8m-572 3h8m13 0h8m-2 0h8m79 0h8m25 0h8m4 0h8m1 0h8m7 0h8m-5 0h8m-5 0h8m7 0h8m-2 0h8m10 0h8m-5 0h8m-5 0h8m-5 0h8m-5 0h8m4 0h8m-2 0h8m-5 0h8m-2 0h8m-5 0h8m-5 0h8m-5 0h8m-5 0h8m-5 0h8m28 0h8m-5 0h8m-2 0h8m-5 0h8m-5 0h8m-5 0h8m-2 0h8m-2 0h8m-5 0h8m-5 0h8m-5 0h8m-5 0h8m-5 0h8m-5 0h8m-5 0h8m-2 0h8m-5 0h8m4 0h8m1 0h8m-5 0h8m-2 0h8m1 0h8m-2 0h8m-5 0h8m1 0h8m16 0h8m1 0h8m31 0h8m-533 3h8m121 0h8m10 0h8m13 0h8m1 0h8m-2 0h8m1 0h8m4 0h8m1 0h8m-2 0h8m-2 0h8m-5 0h8m-5 0h8m-5 0h8m-5 0h8m-2 0h8m4 0h8m-5 0h8m-5 0h8m-2 0h8m1 0h8m-5 0h8m-5 0h8m-5 0h8m-5 0h8m-5 0h8m-5 0h8m-5 0h8m-5 0h8m28 0h8m-5 0h8m-5 0h8m-2 0h8m-5 0h8m-5 0h8m-2 0h8m-5 0h8m-2 0h8m-2 0h8m-5 0h8m-5 0h8m-5 0h8m-2 0h8m-5 0h8m4 0h8m-2 0h8m-5 0h8m7 0h8m4 0h8m-5 0h8m22 0h8m82 0h8m-2 0h8m4 0h8m-575 3h8m37 0h8m43 0h8m13 0h8m19 0h8m4 0h8m1 0h8m16 0h8m-5 0h8m-2 0h8m-5 0h8m-2 0h8m-2 0h8m-5 0h8m-2 0h8m-5 0h8m-5 0h8m-2 0h8m-2 0h8m-2 0h8m-5 0h8m-5 0h8m-5 0h8m1 0h8m-2 0h8m-5 0h8m-5 0h8m-5 0h8m-5 0h8m-5 0h8m28 0h8m-5 0h8m-5 0h8m-5 0h8m-5 0h8m-5 0h8m-5 0h8m-5 0h8m-5 0h8m-5 0h8m-5 0h8m-2 0h8m-5 0h8m-5 0h8m-5 0h8m-5 0h8m-5 0h8m7 0h8m-5 0h8m-2 0h8m28 0h8m1 0h8m4 0h8m-356 3h8m25 0h8m-2 0h8m1 0h8m7 0h8m-2 0h8m-5 0h8m1 0h8m-2 0h8m1 0h8m-5 0h8m-2 0h8m-2 0h8m-5 0h8m-5 0h8m-2 0h8m-5 0h8m-5 0h8m-5 0h8m-5 0h8m-2 0h8m-5 0h8m-5 0h8m-2 0h8m-2 0h8m-2 0h8m-5 0h8m-5 0h8m-5 0h8m-5 0h8m-5 0h8m25 0h8m-2 0h8m-5 0h8m-2 0h8m-5 0h8m-5 0h8m-5 0h8m-5 0h8m-5 0h8m-2 0h8m4 0h8m-5 0h8m-5 0h8m1 0h8m-5 0h8m-2 0h8m-5 0h8m-5 0h8m-5 0h8m7 0h8m1 0h8m1 0h8m13 0h8m4 0h8m67 0h8m-545 3h8m118 0h8m4 0h8m19 0h8m-2 0h8m4 0h8m-5 0h8m4 0h8m-2 0h8m1 0h8m-5 0h8m-5 0h8m-5 0h8m-5 0h8m-5 0h8m-5 0h8m1 0h8m7 0h8m-5 0h8m-5 0h8m-5 0h8m-5 0h8m1 0h8m-5 0h8m-5 0h8m31 0h8m-5 0h8m-5 0h8m1 0h8m-5 0h8m-5 0h8m-2 0h8m1 0h8m-2 0h8m-5 0h8m-5 0h8m-5 0h8m-2 0h8m1 0h8m-2 0h8m4 0h8m-2 0h8m-2 0h8m-5 0h8m-2 0h8m-5 0h8m1 0h8m-5 0h8m70 0h8m34 0h8m-479 3h8m16 0h8m55 0h8m-5 0h8m-2 0h8m1 0h8m-5 0h8m-2 0h8m-5 0h8m-5 0h8m-5 0h8m-5 0h8m1 0h8m-5 0h8m-5 0h8m-5 0h8m-5 0h8m-5 0h8m-2 0h8m-5 0h8m-5 0h8m-2 0h8m-5 0h8m-5 0h8m-5 0h8m-5 0h8m-5 0h8m-5 0h8m-5 0h8m-5 0h8m31 0h8m-5 0h8m-5 0h8m-5 0h8m-5 0h8m1 0h8m-5 0h8m-5 0h8m-5 0h8m-5 0h8m-5 0h8m-5 0h8m-5 0h8m-5 0h8m-5 0h8m-2 0h8m-5 0h8m-2 0h8m10 0h8m1 0h8m-5 0h8m142 0h8m4 0h8m7 0h8m-5 0h8m-521 3h8m34 0h8m-2 0h8m-2 0h8m-2 0h8m4 0h8m31 0h8m-2 0h8m-2 0h8m-2 0h8m-5 0h8m4 0h8m-5 0h8m-5 0h8m-5 0h8m4 0h8m-5 0h8m-2 0h8m-5 0h8m-2 0h8m-5 0h8m-5 0h8m-5 0h8m-5 0h8m-5 0h8m-5 0h8m25 0h8m-5 0h8m-5 0h8m-5 0h8m-5 0h8m-5 0h8m-5 0h8m-5 0h8m-5 0h8m-2 0h8m-5 0h8m-5 0h8m-5 0h8m-2 0h8m-2 0h8m-5 0h8m-2 0h8m-5 0h8m-5 0h8m-2 0h8m-5 0h8m-5 0h8m13 0h8m28 0h8m-5 0h8m7 0h8m-404 3h8m28 0h8m1 0h8m-5 0h8m16 0h8m16 0h8m13 0h8m-2 0h8m1 0h8m-5 0h8m4 0h8m1 0h8m-2 0h8m-5 0h8m7 0h8m-5 0h8m-5 0h8m-5 0h8m-5 0h8m-5 0h8m-2 0h8m-5 0h8m-5 0h8m-2 0h8m22 0h8m10 0h8m-2 0h8m-5 0h8m-5 0h8m-5 0h8m-5 0h8m-2 0h8m-5 0h8m-5 0h8m-5 0h8m1 0h8m-5 0h8m-5 0h8m-5 0h8m-5 0h8m-2 0h8m-5 0h8m-2 0h8m1 0h8m-2 0h8m-2 0h8m1 0h8m4 0h8m-5 0h8m7 0h8m43 0h8m13 0h8m7 0h8m10 0h8m10 0h8m-512 3h8m28 0h8m1 0h8m19 0h8m13 0h8m-2 0h8m1 0h8m-5 0h8m4 0h8m1 0h8m-5 0h8m-5 0h8m-5 0h8m-2 0h8m-5 0h8m-5 0h8m-5 0h8m-5 0h8m-5 0h8m-5 0h8m-5 0h8m-2 0h8m1 0h8m-5 0h8m-5 0h8m-5 0h8m-5 0h8m-5 0h8m-5 0h8m28 0h8m-5 0h8m-5 0h8m-2 0h8m-5 0h8m-5 0h8m-2 0h8m-5 0h8m-5 0h8m-5 0h8m-5 0h8m-5 0h8m-5 0h8m-5 0h8m-2 0h8m-2 0h8m-5 0h8m-2 0h8m1 0h8m-5 0h8m1 0h8m-5 0h8m4 0h8m-2 0h8m7 0h8m-2 0h8m19 0h8m31 0h8m-425 3h8m16 0h8m28 0h8m-2 0h8m1 0h8m7 0h8m1 0h8m1 0h8m-5 0h8m-5 0h8m1 0h8m-5 0h8m-5 0h8m-2 0h8m-5 0h8m-5 0h8m-5 0h8m-5 0h8m-5 0h8m-5 0h8m-5 0h8m-2 0h8m-5 0h8m-5 0h8m-5 0h8m-5 0h8m-2 0h8m-5 0h8m-5 0h8m-5 0h8m22 0h8m-5 0h8m-5 0h8m-5 0h8m-5 0h8m-5 0h8m-5 0h8m-5 0h8m-2 0h8m-2 0h8m-5 0h8m-5 0h8m-2 0h8m1 0h8m-5 0h8m7 0h8m-5 0h8m-2 0h8m-5 0h8m22 0h8m1 0h8m-5 0h8m28 0h8m-398 3h8m100 0h8m-5 0h8m-5 0h8m7 0h8m-2 0h8m-5 0h8m-5 0h8m-5 0h8m-5 0h8m-5 0h8m-5 0h8m-5 0h8m-2 0h8m-5 0h8m4 0h8m-5 0h8m-2 0h8m-5 0h8m-2 0h8m-5 0h8m22 0h8m-5 0h8m-2 0h8m-5 0h8m-5 0h8m-5 0h8m-5 0h8m-5 0h8m-5 0h8m-5 0h8m-5 0h8m-5 0h8m-5 0h8m-5 0h8m-2 0h8m-2 0h8m-5 0h8m-2 0h8m10 0h8m-5 0h8m-2 0h8m-5 0h8m-5 0h8m76 0h8m-392 3h8m-5 0h8m25 0h8m16 0h8m10 0h8m-5 0h8m-5 0h8m1 0h8m-5 0h8m-2 0h8m1 0h8m-5 0h8m-5 0h8m-5 0h8m1 0h8m1 0h8m-5 0h8m-5 0h8m-2 0h8m1 0h8m-5 0h8m-5 0h8m-5 0h8m-5 0h8m-5 0h8m22 0h8m-5 0h8m-5 0h8m-5 0h8m-2 0h8m-5 0h8m-2 0h8m-5 0h8m-2 0h8m-2 0h8m1 0h8m-2 0h8m-5 0h8m-5 0h8m-5 0h8m-2 0h8m1 0h8m1 0h8m10 0h8m-5 0h8m-5 0h8m58 0h8m-5 0h8m-5 0h8m-2 0h8m31 0h8m67 0h8m-473 3h8m1 0h8m-5 0h8m-5 0h8m1 0h8m-5 0h8m-5 0h8m1 0h8m-5 0h8m-5 0h8m-5 0h8m-5 0h8m-5 0h8m-5 0h8m1 0h8m-5 0h8m-5 0h8m-2 0h8m1 0h8m-5 0h8m-2 0h8m-5 0h8m-2 0h8m-2 0h8m-5 0h8m-5 0h8m-5 0h8m-5 0h8m-5 0h8m-5 0h8m-5 0h8m22 0h8m-5 0h8m-2 0h8m-5 0h8m-5 0h8m-2 0h8m1 0h8m-5 0h8m-5 0h8m-5 0h8m-5 0h8m-5 0h8m1 0h8m-5 0h8m10 0h8m13 0h8m13 0h8m133 0h8m-521 3h8m34 0h8m52 0h8m-5 0h8m-2 0h8m16 0h8m4 0h8m7 0h8m-5 0h8m-5 0h8m-5 0h8m-5 0h8m-5 0h8m-5 0h8m-5 0h8m-5 0h8m-5 0h8m-5 0h8m-5 0h8m-5 0h8m-5 0h8m-2 0h8m-5 0h8m-2 0h8m-2 0h8m31 0h8m-5 0h8m-2 0h8m-5 0h8m-5 0h8m-5 0h8m-5 0h8m-5 0h8m-5 0h8m-5 0h8m-2 0h8m1 0h8m-5 0h8m-5 0h8m-2 0h8m-5 0h8m-2 0h8m-5 0h8m-5 0h8m1 0h8m-5 0h8m19 0h8m7 0h8m-302 3h8m-5 0h8m7 0h8m10 0h8m-2 0h8m7 0h8m25 0h8m-5 0h8m-2 0h8m-2 0h8m-2 0h8m-5 0h8m-5 0h8m-5 0h8m-5 0h8m-5 0h8m-5 0h8m-5 0h8m22 0h8m-5 0h8m-2 0h8m-5 0h8m-5 0h8m-5 0h8m-5 0h8m-5 0h8m-5 0h8m-5 0h8m-5 0h8m-5 0h8m-5 0h8m-5 0h8m-2 0h8m-2 0h8m-5 0h8m13 0h8m-5 0h8m10 0h8m1 0h8m91 0h8m-380 3h8m4 0h8m37 0h8m-2 0h8m-2 0h8m-2 0h8m-2 0h8m-5 0h8m-2 0h8m-2 0h8m-5 0h8m-5 0h8m-2 0h8m-2 0h8m-5 0h8m-5 0h8m-5 0h8m-5 0h8m-5 0h8m-5 0h8m-2 0h8m19 0h8m-5 0h8m-2 0h8m-5 0h8m-5 0h8m-5 0h8m-5 0h8m-5 0h8m4 0h8m-2 0h8m-5 0h8m-5 0h8m-5 0h8m-2 0h8m1 0h8m10 0h8m13 0h8m-2 0h8m10 0h8m40 0h8m-338 3h8m-2 0h8m19 0h8m4 0h8m4 0h8m10 0h8m1 0h8m-2 0h8m-2 0h8m-2 0h8m-2 0h8m-5 0h8m-2 0h8m-5 0h8m-2 0h8m19 0h8m-5 0h8m-5 0h8m-2 0h8m-5 0h8m-5 0h8m-5 0h8m1 0h8m-5 0h8m-5 0h8m-5 0h8m-2 0h8m-5 0h8m-2 0h8m-5 0h8m1 0h8m-5 0h8m10 0h8m-5 0h8m-2 0h8m-2 0h8m-5 0h8m-2 0h8m22 0h8m13 0h8m127 0h8m-575 3h8m55 0h8m31 0h8m4 0h8m28 0h8m-5 0h8m4 0h8m4 0h8m-2 0h8m1 0h8m-5 0h8m-2 0h8m-2 0h8m1 0h8m1 0h8m-5 0h8m-5 0h8m-2 0h8m25 0h8m-5 0h8m-5 0h8m-5 0h8m-5 0h8m-5 0h8m-5 0h8m-5 0h8m-5 0h8m-5 0h8m-2 0h8m-5 0h8m-5 0h8m-5 0h8m-5 0h8m-5 0h8m-2 0h8m7 0h8m-2 0h8m1 0h8m22 0h8m40 0h8m-779 3h8m442 0h8m7 0h8m22 0h8m4 0h8m-5 0h8m-5 0h8m1 0h8m-5 0h8m-5 0h8m-5 0h8m-5 0h8m-2 0h8m-5 0h8m-2 0h8m-5 0h8m-5 0h8m-5 0h8m-5 0h8m-5 0h8m-5 0h8m-5 0h8m-2 0h8m-5 0h8m-5 0h8m19 0h8m-5 0h8m-5 0h8m4 0h8m-5 0h8m-2 0h8m-5 0h8m1 0h8m-2 0h8m-5 0h8m-5 0h8m-5 0h8m-5 0h8m-5 0h8m-5 0h8m-5 0h8m-5 0h8m-2 0h8m-2 0h8m-5 0h8m43 0h8m1 0h8m-5 0h8m-299 3h8m-5 0h8m13 0h8m1 0h8m-5 0h8m1 0h8m-5 0h8m-5 0h8m-5 0h8m-5 0h8m4 0h8m1 0h8m-5 0h8m-5 0h8m-5 0h8m-5 0h8m-5 0h8m-5 0h8m-2 0h8m-5 0h8m-5 0h8m-5 0h8m-5 0h8m22 0h8m-5 0h8m-5 0h8m-2 0h8m-5 0h8m-5 0h8m-5 0h8m-5 0h8m-5 0h8m-2 0h8m-2 0h8m-5 0h8m-5 0h8m-5 0h8m-5 0h8m-5 0h8m16 0h8m-2 0h8m-5 0h8m-5 0h8m-2 0h8m16 0h8m1 0h8m-5 0h8m1 0h8m-350 3h8m73 0h8m4 0h8m-2 0h8m-5 0h8m-5 0h8m1 0h8m-5 0h8m4 0h8m-2 0h8m-5 0h8m-2 0h8m-5 0h8m-5 0h8m1 0h8m1 0h8m-5 0h8m-5 0h8m16 0h8m-5 0h8m-5 0h8m-5 0h8m-5 0h8m-5 0h8m-2 0h8m-5 0h8m-5 0h8m4 0h8m4 0h8m-5 0h8m-5 0h8m1 0h8m-2 0h8m4 0h8m-5 0h8m1 0h8m16 0h8m-2 0h8m34 0h8m-341 3h8m-2 0h8m16 0h8m19 0h8m-5 0h8m7 0h8m-5 0h8m4 0h8m1 0h8m-5 0h8m-2 0h8m-5 0h8m-2 0h8m-5 0h8m-5 0h8m-5 0h8m-5 0h8m1 0h8m-5 0h8m16 0h8m-5 0h8m-5 0h8m-5 0h8m-5 0h8m-2 0h8m-5 0h8m1 0h8m-2 0h8m-2 0h8m4 0h8m1 0h8m-5 0h8m4 0h8m-2 0h8m10 0h8m-5 0h8m-2 0h8m-317 3h8m-2 0h8m55 0h8m16 0h8m4 0h8m-5 0h8m-2 0h8m-2 0h8m-5 0h8m-5 0h8m-5 0h8m1 0h8m-5 0h8m-5 0h8m-5 0h8m-5 0h8m-2 0h8m-5 0h8m-5 0h8m-5 0h8m-2 0h8m-5 0h8m16 0h8m-2 0h8m-5 0h8m-2 0h8m4 0h8m-5 0h8m-5 0h8m-5 0h8m-5 0h8m-5 0h8m-5 0h8m1 0h8m-2 0h8m16 0h8m10 0h8m4 0h8m-284 3h8m7 0h8m4 0h8m4 0h8m-2 0h8m1 0h8m10 0h8m-5 0h8m-5 0h8m-5 0h8m-2 0h8m-5 0h8m-5 0h8m-2 0h8m-5 0h8m-5 0h8m-5 0h8m-5 0h8m-5 0h8m-5 0h8m-5 0h8m-5 0h8m-5 0h8m-5 0h8m-5 0h8m-5 0h8m19 0h8m-5 0h8m-5 0h8m1 0h8m-5 0h8m-5 0h8m-5 0h8m-5 0h8m-5 0h8m-5 0h8m-5 0h8m-5 0h8m-5 0h8m-2 0h8m-2 0h8m-2 0h8m-2 0h8m-5 0h8m-2 0h8m-5 0h8m-5 0h8m-5 0h8m4 0h8m-2 0h8m79 0h8m52 0h8m-389 3h8m7 0h8m10 0h8m16 0h8m4 0h8m-2 0h8m-5 0h8m-5 0h8m-5 0h8m-5 0h8m-5 0h8m-5 0h8m-5 0h8m-5 0h8m-5 0h8m-5 0h8m-5 0h8m16 0h8m-5 0h8m-5 0h8m-5 0h8m-5 0h8m-5 0h8m-5 0h8m-5 0h8m-5 0h8m-5 0h8m-5 0h8m-5 0h8m-5 0h8m-5 0h8m-5 0h8m-5 0h8m-2 0h8m-5 0h8m1 0h8m-2 0h8m-5 0h8m-2 0h8m-5 0h8m28 0h8m19 0h8m40 0h8m-5 0h8m-383 3h8m4 0h8m-5 0h8m19 0h8m10 0h8m16 0h8m-5 0h8m-5 0h8m1 0h8m-2 0h8m-5 0h8m-2 0h8m-5 0h8m-5 0h8m-5 0h8m-2 0h8m-5 0h8m-2 0h8m-2 0h8m-5 0h8m-5 0h8m-5 0h8m-5 0h8m16 0h8m1 0h8m-5 0h8m-5 0h8m-5 0h8m-5 0h8m-5 0h8m1 0h8m1 0h8m-5 0h8m-2 0h8m-2 0h8m-5 0h8m1 0h8m76 0h8m13 0h8m-338 3h8m40 0h8m1 0h8m4 0h8m-5 0h8m7 0h8m-5 0h8m-5 0h8m-5 0h8m-5 0h8m-5 0h8m-2 0h8m-5 0h8m-5 0h8m-5 0h8m-5 0h8m-5 0h8m-5 0h8m-5 0h8m-5 0h8m13 0h8m-5 0h8m-5 0h8m-5 0h8m-5 0h8m-5 0h8m1 0h8m-5 0h8m-2 0h8m-5 0h8m1 0h8m-5 0h8m-5 0h8m1 0h8m-2 0h8m7 0h8m13 0h8m22 0h8m-389 3h8m106 0h8m13 0h8m1 0h8m-5 0h8m13 0h8m-5 0h8m-2 0h8m-5 0h8m-5 0h8m-5 0h8m1 0h8m-5 0h8m-5 0h8m-5 0h8m-5 0h8m1 0h8m-5 0h8m-5 0h8m-5 0h8m-5 0h8m-5 0h8m10 0h8m-5 0h8m-5 0h8m-5 0h8m-2 0h8m-5 0h8m1 0h8m-5 0h8m-5 0h8m-5 0h8m-5 0h8m-5 0h8m-5 0h8m-5 0h8m-5 0h8m-5 0h8m-5 0h8m7 0h8m7 0h8m-2 0h8m-326 3h8m115 0h8m-2 0h8m7 0h8m-5 0h8m-5 0h8m-2 0h8m-5 0h8m-5 0h8m-5 0h8m-2 0h8m-5 0h8m-5 0h8m-2 0h8m-5 0h8m-2 0h8m-5 0h8m-5 0h8m-5 0h8m-2 0h8m13 0h8m-5 0h8m-5 0h8m-5 0h8m-5 0h8m-5 0h8m-5 0h8m-5 0h8m-2 0h8m-5 0h8m-5 0h8m-5 0h8m-5 0h8m-5 0h8m-5 0h8m-5 0h8m-5 0h8m-5 0h8m4 0h8m4 0h8m4 0h8m-221 3h8m4 0h8m7 0h8m-5 0h8m1 0h8m-2 0h8m1 0h8m-5 0h8m1 0h8m-5 0h8m-5 0h8m-5 0h8m-5 0h8m-5 0h8m-5 0h8m-5 0h8m-5 0h8m-5 0h8m-5 0h8m19 0h8m-5 0h8m-5 0h8m-5 0h8m-5 0h8m-5 0h8m-5 0h8m-5 0h8m-5 0h8m1 0h8m1 0h8m-2 0h8m13 0h8m7 0h8m4 0h8m-236 3h8m13 0h8m37 0h8m-5 0h8m-5 0h8m-5 0h8m-5 0h8m-5 0h8m-5 0h8m-5 0h8m-5 0h8m-2 0h8m-5 0h8m-5 0h8m-5 0h8m-5 0h8m-5 0h8m10 0h8m-5 0h8m1 0h8m-5 0h8m-5 0h8m-5 0h8m-5 0h8m4 0h8m-2 0h8m-2 0h8m1 0h8m1 0h8m-5 0h8m-2 0h8m-5 0h8m-5 0h8m31 0h8m-266 3h8m-2 0h8m46 0h8m-2 0h8m1 0h8m-5 0h8m-5 0h8m-5 0h8m-2 0h8m-5 0h8m-5 0h8m-5 0h8m-2 0h8m-5 0h8m-2 0h8m-5 0h8m-5 0h8m13 0h8m-5 0h8m-5 0h8m-5 0h8m-5 0h8m-2 0h8m-5 0h8m-5 0h8m-5 0h8m1 0h8m-5 0h8m4 0h8m7 0h8m-5 0h8m-5 0h8m40 0h8m-329 3h8m76 0h8m-2 0h8m-5 0h8m-5 0h8m7 0h8m7 0h8m-5 0h8m-5 0h8m-5 0h8m-2 0h8m-5 0h8m-5 0h8m-2 0h8m-5 0h8m-5 0h8m-5 0h8m-5 0h8m4 0h8m-5 0h8m10 0h8m-5 0h8m-5 0h8m-5 0h8m-5 0h8m-5 0h8m-5 0h8m-5 0h8m-5 0h8m-5 0h8m-5 0h8m-5 0h8m-5 0h8m-2 0h8m1 0h8m-5 0h8m-5 0h8m-5 0h8m-5 0h8m4 0h8m7 0h8m-2 0h8m40 0h8m-296 3h8m25 0h8m10 0h8m1 0h8m4 0h8m-5 0h8m-5 0h8m-5 0h8m-5 0h8m-5 0h8m-5 0h8m-5 0h8m-5 0h8m-5 0h8m-2 0h8m-2 0h8m-5 0h8m-2 0h8m-5 0h8m16 0h8m-5 0h8m-5 0h8m-5 0h8m-5 0h8m1 0h8m-5 0h8m-5 0h8m-5 0h8m-5 0h8m1 0h8m1 0h8m-2 0h8m-5 0h8m-5 0h8m-5 0h8m19 0h8m-278 3h8m55 0h8m10 0h8m13 0h8m-5 0h8m1 0h8m-5 0h8m-5 0h8m-5 0h8m-5 0h8m-5 0h8m4 0h8m-5 0h8m-5 0h8m-5 0h8m-5 0h8m-5 0h8m16 0h8m-5 0h8m-5 0h8m-5 0h8m-2 0h8m-5 0h8m1 0h8m-2 0h8m-2 0h8m-5 0h8m10 0h8m-239 3h8m22 0h8m40 0h8m4 0h8m-5 0h8m-2 0h8m-5 0h8m-5 0h8m-5 0h8m1 0h8m-5 0h8m-5 0h8m-2 0h8m-2 0h8m-2 0h8m-5 0h8m16 0h8m-5 0h8m-5 0h8m-5 0h8m-2 0h8m-5 0h8m-5 0h8m-5 0h8m-5 0h8m-5 0h8m-5 0h8m-5 0h8m-5 0h8m-5 0h8m4 0h8m-2 0h8m-5 0h8m-5 0h8m-5 0h8m-2 0h8m76 0h8m-260 3h8m-2 0h8m4 0h8m7 0h8m-5 0h8m-5 0h8m-5 0h8m1 0h8m-5 0h8m-2 0h8m4 0h8m10 0h8m-5 0h8m-5 0h8m-5 0h8m-2 0h8m-5 0h8m-5 0h8m4 0h8m-2 0h8m-2 0h8m-2 0h8m-2 0h8m-2 0h8m-158 3h8m10 0h8m-2 0h8m-5 0h8m4 0h8m-5 0h8m-5 0h8m-2 0h8m-5 0h8m-2 0h8m-5 0h8m-5 0h8m-5 0h8m10 0h8m-5 0h8m-2 0h8m-5 0h8m-5 0h8m-5 0h8m-5 0h8m-5 0h8m-2 0h8m1 0h8m10 0h8m-2 0h8m-2 0h8m-2 0h8m1 0h8m-2 0h8m-218 3h8m16 0h8m10 0h8m-2 0h8m-2 0h8m-2 0h8m-2 0h8m-5 0h8m-5 0h8m-5 0h8m-5 0h8m-5 0h8m-5 0h8m-5 0h8m-5 0h8m-2 0h8m-5 0h8m13 0h8m-5 0h8m-5 0h8m-5 0h8m-5 0h8m-5 0h8m-5 0h8m-5 0h8m1 0h8m-5 0h8m-2 0h8m-5 0h8m28 0h8m-203 3h8m31 0h8m4 0h8m1 0h8m-5 0h8m-5 0h8m-5 0h8m1 0h8m-5 0h8m-5 0h8m-5 0h8m-2 0h8m-5 0h8m-5 0h8m-5 0h8m10 0h8m-5 0h8m-5 0h8m-5 0h8m-5 0h8m-5 0h8m-5 0h8m-2 0h8m1 0h8m-5 0h8m-5 0h8m-5 0h8m-2 0h8m-2 0h8m-5 0h8m-200 3h8m16 0h8m-5 0h8m7 0h8m1 0h8m10 0h8m1 0h8m-5 0h8m-5 0h8m-5 0h8m-5 0h8m-5 0h8m1 0h8m-5 0h8m1 0h8m-5 0h8m4 0h8m-5 0h8m-5 0h8m-5 0h8m-5 0h8m-5 0h8m-5 0h8m-5 0h8m-2 0h8m-5 0h8m4 0h8m-5 0h8m-2 0h8m1 0h8m-2 0h8m-2 0h8m-254 3h8m34 0h8m40 0h8m1 0h8m1 0h8m-2 0h8m-5 0h8m-5 0h8m1 0h8m-5 0h8m-5 0h8m-5 0h8m1 0h8m-5 0h8m-5 0h8m-2 0h8m-5 0h8m4 0h8m-5 0h8m-5 0h8m-2 0h8m-5 0h8m-2 0h8m4 0h8m-5 0h8m-2 0h8m-5 0h8m-5 0h8m1 0h8m16 0h8m-2 0h8m-206 3h8m10 0h8m-2 0h8m16 0h8m10 0h8m-5 0h8m-2 0h8m-5 0h8m-5 0h8m-5 0h8m-5 0h8m-2 0h8m-5 0h8m-5 0h8m7 0h8m-5 0h8m-2 0h8m-5 0h8m-2 0h8m1 0h8m-2 0h8m7 0h8m1 0h8m1 0h8m-2 0h8m10 0h8m31 0h8m-302 3h8m64 0h8m1 0h8m4 0h8m-2 0h8m-5 0h8m-5 0h8m-5 0h8m-2 0h8m-5 0h8m-5 0h8m-2 0h8m-5 0h8m-5 0h8m1 0h8m-5 0h8m-5 0h8m10 0h8m-5 0h8m-5 0h8m-2 0h8m-5 0h8m-5 0h8m-5 0h8m-5 0h8m-5 0h8m-5 0h8m7 0h8m-5 0h8m1 0h8m-2 0h8m-5 0h8m4 0h8m-197 3h8m19 0h8m4 0h8m-2 0h8m-5 0h8m4 0h8m-2 0h8m-5 0h8m-5 0h8m-5 0h8m1 0h8m-5 0h8m-5 0h8m10 0h8m-5 0h8m-5 0h8m-5 0h8m-5 0h8m1 0h8m1 0h8m-5 0h8m-5 0h8m13 0h8m-2 0h8m-2 0h8m10 0h8m37 0h8m-197 3h8m1 0h8m-5 0h8m-5 0h8m-5 0h8m-5 0h8m-5 0h8m-5 0h8m-5 0h8m-5 0h8m-5 0h8m-2 0h8m-5 0h8m4 0h8m-5 0h8m-5 0h8m-2 0h8m-5 0h8m-5 0h8m-5 0h8m-2 0h8m-2 0h8m-2 0h8m-5 0h8m-5 0h8m7 0h8m7 0h8m-182 3h8m-5 0h8m7 0h8m13 0h8m1 0h8m-5 0h8m4 0h8m-2 0h8m-2 0h8m1 0h8m-5 0h8m4 0h8m-5 0h8m1 0h8m-5 0h8m-5 0h8m-5 0h8m4 0h8m-2 0h8m16 0h8m7 0h8m-191 3h8m13 0h8m4 0h8m7 0h8m1 0h8m1 0h8m-5 0h8m1 0h8m-5 0h8m1 0h8m-5 0h8m10 0h8m-5 0h8m-5 0h8m-5 0h8m-5 0h8m-5 0h8m4 0h8m-5 0h8m-2 0h8m-104 3h8m1 0h8m-2 0h8m-5 0h8m4 0h8m-5 0h8m-5 0h8m-5 0h8m-5 0h8m4 0h8m-5 0h8m-5 0h8m-5 0h8m-2 0h8m-5 0h8m-2 0h8m-2 0h8m-5 0h8m10 0h8m1 0h8m-164 3h8m22 0h8m1 0h8m-5 0h8m-2 0h8m-2 0h8m-5 0h8m1 0h8m-5 0h8m-2 0h8m-5 0h8m-5 0h8m-5 0h8m7 0h8m-5 0h8m-5 0h8m-2 0h8m4 0h8m-5 0h8m37 0h8m28 0h8m-278 3h8m79 0h8m1 0h8m-2 0h8m16 0h8m-5 0h8m-5 0h8m-2 0h8m-5 0h8m-2 0h8m-5 0h8m1 0h8m-5 0h8m-2 0h8m-5 0h8m-5 0h8m-5 0h8m-5 0h8m-5 0h8m28 0h8m-146 3h8m10 0h8m7 0h8m-5 0h8m-2 0h8m-5 0h8m-5 0h8m-5 0h8m-2 0h8m1 0h8m-5 0h8m-2 0h8m-5 0h8m-5 0h8m-5 0h8m-5 0h8m-5 0h8m-5 0h8m-5 0h8m-5 0h8m-5 0h8m-5 0h8m-104 3h8m-5 0h8m19 0h8m-5 0h8m-5 0h8m-2 0h8m-5 0h8m-5 0h8m-5 0h8m-5 0h8m-5 0h8m4 0h8m-5 0h8m1 0h8m-5 0h8m-5 0h8m-5 0h8m1 0h8m16 0h8m7 0h8m-131 3h8m10 0h8m-5 0h8m-5 0h8m-5 0h8m-2 0h8m-5 0h8m-5 0h8m-5 0h8m1 0h8m-5 0h8m-5 0h8m-5 0h8m-5 0h8m-5 0h8m1 0h8m4 0h8m-5 0h8m10 0h8m25 0h8m-140 3h8m-2 0h8m-5 0h8m-2 0h8m-2 0h8m-5 0h8m-5 0h8m-5 0h8m-5 0h8m-5 0h8m-2 0h8m-5 0h8m-2 0h8m-5 0h8m-5 0h8m-2 0h8m4 0h8m-5 0h8m25 0h8m-170 3h8m43 0h8m1 0h8m4 0h8m-5 0h8m-5 0h8m-5 0h8m-5 0h8m-5 0h8m-2 0h8m-5 0h8m7 0h8m-5 0h8m-2 0h8m4 0h8m7 0h8m-104 3h8m10 0h8m-5 0h8m-2 0h8m-5 0h8m-5 0h8m-5 0h8m-2 0h8m-5 0h8m-5 0h8m-5 0h8m-2 0h8m-5 0h8m-5 0h8m1 0h8m-71 3h8m-5 0h8m1 0h8m-5 0h8m-5 0h8m-5 0h8m-5 0h8m-5 0h8m-2 0h8m-5 0h8m-5 0h8m-5 0h8m-2 0h8m-5 0h8m-53 3h8m-5 0h8m-5 0h8m-5 0h8m-5 0h8m-5 0h8m-2 0h8m-2 0h8m-5 0h8m-5 0h8m-2 0h8m10 0h8m31 0h8m-119 3h8m16 0h8m-5 0h8m-5 0h8m-5 0h8m-5 0h8m1 0h8m-5 0h8m-5 0h8m-5 0h8m10 0h8m-56 3h8m-2 0h8m-5 0h8m-5 0h8m-2 0h8m-5 0h8m-5 0h8m-5 0h8m-2 0h8m-5 0h8m-47 3h8m-2 0h8m1 0h8m-5 0h8m-5 0h8m-5 0h8m1 0h8m4 0h8m-50 3h8m-2 0h8m-2 0h8m-5 0h8m-5 0h8m-5 0h8m-5 0h8m-26 3h8m-5 0h8m10 0h8m-20 3h8m-5 0h8" stroke="#000" stroke-width="8" fill="none"/>
<path transform="scale(.1)" d="M1004 3939h8m-5 0h8m1 0h8m-5 0h8m-5 0h8m-5 0h8m-5 0h8m10 0h8m-2 0h8m13 0h8m-5 0h8m1 0h8m-5 0h8m-5 0h8m-5 0h8m-5 0h8m-5 0h8m-5 0h8m-5 0h8m-5 0h8m-5 0h8m-2 0h8m-5 0h8m-5 0h8m-2 0h8m7 0h8m-2 0h8m-2 0h8m-5 0h8m-5 0h8m-5 0h8m-5 0h8m-5 0h8m-5 0h8m-5 0h8m-5 0h8m-5 0h8m-191 3h8m19 0h8m-5 0h8m1 0h8m1 0h8m1 0h8m1 0h8m-5 0h8m-5 0h8m-2 0h8m-5 0h8m-5 0h8m-5 0h8m7 0h8m-5 0h8m-5 0h8m-2 0h8m-2 0h8m-5 0h8m4 0h8m-5 0h8m-5 0h8m-2 0h8m-2 0h8m-2 0h8m-5 0h8m-5 0h8m-5 0h8m4 0h8m-5 0h8m-194 3h8m16 0h8m7 0h8m-5 0h8m-2 0h8m-5 0h8m1 0h8m-5 0h8m-2 0h8m4 0h8m1 0h8m-2 0h8m-2 0h8m-5 0h8m-5 0h8m-5 0h8m-5 0h8m-5 0h8m-5 0h8m-2 0h8m1 0h8m1 0h8m-5 0h8m-2 0h8m-5 0h8m-5 0h8m-2 0h8m-5 0h8m-5 0h8m-2 0h8m-5 0h8m-5 0h8m-5 0h8m-314 3h8m79 0h8m13 0h8m19 0h8m-5 0h8m-2 0h8m-5 0h8m-2 0h8m1 0h8m-5 0h8m-5 0h8m1 0h8m-5 0h8m-5 0h8m-5 0h8m-5 0h8m1 0h8m19 0h8m-5 0h8m-5 0h8m-5 0h8m-2 0h8m-2 0h8m-5 0h8m-5 0h8m-2 0h8m-5 0h8m-5 0h8m-5 0h8m-2 0h8m-2 0h8m1 0h8m-5 0h8m-5 0h8m-2 0h8m-5 0h8m-5 0h8m4 0h8m-5 0h8m-278 3h8m22 0h8m31 0h8m7 0h8m-5 0h8m7 0h8m10 0h8m4 0h8m-5 0h8m-5 0h8m-5 0h8m10 0h8m-5 0h8m-5 0h8m-2 0h8m-2 0h8m-5 0h8m-5 0h8m-5 0h8m-5 0h8m1 0h8m-5 0h8m4 0h8m-5 0h8m1 0h8m-2 0h8m1 0h8m-182 3h8m10 0h8m16 0h8m-5 0h8m25 0h8m-5 0h8m1 0h8m-5 0h8m-2 0h8m-5 0h8m4 0h8m28 0h8m1 0h8m-2 0h8m-5 0h8m-5 0h8m-2 0h8m-5 0h8m-5 0h8m13 0h8m1 0h8m-368 3h8m52 0h8m55 0h8m70 0h8m34 0h8m1 0h8m-5 0h8m-2 0h8m1 0h8m-2 0h8m1 0h8m-5 0h8m4 0h8m16 0h8m1 0h8m1 0h8m-5 0h8m4 0h8m-443 3h8m109 0h8m88 0h8m34 0h8m34 0h8m-2 0h8m7 0h8m1 0h8m10 0h8m10 0h8m-5 0h8m-5 0h8m-5 0h8m-5 0h8m1 0h8m4 0h8m-5 0h8m-5 0h8m-5 0h8m-5 0h8m-5 0h8m-5 0h8m-5 0h8m-2 0h8m1 0h8m-2 0h8m-206 3h8m58 0h8m16 0h8m-5 0h8m1 0h8m7 0h8m-2 0h8m10 0h8m1 0h8m-5 0h8m13 0h8m1 0h8m-233 3h8m34 0h8m-5 0h8m31 0h8m7 0h8m7 0h8m1 0h8m4 0h8m4 0h8m-2 0h8m-2 0h8m-2 0h8m-5 0h8m4 0h8m-5 0h8m-5 0h8m7 0h8m-5 0h8m-5 0h8m-5 0h8m-2 0h8m-5 0h8m1 0h8m-2 0h8m-2 0h8m-392 3h8m151 0h8m16 0h8m37 0h8m-2 0h8m13 0h8m-2 0h8m55 0h8m-5 0h8m25 0h8m-5 0h8m-233 3h8m31 0h8m43 0h8m-5 0h8m22 0h8m25 0h8m4 0h8m7 0h8m7 0h8m28 0h8m-5 0h8m4 0h8m-209 3h8m49 0h8m13 0h8m7 0h8m10 0h8m10 0h8m-2 0h8m1 0h8m1 0h8m10 0h8m-2 0h8m1 0h8m4 0h8m-338 3h8m118 0h8m4 0h8m7 0h8m-5 0h8m22 0h8m4 0h8m10 0h8m1 0h8m16 0h8m1 0h8m-5 0h8m7 0h8m16 0h8m13 0h8m-479 3h8m262 0h8m10 0h8m67 0h8m-2 0h8m25 0h8m16 0h8m1 0h8m16 0h8m-335 3h8m19 0h8m121 0h8m1 0h8m73 0h8m-5 0h8m-2 0h8m1 0h8m40 0h8m-5 0h8m-2 0h8m-5 0h8m-2 0h8m-2 0h8m1 0h8m-5 0h8m-5 0h8m-311 3h8m7 0h8m55 0h8m-2 0h8m-5 0h8m10 0h8m22 0h8m10 0h8m-2 0h8m31 0h8m-2 0h8m13 0h8m-5 0h8m16 0h8m-5 0h8m1 0h8m-2 0h8m16 0h8m-5 0h8m-5 0h8m-302 3h8m16 0h8m19 0h8m28 0h8m7 0h8m61 0h8m31 0h8m4 0h8m-2 0h8m-5 0h8m1 0h8m19 0h8m4 0h8m-2 0h8m-209 3h8m-2 0h8m31 0h8m16 0h8m16 0h8m-5 0h8m1 0h8m40 0h8m4 0h8m-5 0h8m-2 0h8m7 0h8m13 0h8m-251 3h8m100 0h8m34 0h8m19 0h8m-2 0h8m10 0h8m19 0h8m-5 0h8m-5 0h8m-362 3h8m82 0h8m190 0h8m1 0h8m58 0h8m-230 3h8m-2 0h8m46 0h8m13 0h8m-2 0h8m-5 0h8m13 0h8m4 0h8m-5 0h8m13 0h8m-2 0h8m-5 0h8m1 0h8m-2 0h8m46 0h8m-230 3h8m70 0h8m25 0h8m13 0h8m34 0h8m4 0h8m-5 0h8m-5 0h8m1 0h8m-2 0h8m-344 3h8m58 0h8m118 0h8m-5 0h8m34 0h8m13 0h8m13 0h8m13 0h8m10 0h8m1 0h8m-2 0h8m7 0h8m-170 3h8m4 0h8m37 0h8m46 0h8m1 0h8m13 0h8m1 0h8m-2 0h8m-2 0h8m-344 3h8m70 0h8m115 0h8m4 0h8m10 0h8m19 0h8m22 0h8m-5 0h8m-5 0h8m-2 0h8m22 0h8m-326 3h8m97 0h8m25 0h8m-2 0h8m64 0h8m13 0h8m19 0h8m16 0h8m7 0h8m13 0h8m-272 3h8m4 0h8m61 0h8m31 0h8m31 0h8m-5 0h8m13 0h8m7 0h8m-5 0h8m-2 0h8m-2 0h8m4 0h8m16 0h8m-2 0h8m-5 0h8m-2 0h8m-5 0h8m-2 0h8m-218 3h8m46 0h8m10 0h8m46 0h8m10 0h8m28 0h8m7 0h8m-209 3h8m25 0h8m79 0h8m-2 0h8m-5 0h8m19 0h8m16 0h8m-5 0h8m1 0h8m13 0h8m-533 3h8m298 0h8m37 0h8m22 0h8m-5 0h8m1 0h8m4 0h8m67 0h8m-2 0h8m-2 0h8m13 0h8m-227 3h8m46 0h8m34 0h8m13 0h8m31 0h8m19 0h8m13 0h8m-2 0h8m4 0h8m4 0h8m-347 3h8m115 0h8m13 0h8m10 0h8m7 0h8m22 0h8m22 0h8m-5 0h8m16 0h8m13 0h8m-2 0h8m-2 0h8m-2 0h8m-5 0h8m-2 0h8m-2 0h8m-248 3h8m19 0h8m-2 0h8m43 0h8m76 0h8m7 0h8m-2 0h8m1 0h8m10 0h8m10 0h8m4 0h8m-5 0h8m1 0h8m-404 3h8m175 0h8m-5 0h8m103 0h8m10 0h8m1 0h8m4 0h8m40 0h8m7 0h8m-281 3h8m28 0h8m19 0h8m31 0h8m-2 0h8m19 0h8m28 0h8m13 0h8m-5 0h8m19 0h8m4 0h8m10 0h8m1 0h8m1 0h8m-320 3h8m85 0h8m-2 0h8m-2 0h8m79 0h8m37 0h8m13 0h8m4 0h8m-2 0h8m-5 0h8m4 0h8m10 0h8m-5 0h8m-5 0h8m-95 3h8m4 0h8m43 0h8m-2 0h8m4 0h8m-434 3h8m205 0h8m-5 0h8m-2 0h8m-5 0h8m16 0h8m19 0h8m25 0h8m1 0h8m-5 0h8m46 0h8m22 0h8m-2 0h8m16 0h8m-326 3h8m103 0h8m55 0h8m34 0h8m1 0h8m1 0h8m10 0h8m-5 0h8m-2 0h8m10 0h8m-5 0h8m10 0h8m-98 3h8m-5 0h8m-5 0h8m1 0h8m4 0h8m13 0h8m22 0h8m4 0h8m7 0h8m-215 3h8m28 0h8m-5 0h8m-5 0h8m28 0h8m7 0h8m-5 0h8m49 0h8m-2 0h8m4 0h8m10 0h8m-2 0h8m1 0h8m-218 3h8m-2 0h8m70 0h8m-5 0h8m1 0h8m13 0h8m-5 0h8m-5 0h8m-2 0h8m-2 0h8m-5 0h8m10 0h8m40 0h8m1 0h8m-212 3h8m73 0h8m4 0h8m1 0h8m1 0h8m19 0h8m4 0h8m4 0h8m1 0h8m16 0h8m1 0h8m-368 3h8m70 0h8m58 0h8m-5 0h8m28 0h8m25 0h8m-5 0h8m34 0h8m10 0h8m61 0h8m1 0h8m-2 0h8m-269 3h8m40 0h8m16 0h8m106 0h8m-5 0h8m7 0h8m7 0h8m1 0h8m16 0h8m-5 0h8m-239 3h8m7 0h8m34 0h8m-5 0h8m70 0h8m16 0h8m-5 0h8m4 0h8m1 0h8m13 0h8m10 0h8m4 0h8m-416 3h8m193 0h8m-2 0h8m-5 0h8m19 0h8m-2 0h8m43 0h8m-5 0h8m10 0h8m1 0h8m-2 0h8m34 0h8m-5 0h8m-2 0h8m7 0h8m7 0h8m-194 3h8m-2 0h8m7 0h8m16 0h8m1 0h8m1 0h8m-2 0h8m1 0h8m1 0h8m4 0h8m-5 0h8m25 0h8m7 0h8m1 0h8m7 0h8m-5 0h8m-224 3h8m4 0h8m100 0h8m-2 0h8m7 0h8m31 0h8m-2 0h8m-5 0h8m-2 0h8m7 0h8m-2 0h8m-314 3h8m106 0h8m61 0h8m64 0h8m-5 0h8m-2 0h8m-2 0h8m-5 0h8m4 0h8m1 0h8m13 0h8m-242 3h8m22 0h8m40 0h8m1 0h8m-5 0h8m34 0h8m43 0h8m13 0h8m-194 3h8m4 0h8m25 0h8m4 0h8m7 0h8m52 0h8m1 0h8m-2 0h8m-5 0h8m16 0h8m10 0h8m13 0h8m-5 0h8m-317 3h8m115 0h8m22 0h8m55 0h8m-2 0h8m4 0h8m19 0h8m-2 0h8m16 0h8m7 0h8m-5 0h8m-458 3h8m220 0h8m-2 0h8m-5 0h8m25 0h8m28 0h8m16 0h8m28 0h8m19 0h8m1 0h8m1 0h8m4 0h8m1 0h8m10 0h8m-245 3h8m49 0h8m19 0h8m-2 0h8m4 0h8m4 0h8m25 0h8m22 0h8m-2 0h8m-2 0h8m-5 0h8m-2 0h8m-5 0h8m4 0h8m1 0h8m-272 3h8m37 0h8m10 0h8m4 0h8m31 0h8m-5 0h8m19 0h8m22 0h8m4 0h8m10 0h8m25 0h8m4 0h8m22 0h8m-224 3h8m10 0h8m10 0h8m-2 0h8m10 0h8m-2 0h8m7 0h8m25 0h8m25 0h8m25 0h8m7 0h8m-2 0h8m4 0h8m-218 3h8m4 0h8m-5 0h8m-5 0h8m46 0h8m13 0h8m22 0h8m64 0h8m-293 3h8m112 0h8m13 0h8m-5 0h8m37 0h8m10 0h8m7 0h8m-2 0h8m-5 0h8m-5 0h8m1 0h8m40 0h8m-5 0h8m-215 3h8m4 0h8m1 0h8m22 0h8m-5 0h8m61 0h8m1 0h8m-5 0h8m-2 0h8m-5 0h8m31 0h8m-5 0h8m-2 0h8m13 0h8m-242 3h8m55 0h8m-2 0h8m-2 0h8m-2 0h8m1 0h8m1 0h8m7 0h8m16 0h8m1 0h8m25 0h8m1 0h8m4 0h8m-2 0h8m19 0h8m-239 3h8m13 0h8m46 0h8m31 0h8m10 0h8m10 0h8m-5 0h8m10 0h8m10 0h8m1 0h8m16 0h8m1 0h8m-5 0h8m-2 0h8m-338 3h8m73 0h8m31 0h8m16 0h8m49 0h8m40 0h8m25 0h8m-5 0h8m34 0h8m-434 3h8m202 0h8m1 0h8m7 0h8m1 0h8m7 0h8m79 0h8m22 0h8m1 0h8m10 0h8m4 0h8m-212 3h8m25 0h8m4 0h8m4 0h8m37 0h8m-2 0h8m13 0h8m-5 0h8m4 0h8m-5 0h8m-5 0h8m-2 0h8m1 0h8m-5 0h8m1 0h8m-5 0h8m-5 0h8m16 0h8m-257 3h8m1 0h8m16 0h8m25 0h8m43 0h8m-2 0h8m28 0h8m4 0h8m4 0h8m-2 0h8m4 0h8m-2 0h8m10 0h8m-5 0h8m-5 0h8m1 0h8m-5 0h8m10 0h8m-344 3h8m121 0h8m28 0h8m-2 0h8m-2 0h8m1 0h8m-2 0h8m82 0h8m-5 0h8m-5 0h8m-2 0h8m-2 0h8m1 0h8m-2 0h8m1 0h8m-5 0h8m-2 0h8m-233 3h8m4 0h8m52 0h8m19 0h8m10 0h8m1 0h8m25 0h8m7 0h8m13 0h8m7 0h8m4 0h8m-464 3h8m124 0h8m10 0h8m178 0h8m10 0h8m-2 0h8m10 0h8m-2 0h8m-2 0h8m13 0h8m13 0h8m7 0h8m10 0h8m-200 3h8m19 0h8m-2 0h8m-5 0h8m31 0h8m-2 0h8m7 0h8m-5 0h8m1 0h8m-5 0h8m4 0h8m-5 0h8m16 0h8m19 0h8m4 0h8m-215 3h8m34 0h8m28 0h8m13 0h8m7 0h8m1 0h8m4 0h8m1 0h8m10 0h8m-2 0h8m-5 0h8m7 0h8m4 0h8m-2 0h8m-404 3h8m64 0h8m34 0h8m43 0h8m121 0h8m-5 0h8m4 0h8m4 0h8m1 0h8m-2 0h8m1 0h8m16 0h8m-5 0h8m10 0h8m4 0h8m-326 3h8m79 0h8m91 0h8m25 0h8m4 0h8m22 0h8m-5 0h8m4 0h8m-2 0h8m19 0h8m-5 0h8m-176 3h8m19 0h8m4 0h8m40 0h8m7 0h8m13 0h8m-2 0h8m-5 0h8m1 0h8m-5 0h8m7 0h8m-5 0h8m4 0h8m-269 3h8m34 0h8m-5 0h8m34 0h8m1 0h8m10 0h8m1 0h8m55 0h8m19 0h8m-2 0h8m-5 0h8m-5 0h8m-5 0h8m4 0h8m-164 3h8m-5 0h8m4 0h8m7 0h8m25 0h8m16 0h8m1 0h8m-5 0h8m7 0h8m7 0h8m4 0h8m4 0h8m-203 3h8m34 0h8m1 0h8m103 0h8m19 0h8m-5 0h8m-2 0h8m-5 0h8m1 0h8m-5 0h8m-314 3h8m79 0h8m55 0h8m55 0h8m4 0h8m28 0h8m10 0h8m-5 0h8m13 0h8m-284 3h8m85 0h8m16 0h8m1 0h8m-2 0h8m1 0h8m25 0h8m19 0h8m-2 0h8m16 0h8m22 0h8m10 0h8m-221 3h8m4 0h8m1 0h8m10 0h8m37 0h8m13 0h8m1 0h8m61 0h8m1 0h8m4 0h8m-5 0h8m-203 3h8m49 0h8m1 0h8m34 0h8m-2 0h8m4 0h8m1 0h8m1 0h8m1 0h8m-5 0h8m-5 0h8m-5 0h8m22 0h8m-248 3h8m76 0h8m19 0h8m7 0h8m1 0h8m40 0h8m22 0h8m10 0h8m10 0h8m-386 3h8m166 0h8m22 0h8m-2 0h8m-2 0h8m61 0h8m22 0h8m19 0h8m10 0h8m-2 0h8m4 0h8m-2 0h8m-5 0h8m-206 3h8m-5 0h8m19 0h8m4 0h8m19 0h8m-2 0h8m34 0h8m4 0h8m10 0h8m4 0h8m16 0h8m4 0h8m-344 3h8m154 0h8m22 0h8m-5 0h8m19 0h8m34 0h8m7 0h8m-5 0h8m4 0h8m-2 0h8m-5 0h8m7 0h8m-5 0h8m1 0h8m-5 0h8m-239 3h8m52 0h8m1 0h8m4 0h8m-2 0h8m7 0h8m10 0h8m34 0h8m16 0h8m-161 3h8m4 0h8m-2 0h8m31 0h8m1 0h8m22 0h8m13 0h8m16 0h8m-5 0h8m16 0h8m4 0h8m-5 0h8m13 0h8m-245 3h8m19 0h8m34 0h8m-2 0h8m-2 0h8m64 0h8m22 0h8m16 0h8m-5 0h8m-2 0h8m-2 0h8m-2 0h8m-209 3h8m31 0h8m37 0h8m37 0h8m1 0h8m-2 0h8m-5 0h8m28 0h8m-2 0h8m-5 0h8m-5 0h8m1 0h8m-263 3h8m109 0h8m-2 0h8m16 0h8m13 0h8m4 0h8m22 0h8m1 0h8m-5 0h8m22 0h8m-233 3h8m16 0h8m22 0h8m7 0h8m43 0h8m28 0h8m10 0h8m-2 0h8m-5 0h8m-98 3h8m16 0h8m1 0h8m-5 0h8m-5 0h8m7 0h8m-5 0h8m22 0h8m13 0h8m4 0h8m-2 0h8m7 0h8m-380 3h8m151 0h8m7 0h8m1 0h8m46 0h8m67 0h8m4 0h8m-5 0h8m16 0h8m10 0h8m-5 0h8m-200 3h8m22 0h8m-2 0h8m40 0h8m19 0h8m7 0h8m-5 0h8m13 0h8m10 0h8m-377 3h8m25 0h8m169 0h8m-2 0h8m19 0h8m-5 0h8m7 0h8m1 0h8m34 0h8m4 0h8m-152 3h8m25 0h8m49 0h8m16 0h8m-5 0h8m31 0h8m1 0h8m-2 0h8m-2 0h8m-2 0h8m7 0h8m-2 0h8m-272 3h8m64 0h8m43 0h8m37 0h8m16 0h8m-2 0h8m10 0h8m-5 0h8m-5 0h8m-5 0h8m10 0h8m-2 0h8m-5 0h8m-251 3h8m10 0h8m19 0h8m88 0h8m4 0h8m10 0h8m1 0h8m-2 0h8m1 0h8m-2 0h8m7 0h8m1 0h8m22 0h8m-2 0h8m-299 3h8m61 0h8m-5 0h8m22 0h8m-5 0h8m1 0h8m37 0h8m-2 0h8m4 0h8m1 0h8m16 0h8m1 0h8m-2 0h8m10 0h8m-2 0h8m-5 0h8m19 0h8m-5 0h8m-545 3h8m334 0h8m22 0h8m10 0h8m67 0h8m1 0h8m4 0h8m1 0h8m-5 0h8m-2 0h8m19 0h8m10 0h8m-272 3h8m85 0h8m31 0h8m19 0h8m-2 0h8m10 0h8m1 0h8m10 0h8m7 0h8m-5 0h8m-275 3h8m40 0h8m61 0h8m25 0h8m-5 0h8m7 0h8m52 0h8m-2 0h8m1 0h8m-2 0h8m13 0h8m4 0h8m7 0h8m-272 3h8m1 0h8m61 0h8m25 0h8m28 0h8m28 0h8m10 0h8m7 0h8m-5 0h8m13 0h8m7 0h8m-2 0h8m-305 3h8m58 0h8m79 0h8m7 0h8m34 0h8m1 0h8m34 0h8m-215 3h8m61 0h8m22 0h8m19 0h8m22 0h8m16 0h8m-2 0h8m16 0h8m-2 0h8m13 0h8m-281 3h8m19 0h8m1 0h8m46 0h8m13 0h8m7 0h8m1 0h8m1 0h8m1 0h8m10 0h8m-5 0h8m16 0h8m1 0h8m22 0h8m1 0h8m4 0h8m1 0h8m7 0h8m-428 3h8m103 0h8m121 0h8m4 0h8m13 0h8m1 0h8m10 0h8m43 0h8m25 0h8m7 0h8m-347 3h8m70 0h8m61 0h8m58 0h8m25 0h8m-5 0h8m34 0h8m-2 0h8m4 0h8m-2 0h8m1 0h8m-2 0h8m4 0h8m4 0h8m-155 3h8m52 0h8m22 0h8m10 0h8m28 0h8m-158 3h8m16 0h8m25 0h8m-2 0h8m49 0h8m-5 0h8m22 0h8m-320 3h8m55 0h8m10 0h8m4 0h8m55 0h8m1 0h8m-5 0h8m67 0h8m19 0h8m7 0h8m1 0h8m-2 0h8m-2 0h8m7 0h8m-5 0h8m-248 3h8m79 0h8m10 0h8m1 0h8m4 0h8m40 0h8m-2 0h8m25 0h8m-2 0h8m-251 3h8m10 0h8m1 0h8m1 0h8m16 0h8m4 0h8m10 0h8m22 0h8m-5 0h8m46 0h8m25 0h8m-2 0h8m16 0h8m1 0h8m-2 0h8m-188 3h8m82 0h8m-2 0h8m1 0h8m4 0h8m-5 0h8m1 0h8m7 0h8m10 0h8m1 0h8m1 0h8m-5 0h8m-410 3h8m184 0h8m10 0h8m25 0h8m-2 0h8m4 0h8m1 0h8m-5 0h8m34 0h8m4 0h8m10 0h8m16 0h8m7 0h8m-2 0h8m7 0h8m-5 0h8m-296 3h8m58 0h8m-2 0h8m25 0h8m13 0h8m7 0h8m-2 0h8m10 0h8m67 0h8m-2 0h8m-5 0h8m-5 0h8m-2 0h8m1 0h8m-5 0h8m4 0h8m-305 3h8m76 0h8m91 0h8m34 0h8m-2 0h8m37 0h8m-314 3h8m127 0h8m7 0h8m10 0h8m-5 0h8m13 0h8m4 0h8m-5 0h8m-5 0h8m19 0h8m16 0h8m-5 0h8m28 0h8m4 0h8m10 0h8m-314 3h8m136 0h8m58 0h8m31 0h8m31 0h8m1 0h8m-563 3h8m352 0h8m49 0h8m13 0h8m31 0h8m16 0h8m-5 0h8m16 0h8m-5 0h8m22 0h8m-2 0h8m-101 3h8m-2 0h8m28 0h8m16 0h8m-5 0h8m1 0h8m-212 3h8m10 0h8m85 0h8m-2 0h8m-5 0h8m7 0h8m16 0h8m4 0h8m-2 0h8m31 0h8m-272 3h8m67 0h8m61 0h8m-2 0h8m1 0h8m-2 0h8m22 0h8m7 0h8m16 0h8m13 0h8m-5 0h8m-299 3h8m16 0h8m16 0h8m91 0h8m-2 0h8m-2 0h8m55 0h8m1 0h8m-2 0h8m34 0h8m7 0h8m-5 0h8m-191 3h8m13 0h8m34 0h8m4 0h8m-5 0h8m37 0h8m7 0h8m1 0h8m-2 0h8m1 0h8m-2 0h8m-5 0h8m-200 3h8m43 0h8m7 0h8m49 0h8m1 0h8m-5 0h8m-5 0h8m-2 0h8m-2 0h8m-5 0h8m22 0h8m10 0h8m-5 0h8m-353 3h8m115 0h8m22 0h8m-5 0h8m-5 0h8m67 0h8m19 0h8m1 0h8m4 0h8m25 0h8m-2 0h8m10 0h8m1 0h8m-227 3h8m13 0h8m76 0h8m-5 0h8m-2 0h8m-2 0h8m25 0h8m40 0h8m-2 0h8m-5 0h8m-275 3h8m1 0h8m67 0h8m40 0h8m34 0h8m19 0h8m4 0h8m10 0h8m-5 0h8m13 0h8m-2 0h8m-5 0h8m-248 3h8m19 0h8m103 0h8m10 0h8m1 0h8m31 0h8m-5 0h8m-2 0h8m4 0h8m-2 0h8m-284 3h8m148 0h8m-5 0h8m1 0h8m4 0h8m-2 0h8m22 0h8m19 0h8m10 0h8m13 0h8m7 0h8m-215 3h8m16 0h8m-2 0h8m79 0h8m19 0h8m16 0h8m1 0h8m-2 0h8m4 0h8m-290 3h8m25 0h8m13 0h8m67 0h8m49 0h8m7 0h8m-2 0h8m10 0h8m-5 0h8m22 0h8m-5 0h8m19 0h8m-284 3h8m52 0h8m16 0h8m16 0h8m25 0h8m4 0h8m4 0h8m-5 0h8m4 0h8m10 0h8m-5 0h8m7 0h8m-5 0h8m13 0h8m-5 0h8m13 0h8m7 0h8m-188 3h8m7 0h8m-2 0h8m40 0h8m31 0h8m-2 0h8m1 0h8m1 0h8m-5 0h8m-5 0h8m-2 0h8m10 0h8m-5 0h8m-2 0h8m-5 0h8m-266 3h8m34 0h8m22 0h8m-2 0h8m34 0h8m25 0h8m28 0h8m-5 0h8m4 0h8m-5 0h8m4 0h8m1 0h8m1 0h8m4 0h8m-5 0h8m-5 0h8m-5 0h8m-473 3h8m145 0h8m22 0h8m91 0h8m34 0h8m16 0h8m34 0h8m22 0h8m16 0h8m-5 0h8m-5 0h8m-5 0h8m-2 0h8m1 0h8m-2 0h8m-446 3h8m229 0h8m73 0h8m76 0h8m16 0h8m-2 0h8m-2 0h8m-227 3h8m91 0h8m10 0h8m13 0h8m1 0h8m-5 0h8m10 0h8m1 0h8m10 0h8m13 0h8m-5 0h8m-314 3h8m79 0h8m64 0h8m25 0h8m40 0h8m-2 0h8m10 0h8m1 0h8m10 0h8m4 0h8m-344 3h8m76 0h8m58 0h8m25 0h8m4 0h8m70 0h8m-2 0h8m4 0h8m-5 0h8m10 0h8m16 0h8m-191 3h8m4 0h8m1 0h8m16 0h8m-2 0h8m10 0h8m-5 0h8m-2 0h8m-2 0h8m7 0h8m52 0h8m4 0h8m-2 0h8m-2 0h8m-302 3h8m22 0h8m28 0h8m-2 0h8m34 0h8m-5 0h8m19 0h8m7 0h8m91 0h8m-2 0h8m4 0h8m1 0h8m-2 0h8m-260 3h8m1 0h8m34 0h8m31 0h8m7 0h8m-2 0h8m16 0h8m4 0h8m19 0h8m10 0h8m-2 0h8m-2 0h8m22 0h8m7 0h8m-239 3h8m34 0h8m10 0h8m28 0h8m-5 0h8m-2 0h8m4 0h8m34 0h8m34 0h8m1 0h8m-5 0h8m-2 0h8m1 0h8m-5 0h8m-317 3h8m22 0h8m61 0h8m19 0h8m136 0h8m31 0h8m-260 3h8m76 0h8m37 0h8m19 0h8m37 0h8m13 0h8m10 0h8m7 0h8m-215 3h8m16 0h8m10 0h8m49 0h8m28 0h8m31 0h8m-5 0h8m-2 0h8m7 0h8m-2 0h8m1 0h8m-386 3h8m151 0h8m28 0h8m7 0h8m22 0h8m13 0h8m22 0h8m-2 0h8m-2 0h8m19 0h8m1 0h8m7 0h8m-182 3h8m1 0h8m25 0h8m64 0h8m-2 0h8m-5 0h8m13 0h8m-5 0h8m19 0h8m1 0h8m-5 0h8m-2 0h8m-224 3h8m28 0h8m22 0h8m-2 0h8m76 0h8m10 0h8m37 0h8m-242 3h8m4 0h8m-2 0h8m-2 0h8m13 0h8m1 0h8m-5 0h8m4 0h8m16 0h8m4 0h8m34 0h8m-5 0h8m28 0h8m1 0h8m-5 0h8m-2 0h8m10 0h8m-2 0h8m-5 0h8m-206 3h8m4 0h8m28 0h8m16 0h8m4 0h8m1 0h8m4 0h8m16 0h8m7 0h8m1 0h8m7 0h8m19 0h8m-221 3h8m25 0h8m58 0h8m25 0h8m1 0h8m-2 0h8m-2 0h8m-2 0h8m7 0h8m1 0h8m-2 0h8m-5 0h8m-5 0h8m-5 0h8m-2 0h8m4 0h8m-239 3h8m40 0h8m1 0h8m10 0h8m25 0h8m28 0h8m25 0h8m19 0h8m-2 0h8m7 0h8m-5 0h8m-5 0h8m-344 3h8m124 0h8m28 0h8m-5 0h8m94 0h8m-2 0h8m7 0h8m4 0h8m10 0h8m-290 3h8m28 0h8m58 0h8m7 0h8m10 0h8m7 0h8m28 0h8m16 0h8m4 0h8m-2 0h8m10 0h8m-5 0h8m7 0h8m-5 0h8m1 0h8m-230 3h8m94 0h8m1 0h8m-2 0h8m28 0h8m10 0h8m1 0h8m10 0h8m-2 0h8m-5 0h8m-5 0h8m4 0h8m-239 3h8m58 0h8m37 0h8m1 0h8m16 0h8m-2 0h8m10 0h8m-2 0h8m19 0h8m-5 0h8m7 0h8m-2 0h8m-170 3h8m22 0h8m31 0h8m37 0h8m13 0h8m46 0h8m-275 3h8m82 0h8m19 0h8m40 0h8m-2 0h8m-2 0h8m10 0h8m1 0h8m10 0h8m-2 0h8m4 0h8m-533 3h8m304 0h8m22 0h8m130 0h8m52 0h8m-203 3h8m7 0h8m-2 0h8m25 0h8m-2 0h8m34 0h8m-5 0h8m7 0h8m1 0h8m1 0h8m-2 0h8m1 0h8m19 0h8m10 0h8m-296 3h8m43 0h8m61 0h8m22 0h8m37 0h8m31 0h8m4 0h8m-2 0h8m4 0h8m4 0h8m4 0h8m1 0h8m-389 3h8m127 0h8m31 0h8m19 0h8m13 0h8m19 0h8m13 0h8m10 0h8m10 0h8m-2 0h8m-2 0h8m10 0h8m-2 0h8m7 0h8m10 0h8m-5 0h8m-5 0h8m-5 0h8m-215 3h8m-5 0h8m28 0h8m1 0h8m43 0h8m43 0h8m1 0h8m1 0h8m10 0h8m1 0h8m-5 0h8m-611 3h8m412 0h8m1 0h8m37 0h8m10 0h8m7 0h8m-2 0h8m7 0h8m16 0h8m7 0h8m22 0h8m-242 3h8m19 0h8m4 0h8m7 0h8m46 0h8m-5 0h8m22 0h8m49 0h8m-5 0h8m-5 0h8m-2 0h8m1 0h8m13 0h8m-179 3h8m49 0h8m28 0h8m22 0h8m1 0h8m1 0h8m-2 0h8m-167 3h8m10 0h8m-5 0h8m-2 0h8m127 0h8m1 0h8m1 0h8m4 0h8m-335 3h8m-5 0h8m124 0h8m13 0h8m58 0h8m-2 0h8m1 0h8m4 0h8m10 0h8m1 0h8m-5 0h8m-2 0h8m-5 0h8m-5 0h8m-5 0h8m7 0h8m7 0h8m-245 3h8m13 0h8m22 0h8m25 0h8m7 0h8m34 0h8m4 0h8m10 0h8m22 0h8m1 0h8m1 0h8m7 0h8m-2 0h8m-260 3h8m19 0h8m-2 0h8m34 0h8m-2 0h8m1 0h8m-2 0h8m4 0h8m31 0h8m1 0h8m7 0h8m-5 0h8m1 0h8m-5 0h8m-5 0h8m4 0h8m4 0h8m4 0h8m-2 0h8m-2 0h8m7 0h8m-386 3h8m172 0h8m4 0h8m-5 0h8m19 0h8m49 0h8m25 0h8m16 0h8m10 0h8m1 0h8m-5 0h8m-344 3h8m115 0h8m49 0h8m-2 0h8m7 0h8m58 0h8m1 0h8m-2 0h8m7 0h8m7 0h8m-2 0h8m10 0h8m-200 3h8m22 0h8m100 0h8m13 0h8m1 0h8m10 0h8m-5 0h8m4 0h8m-233 3h8m25 0h8m22 0h8m22 0h8m-5 0h8m31 0h8m-5 0h8m-5 0h8m19 0h8m-578 3h8m301 0h8m100 0h8m25 0h8m-5 0h8m52 0h8m10 0h8m-2 0h8m7 0h8m31 0h8m1 0h8m-2 0h8m1 0h8m1 0h8m-5 0h8m-326 3h8m25 0h8m91 0h8m121 0h8m-2 0h8m16 0h8m-5 0h8m1 0h8m-5 0h8m-5 0h8m-308 3h8m97 0h8m22 0h8m10 0h8m67 0h8m7 0h8m-5 0h8m13 0h8m-5 0h8m-5 0h8m-5 0h8m-5 0h8m-5 0h8m4 0h8m1 0h8m-329 3h8m10 0h8m91 0h8m46 0h8m7 0h8m28 0h8m1 0h8m13 0h8m16 0h8m4 0h8m-2 0h8m-5 0h8m4 0h8m10 0h8m-320 3h8m103 0h8m10 0h8m22 0h8m10 0h8m4 0h8m19 0h8m16 0h8m55 0h8m-347 3h8m127 0h8m40 0h8m7 0h8m-5 0h8m55 0h8m-5 0h8m-5 0h8m-2 0h8m37 0h8m-5 0h8m10 0h8m1 0h8m-299 3h8m157 0h8m-5 0h8m-5 0h8m1 0h8m1 0h8m7 0h8m4 0h8m1 0h8m-2 0h8m-5 0h8m1 0h8m-2 0h8m-2 0h8m-5 0h8m-5 0h8m13 0h8m-299 3h8m43 0h8m46 0h8m34 0h8m-2 0h8m-5 0h8m34 0h8m16 0h8m-2 0h8m-5 0h8m34 0h8m1 0h8m-5 0h8m1 0h8m-5 0h8m-5 0h8m-242 3h8m19 0h8m55 0h8m19 0h8m-2 0h8m-5 0h8m4 0h8m-5 0h8m10 0h8m1 0h8m7 0h8m10 0h8m-2 0h8m-131 3h8m25 0h8m16 0h8m25 0h8m28 0h8m-2 0h8m-2 0h8m-2 0h8m-224 3h8m-5 0h8m19 0h8m-2 0h8m43 0h8m40 0h8m-2 0h8m-2 0h8m-5 0h8m4 0h8m-2 0h8m34 0h8m4 0h8m-299 3h8m166 0h8m-2 0h8m31 0h8m-5 0h8m1 0h8m22 0h8m-2 0h8m-5 0h8m13 0h8m-128 3h8m19 0h8m10 0h8m1 0h8m-173 3h8m16 0h8m4 0h8m-2 0h8m19 0h8m52 0h8m10 0h8m1 0h8m-2 0h8m-5 0h8m1 0h8m10 0h8m16 0h8m1 0h8m-317 3h8m88 0h8m28 0h8m1 0h8m19 0h8m43 0h8m4 0h8m-5 0h8m-5 0h8m22 0h8m-5 0h8m-5 0h8m-5 0h8m-5 0h8m-2 0h8m-5 0h8m-2 0h8m4 0h8m-2 0h8m-200 3h8m-2 0h8m-5 0h8m1 0h8m52 0h8m-5 0h8m40 0h8m16 0h8m7 0h8m-2 0h8m-2 0h8m-509 3h8m220 0h8m100 0h8m37 0h8m46 0h8m4 0h8m19 0h8m-5 0h8m19 0h8m-5 0h8m-467 3h8m241 0h8m43 0h8m16 0h8m-2 0h8m1 0h8m13 0h8m13 0h8m10 0h8m-2 0h8m10 0h8m-2 0h8m13 0h8m-2 0h8m4 0h8m-167 3h8m37 0h8m46 0h8m-5 0h8m-2 0h8m22 0h8m-209 3h8m16 0h8m1 0h8m4 0h8m22 0h8m1 0h8m31 0h8m16 0h8m13 0h8m10 0h8m-2 0h8m4 0h8m-5 0h8m4 0h8m-521 3h8m322 0h8m79 0h8m1 0h8m1 0h8m-2 0h8m22 0h8m7 0h8m19 0h8m-281 3h8m43 0h8m-5 0h8m28 0h8m16 0h8m1 0h8m34 0h8m16 0h8m1 0h8m1 0h8m-2 0h8m4 0h8m10 0h8m10 0h8m7 0h8m-251 3h8m-2 0h8m28 0h8m-2 0h8m-5 0h8m4 0h8m13 0h8m25 0h8m13 0h8m40 0h8m49 0h8m-302 3h8m61 0h8m31 0h8m16 0h8m7 0h8m10 0h8m7 0h8m16 0h8m25 0h8m1 0h8m4 0h8m4 0h8m7 0h8m-5 0h8m-5 0h8m-275 3h8m61 0h8m55 0h8m4 0h8m10 0h8m55 0h8m-5 0h8m13 0h8m-5 0h8m4 0h8m-5 0h8m-269 3h8m13 0h8m64 0h8m10 0h8m-5 0h8m16 0h8m4 0h8m55 0h8m-2 0h8m-2 0h8m19 0h8m-155 3h8m31 0h8m7 0h8m28 0h8m16 0h8m-263 3h8m-2 0h8m43 0h8m19 0h8m7 0h8m52 0h8m28 0h8m19 0h8m40 0h8m16 0h8m-290 3h8m94 0h8m55 0h8m13 0h8m-5 0h8m7 0h8m-2 0h8m1 0h8m16 0h8m-2 0h8m1 0h8m1 0h8m1 0h8m-239 3h8m16 0h8m61 0h8m70 0h8m10 0h8m-2 0h8m31 0h8m-350 3h8m172 0h8m31 0h8m1 0h8m19 0h8m16 0h8m37 0h8m10 0h8m-2 0h8m-314 3h8m85 0h8m46 0h8m25 0h8m46 0h8m-2 0h8m4 0h8m-2 0h8m16 0h8m-5 0h8m-5 0h8m10 0h8m-449 3h8m148 0h8m94 0h8m1 0h8m4 0h8m-2 0h8m13 0h8m25 0h8m4 0h8m61 0h8m4 0h8m1 0h8m-5 0h8m-374 3h8m67 0h8m64 0h8m-5 0h8m40 0h8m28 0h8m34 0h8m25 0h8m4 0h8m-2 0h8m-5 0h8m1 0h8m-203 3h8m61 0h8m4 0h8m22 0h8m-2 0h8m16 0h8m28 0h8m25 0h8m-2 0h8m-5 0h8m-290 3h8m37 0h8m4 0h8m4 0h8m22 0h8m4 0h8m10 0h8m4 0h8m37 0h8m10 0h8m1 0h8m4 0h8m40 0h8m1 0h8m-245 3h8m13 0h8m19 0h8m31 0h8m52 0h8m4 0h8m1 0h8m22 0h8m7 0h8m-5 0h8m-239 3h8m28 0h8m13 0h8m4 0h8m-2 0h8m61 0h8m1 0h8m-5 0h8m-5 0h8m13 0h8m-2 0h8m-2 0h8m-5 0h8m34 0h8m1 0h8m1 0h8m-326 3h8m16 0h8m106 0h8m-5 0h8m-2 0h8m10 0h8m-2 0h8m7 0h8m1 0h8m-5 0h8m25 0h8m22 0h8m-5 0h8m-2 0h8m-5 0h8m-2 0h8m-2 0h8m1 0h8m4 0h8m-260 3h8m13 0h8m40 0h8m58 0h8m13 0h8m25 0h8m13 0h8m25 0h8m-5 0h8m4 0h8m-224 3h8m52 0h8m1 0h8m118 0h8m19 0h8m-224 3h8m1 0h8m52 0h8m7 0h8m-2 0h8m43 0h8m-5 0h8m16 0h8m1 0h8m-5 0h8m1 0h8m1 0h8m-5 0h8m4 0h8m-281 3h8m55 0h8m25 0h8m19 0h8m13 0h8m-2 0h8m13 0h8m25 0h8m1 0h8m1 0h8m7 0h8m28 0h8m-206 3h8m7 0h8m10 0h8m10 0h8m-5 0h8m25 0h8m10 0h8m-2 0h8m37 0h8m-2 0h8m1 0h8m-5 0h8m1 0h8m7 0h8m-233 3h8m-2 0h8m52 0h8m-5 0h8m7 0h8m7 0h8m-2 0h8m25 0h8m1 0h8m-5 0h8m-5 0h8m1 0h8m1 0h8m10 0h8m10 0h8m-320 3h8m103 0h8m64 0h8m-5 0h8m-2 0h8m1 0h8m28 0h8m-2 0h8m1 0h8m4 0h8m7 0h8m1 0h8m-5 0h8m13 0h8m7 0h8m-2 0h8m-524 3h8m133 0h8m175 0h8m16 0h8m28 0h8m1 0h8m13 0h8m13 0h8m-2 0h8m-5 0h8m4 0h8m-2 0h8m13 0h8m-2 0h8m4 0h8m1 0h8m-230 3h8m13 0h8m10 0h8m43 0h8m4 0h8m10 0h8m16 0h8m19 0h8m-2 0h8m4 0h8m-5 0h8m-5 0h8m16 0h8m-5 0h8m-2 0h8m-188 3h8m4 0h8m4 0h8m37 0h8m-2 0h8m16 0h8m-5 0h8m28 0h8m4 0h8m-5 0h8m-2 0h8m-410 3h8m127 0h8m82 0h8m16 0h8m-5 0h8m19 0h8m1 0h8m10 0h8m22 0h8m-5 0h8m-5 0h8m4 0h8m7 0h8m-5 0h8m1 0h8m4 0h8m-2 0h8m-5 0h8m1 0h8m-383 3h8m82 0h8m16 0h8m10 0h8m43 0h8m19 0h8m16 0h8m-2 0h8m4 0h8m10 0h8m16 0h8m4 0h8m13 0h8m7 0h8m4 0h8m4 0h8m-2 0h8m-284 3h8m49 0h8m43 0h8m7 0h8m22 0h8m31 0h8m-5 0h8m25 0h8m-2 0h8m4 0h8m-2 0h8m4 0h8m7 0h8m-230 3h8m7 0h8m-5 0h8m19 0h8m76 0h8m-5 0h8m1 0h8m16 0h8m-2 0h8m1 0h8m7 0h8m-5 0h8m-2 0h8m-5 0h8m-5 0h8m-5 0h8m7 0h8m-371 3h8m43 0h8m31 0h8m16 0h8m7 0h8m25 0h8m13 0h8m-2 0h8m-2 0h8m7 0h8m-2 0h8m7 0h8m22 0h8m7 0h8m-5 0h8m-2 0h8m4 0h8m-5 0h8m-5 0h8m-2 0h8m-5 0h8m10 0h8m16 0h8m-5 0h8m-5 0h8m1 0h8m-176 3h8m22 0h8m4 0h8m10 0h8m16 0h8m1 0h8m-2 0h8m-5 0h8m16 0h8m19 0h8m-2 0h8m-206 3h8m19 0h8m10 0h8m7 0h8m22 0h8m16 0h8m10 0h8m-5 0h8m19 0h8m4 0h8m4 0h8m-194 3h8m7 0h8m16 0h8m-2 0h8m31 0h8m-5 0h8m-5 0h8m16 0h8m22 0h8m-5 0h8m7 0h8m1 0h8m-2 0h8m4 0h8m1 0h8m-347 3h8m-2 0h8m136 0h8m34 0h8m-5 0h8m4 0h8m25 0h8m7 0h8m7 0h8m16 0h8m1 0h8m1 0h8m-5 0h8m-2 0h8m-5 0h8m7 0h8m-224 3h8m22 0h8m7 0h8m25 0h8m19 0h8m1 0h8m1 0h8m1 0h8m25 0h8m4 0h8m-2 0h8m-5 0h8m-5 0h8m-5 0h8m-5 0h8m-5 0h8m7 0h8m-5 0h8m1 0h8m-233 3h8m10 0h8m4 0h8m4 0h8m1 0h8m7 0h8m58 0h8m-5 0h8m-2 0h8m-2 0h8m-2 0h8m-5 0h8m1 0h8m13 0h8m-5 0h8m-2 0h8m16 0h8m-5 0h8m-221 3h8m67 0h8m7 0h8m-2 0h8m13 0h8m4 0h8m13 0h8m1 0h8m7 0h8m7 0h8m10 0h8m-269 3h8m85 0h8m1 0h8m-5 0h8m7 0h8m25 0h8m28 0h8m10 0h8m-2 0h8m10 0h8m13 0h8m-2 0h8m-254 3h8m-2 0h8m19 0h8m4 0h8m-5 0h8m46 0h8m28 0h8m-5 0h8m16 0h8m-2 0h8m1 0h8m1 0h8m4 0h8m-5 0h8m25 0h8m1 0h8m-5 0h8m1 0h8m-329 3h8m55 0h8m25 0h8m-2 0h8m49 0h8m10 0h8m-5 0h8m13 0h8m10 0h8m-5 0h8m-2 0h8m46 0h8m16 0h8m-158 3h8m46 0h8m4 0h8m13 0h8m-5 0h8m7 0h8m16 0h8m7 0h8m7 0h8m-446 3h8m157 0h8m37 0h8m79 0h8m28 0h8m1 0h8m52 0h8m7 0h8m-2 0h8m10 0h8m-5 0h8m-647 3h8m262 0h8m94 0h8m25 0h8m16 0h8m82 0h8m52 0h8m-2 0h8m7 0h8m4 0h8m7 0h8m-5 0h8m-212 3h8m130 0h8m7 0h8m19 0h8m19 0h8m-5 0h8" stroke="#5a9a3a" stroke-width="8" fill="none"/>
<path transform="scale(.1)" d="M1403 3939h8m-5 0h8m-5 0h8m-5 0h8m-5 0h8m-5 0h8m-5 0h8m-5 0h8m-2 0h8m-5 0h8m-5 0h8m-5 0h8m-2 0h8m-5 0h8m-2 0h8m1 0h8m7 0h8m13 0h8m4 0h8m-5 0h8m4 0h8m28 0h8m1 0h8m-179 3h8m-2 0h8m-5 0h8m-5 0h8m-5 0h8m-5 0h8m-5 0h8m-5 0h8m-5 0h8m-5 0h8m-2 0h8m-2 0h8m-2 0h8m-5 0h8m-5 0h8m1 0h8m4 0h8m-83 3h8m-5 0h8m-5 0h8m-5 0h8m-5 0h8m-5 0h8m-5 0h8m-5 0h8m-5 0h8m-5 0h8m-5 0h8m-5 0h8m-2 0h8m-2 0h8m-5 0h8m1 0h8m-5 0h8m13 0h8m46 0h8m25 0h8m-176 3h8m-5 0h8m-5 0h8m-2 0h8m-5 0h8m-2 0h8m-5 0h8m-5 0h8m-5 0h8m-5 0h8m-5 0h8m4 0h8m-5 0h8m-5 0h8m-5 0h8m-5 0h8m-5 0h8m4 0h8m4 0h8m-5 0h8m22 0h8m-131 3h8m-5 0h8m-5 0h8m-5 0h8m-5 0h8m-5 0h8m-5 0h8m-2 0h8m-2 0h8m4 0h8m-5 0h8m-2 0h8m-5 0h8m4 0h8m-5 0h8m-5 0h8m4 0h8m4 0h8m-2 0h8m-2 0h8m37 0h8m-2 0h8m58 0h8m-233 3h8m-5 0h8m-2 0h8m-2 0h8m-2 0h8m4 0h8m-2 0h8m-5 0h8m-5 0h8m-5 0h8m-5 0h8m-5 0h8m-5 0h8m4 0h8m10 0h8m37 0h8m73 0h8m-221 3h8m-5 0h8m-5 0h8m-5 0h8m-5 0h8m7 0h8m-2 0h8m-2 0h8m-5 0h8m1 0h8m-5 0h8m121 0h8m25 0h8m-218 3h8m-2 0h8m-5 0h8m1 0h8m7 0h8m-5 0h8m-5 0h8m-5 0h8m-5 0h8m10 0h8m-5 0h8m-2 0h8m1 0h8m7 0h8m97 0h8m-209 3h8m-5 0h8m-5 0h8m-2 0h8m-5 0h8m-2 0h8m-2 0h8m1 0h8m-2 0h8m-2 0h8m10 0h8m-77 3h8m1 0h8m-2 0h8m4 0h8m-2 0h8m1 0h8m7 0h8m-2 0h8m307 0h8m-386 3h8m7 0h8m-2 0h8m-5 0h8m1 0h8m61 0h8m67 0h8m115 0h8m-311 3h8m-2 0h8m-5 0h8m4 0h8m-5 0h8m13 0h8m34 0h8m130 0h8m-233 3h8m-2 0h8m-5 0h8m1 0h8m7 0h8m-5 0h8m-38 3h8m-5 0h8m22 0h8m13 0h8m22 0h8m22 0h8m7 0h8m-143 3h8m-5 0h8m1 0h8m-5 0h8m16 0h8m1 0h8m10 0h8m-74 3h8m-5 0h8m-5 0h8m-5 0h8m1 0h8m-5 0h8m-5 0h8m7 0h8m-5 0h8m7 0h8m43 0h8m-119 3h8m-2 0h8m-5 0h8m-5 0h8m4 0h8m1 0h8m-5 0h8m-2 0h8m1 0h8m7 0h8m31 0h8m118 0h8m-236 3h8m-5 0h8m-5 0h8m10 0h8m-2 0h8m7 0h8m-2 0h8m-2 0h8m277 0h8m-347 3h8m-5 0h8m10 0h8m7 0h8m28 0h8m49 0h8m34 0h8m-185 3h8m1 0h8m1 0h8m-2 0h8m-5 0h8m-5 0h8m-5 0h8m-2 0h8m-2 0h8m88 0h8m52 0h8m238 0h8m-455 3h8m-5 0h8m-2 0h8m-5 0h8m4 0h8m-2 0h8m-5 0h8m-2 0h8m1 0h8m67 0h8m133 0h8m-266 3h8m-5 0h8m7 0h8m1 0h8m-5 0h8m-5 0h8m-2 0h8m-47 3h8m-2 0h8m-5 0h8m1 0h8m1 0h8m1 0h8m-2 0h8m-56 3h8m-5 0h8m-5 0h8m-5 0h8m-5 0h8m10 0h8m1 0h8m1 0h8m64 0h8m-128 3h8m13 0h8m-5 0h8m7 0h8m46 0h8m70 0h8m58 0h8m-245 3h8m-5 0h8m-5 0h8m4 0h8m-2 0h8m-5 0h8m-2 0h8m46 0h8m46 0h8m49 0h8m-200 3h8m-5 0h8m-5 0h8m-5 0h8m-5 0h8m-5 0h8m-2 0h8m-5 0h8m-2 0h8m4 0h8m-5 0h8m-5 0h8m97 0h8m-155 3h8m-5 0h8m-5 0h8m4 0h8m-5 0h8m-5 0h8m1 0h8m316 0h8m-380 3h8m-5 0h8m-5 0h8m-5 0h8m-5 0h8m-5 0h8m-5 0h8m-5 0h8m-5 0h8m13 0h8m52 0h8m22 0h8m-140 3h8m-5 0h8m-5 0h8m-2 0h8m31 0h8m43 0h8m124 0h8m-245 3h8m1 0h8m-5 0h8m4 0h8m-5 0h8m-35 3h8m-5 0h8m-5 0h8m-5 0h8m-2 0h8m-2 0h8m22 0h8m-2 0h8m10 0h8m13 0h8m7 0h8m49 0h8m-176 3h8m-2 0h8m-2 0h8m-5 0h8m-2 0h8m-2 0h8m4 0h8m4 0h8m286 0h8m-350 3h8m-5 0h8m4 0h8m-2 0h8m-2 0h8m34 0h8m13 0h8m-101 3h8m-5 0h8m-2 0h8m-5 0h8m10 0h8m-5 0h8m4 0h8m151 0h8m-209 3h8m-5 0h8m10 0h8m-5 0h8m16 0h8m-2 0h8m31 0h8m-104 3h8m-5 0h8m-2 0h8m1 0h8m1 0h8m-38 3h8m-5 0h8m-2 0h8m-5 0h8m-5 0h8m-2 0h8m-5 0h8m4 0h8m-5 0h8m40 0h8m-92 3h8m-5 0h8m-2 0h8m91 0h8m265 0h8m-392 3h8m-5 0h8m-5 0h8m-5 0h8m4 0h8m13 0h8m28 0h8m-86 3h8m-2 0h8m-5 0h8m-2 0h8m-2 0h8m-5 0h8m4 0h8m-2 0h8m1 0h8m-5 0h8m4 0h8m40 0h8m13 0h8m-137 3h8m-2 0h8m-5 0h8m1 0h8m-5 0h8m4 0h8m-5 0h8m16 0h8m88 0h8m-170 3h8m-5 0h8m-5 0h8m-5 0h8m-5 0h8m-5 0h8m-5 0h8m-5 0h8m-5 0h8m10 0h8m7 0h8m100 0h8m-173 3h8m1 0h8m4 0h8m-5 0h8m13 0h8m-5 0h8m28 0h8m85 0h8m43 0h8m-236 3h8m4 0h8m7 0h8m7 0h8m10 0h8m-5 0h8m7 0h8m67 0h8m100 0h8m-269 3h8m7 0h8m1 0h8m-2 0h8m-5 0h8m16 0h8m58 0h8m-2 0h8m-131 3h8m-2 0h8m-5 0h8m-5 0h8m1 0h8m4 0h8m-50 3h8m-2 0h8m-5 0h8m1 0h8m-5 0h8m-2 0h8m-2 0h8m-5 0h8m-2 0h8m-5 0h8m19 0h8m49 0h8m25 0h8m1 0h8m-176 3h8m-2 0h8m-5 0h8m-5 0h8m-2 0h8m-5 0h8m-5 0h8m-5 0h8m-5 0h8m-5 0h8m19 0h8m-5 0h8m67 0h8m-140 3h8m-5 0h8m13 0h8m43 0h8m-92 3h8m-2 0h8m-5 0h8m16 0h8m-5 0h8m28 0h8m34 0h8m298 0h8m-416 3h8m-5 0h8m1 0h8m7 0h8m-2 0h8m-53 3h8m-2 0h8m10 0h8m7 0h8m4 0h8m-5 0h8m28 0h8m73 0h8m58 0h8m1 0h8m-254 3h8m4 0h8m1 0h8m1 0h8m37 0h8m331 0h8m-419 3h8m-5 0h8m7 0h8m4 0h8m-5 0h8m-5 0h8m10 0h8m16 0h8m13 0h8m-101 3h8m-5 0h8m-5 0h8m1 0h8m16 0h8m22 0h8m10 0h8m34 0h8m-146 3h8m7 0h8m1 0h8m-2 0h8m-5 0h8m-5 0h8m4 0h8m91 0h8m34 0h8m235 0h8m-437 3h8m40 0h8m151 0h8m-218 3h8m-2 0h8m-2 0h8m-5 0h8m31 0h8m37 0h8m-101 3h8m-5 0h8m-5 0h8m16 0h8m61 0h8m169 0h8m-287 3h8m1 0h8m4 0h8m-2 0h8m1 0h8m4 0h8m-2 0h8m304 0h8m-374 3h8m-5 0h8m-2 0h8m-5 0h8m-5 0h8m4 0h8m-5 0h8m-5 0h8m4 0h8m124 0h8m-188 3h8m-2 0h8m-5 0h8m10 0h8m37 0h8m-74 3h8m-5 0h8m1 0h8m-5 0h8m16 0h8m88 0h8m106 0h8m-266 3h8m-5 0h8m-5 0h8m-5 0h8m7 0h8m1 0h8m-2 0h8m97 0h8m91 0h8m-248 3h8m-2 0h8m-5 0h8m-5 0h8m-2 0h8m7 0h8m34 0h8m10 0h8m85 0h8m-185 3h8m-2 0h8m34 0h8m16 0h8m-83 3h8m4 0h8m-5 0h8m-5 0h8m-2 0h8m-5 0h8m1 0h8m37 0h8m7 0h8m-116 3h8m-5 0h8m1 0h8m-5 0h8m1 0h8m-5 0h8m1 0h8m10 0h8m-2 0h8m22 0h8m49 0h8m-155 3h8m-5 0h8m-5 0h8m-5 0h8m-5 0h8m-5 0h8m19 0h8m-5 0h8m4 0h8m337 0h8m-407 3h8m-5 0h8m1 0h8m-5 0h8m-2 0h8m-5 0h8m31 0h8m10 0h8m148 0h8m124 0h8m94 0h8m-479 3h8m16 0h8m4 0h8m-2 0h8m22 0h8m139 0h8m-5 0h8m-233 3h8m-2 0h8m-5 0h8m-5 0h8m-5 0h8m-5 0h8m-5 0h8m-5 0h8m-5 0h8m7 0h8m4 0h8m10 0h8m-2 0h8m31 0h8m-125 3h8m-5 0h8m-5 0h8m-5 0h8m-5 0h8m28 0h8m4 0h8m-2 0h8m193 0h8m-269 3h8m-5 0h8m-5 0h8m-2 0h8m-5 0h8m1 0h8m-5 0h8m-5 0h8m-5 0h8m-2 0h8m10 0h8m97 0h8m13 0h8m46 0h8m190 0h8m-446 3h8m-5 0h8m-5 0h8m7 0h8m-5 0h8m7 0h8m1 0h8m10 0h8m160 0h8m-5 0h8m118 0h8m-374 3h8m-5 0h8m-2 0h8m-5 0h8m1 0h8m-2 0h8m-5 0h8m-5 0h8m-5 0h8m-2 0h8m-5 0h8m1 0h8m34 0h8m157 0h8m-260 3h8m-5 0h8m1 0h8m-2 0h8m-5 0h8m55 0h8m37 0h8m340 0h8m-479 3h8m-5 0h8m1 0h8m-2 0h8m-2 0h8m-2 0h8m58 0h8m-119 3h8m-5 0h8m7 0h8m-2 0h8m-5 0h8m-5 0h8m-38 3h8m1 0h8m1 0h8m10 0h8m55 0h8m145 0h8m-260 3h8m-2 0h8m1 0h8m-2 0h8m4 0h8m-5 0h8m1 0h8m28 0h8m-89 3h8m4 0h8m-5 0h8m1 0h8m4 0h8m28 0h8m94 0h8m-176 3h8m7 0h8m1 0h8m-2 0h8m1 0h8m28 0h8m1 0h8m10 0h8m34 0h8m7 0h8m169 0h8m124 0h8m-458 3h8m-2 0h8m7 0h8m-5 0h8m4 0h8m61 0h8m25 0h8m-2 0h8m19 0h8m-200 3h8m-2 0h8m-2 0h8m-5 0h8m-5 0h8m-5 0h8m-5 0h8m10 0h8m208 0h8m-266 3h8m-5 0h8m-2 0h8m-5 0h8m-5 0h8m1 0h8m-5 0h8m-2 0h8m-2 0h8m7 0h8m-2 0h8m1 0h8m28 0h8m94 0h8m-209 3h8m-5 0h8m-2 0h8m1 0h8m-2 0h8m-2 0h8m1 0h8m-2 0h8m55 0h8m70 0h8m13 0h8m-221 3h8m-2 0h8m4 0h8m-5 0h8m1 0h8m-2 0h8m31 0h8m-86 3h8m1 0h8m1 0h8m-2 0h8m-2 0h8m-5 0h8m4 0h8m10 0h8m-5 0h8m4 0h8m16 0h8m139 0h8m-254 3h8m-5 0h8m-2 0h8m-5 0h8m106 0h8m-137 3h8m-2 0h8m-2 0h8m-5 0h8m-5 0h8m-2 0h8m-5 0h8m-5 0h8m-38 3h8m-5 0h8m-5 0h8m-2 0h8m1 0h8m1 0h8m-2 0h8m-2 0h8m37 0h8m-5 0h8m-5 0h8m4 0h8m10 0h8m31 0h8m88 0h8m-266 3h8m-2 0h8m-2 0h8m-5 0h8m-2 0h8m-2 0h8m-5 0h8m10 0h8m4 0h8m19 0h8m1 0h8m7 0h8m94 0h8m-218 3h8m-5 0h8m-5 0h8m-5 0h8m-2 0h8m-5 0h8m-5 0h8m1 0h8m-5 0h8m-5 0h8m19 0h8m22 0h8m73 0h8m-185 3h8m-5 0h8m1 0h8m-5 0h8m-2 0h8m-5 0h8m37 0h8m151 0h8m-230 3h8m-2 0h8m-2 0h8m-2 0h8m4 0h8m-5 0h8m13 0h8m-68 3h8m-5 0h8m-2 0h8m-5 0h8m-5 0h8m-5 0h8m1 0h8m10 0h8m-2 0h8m31 0h8m103 0h8m-206 3h8m-5 0h8m10 0h8m-5 0h8m-5 0h8m7 0h8m-50 3h8m1 0h8m-5 0h8m-2 0h8m-2 0h8m-2 0h8m-5 0h8m22 0h8m-68 3h8m1 0h8m-5 0h8m10 0h8m-5 0h8m-2 0h8m1 0h8m-5 0h8m-65 3h8m1 0h8m-2 0h8m-5 0h8m-5 0h8m-5 0h8m-5 0h8m-2 0h8m19 0h8m4 0h8m-5 0h8m13 0h8m-5 0h8m-5 0h8m100 0h8m-200 3h8m4 0h8m7 0h8m-53 3h8m-2 0h8m-2 0h8m-2 0h8m1 0h8m7 0h8m19 0h8m58 0h8m-143 3h8m-2 0h8m-2 0h8m-5 0h8m13 0h8m-5 0h8m7 0h8m184 0h8m-251 3h8m-5 0h8m-2 0h8m-5 0h8m-2 0h8m-5 0h8m1 0h8m1 0h8m-2 0h8m1 0h8m1 0h8m43 0h8m13 0h8m-146 3h8m-5 0h8m-5 0h8m-2 0h8m-2 0h8m-5 0h8m1 0h8m-5 0h8m-2 0h8m-2 0h8m100 0h8m-155 3h8m-5 0h8m13 0h8m-2 0h8m4 0h8m76 0h8m-140 3h8m-5 0h8m-5 0h8m4 0h8m1 0h8m-2 0h8m-5 0h8m7 0h8m112 0h8m181 0h8m-368 3h8m1 0h8m-5 0h8m19 0h8m1 0h8m-2 0h8m55 0h8m295 0h8m-425 3h8m-5 0h8m-5 0h8m-2 0h8m-5 0h8m4 0h8m1 0h8m58 0h8m1 0h8m346 0h8m-473 3h8m-5 0h8m-5 0h8m-5 0h8m-2 0h8m-2 0h8m4 0h8m-2 0h8m-2 0h8m46 0h8m10 0h8m7 0h8m94 0h8m-242 3h8m-5 0h8m-2 0h8m-2 0h8m-5 0h8m-5 0h8m-5 0h8m-5 0h8m1 0h8m4 0h8m-5 0h8m-56 3h8m4 0h8m4 0h8m4 0h8m-2 0h8m184 0h8m223 0h8m-476 3h8m-2 0h8m16 0h8m37 0h8m163 0h8m-254 3h8m-5 0h8m-5 0h8m1 0h8m13 0h8m-2 0h8m46 0h8m4 0h8m67 0h8m-194 3h8m1 0h8m-5 0h8m-2 0h8m19 0h8m88 0h8m-140 3h8m1 0h8m-5 0h8m-2 0h8m10 0h8m4 0h8m28 0h8m-2 0h8m127 0h8m-242 3h8m-2 0h8m-5 0h8m58 0h8m13 0h8m22 0h8m25 0h8m-167 3h8m-5 0h8m-5 0h8m1 0h8m-5 0h8m16 0h8m28 0h8m40 0h8m-128 3h8m-2 0h8m7 0h8m16 0h8m16 0h8m58 0h8m-149 3h8m-2 0h8m-5 0h8m-5 0h8m-5 0h8m-5 0h8m-5 0h8m4 0h8m-5 0h8m1 0h8m28 0h8m-2 0h8m139 0h8m-233 3h8m1 0h8m-2 0h8m-2 0h8m13 0h8m-53 3h8m1 0h8m43 0h8m43 0h8m187 0h8m-320 3h8m-5 0h8m4 0h8m-5 0h8m-5 0h8m1 0h8m-5 0h8m4 0h8m64 0h8m16 0h8m-140 3h8m-2 0h8m-5 0h8m28 0h8m49 0h8m55 0h8m-5 0h8m4 0h8m-197 3h8m4 0h8m-5 0h8m4 0h8m-5 0h8m-2 0h8m-2 0h8m-2 0h8m16 0h8m31 0h8m-5 0h8m-122 3h8m1 0h8m-2 0h8m-5 0h8m-5 0h8m10 0h8m-5 0h8m-2 0h8m1 0h8m61 0h8m40 0h8m-182 3h8m-5 0h8m-5 0h8m-5 0h8m-2 0h8m-5 0h8m25 0h8m-2 0h8m115 0h8m46 0h8m-242 3h8m-5 0h8m-5 0h8m-5 0h8m-5 0h8m-2 0h8m-2 0h8m4 0h8m4 0h8m-5 0h8m7 0h8m100 0h8m-158 3h8m-2 0h8m7 0h8m1 0h8m79 0h8m16 0h8m16 0h8m277 0h8m-479 3h8m-5 0h8m4 0h8m16 0h8m-5 0h8m28 0h8m205 0h8m-299 3h8m-2 0h8m-5 0h8m4 0h8m-2 0h8m-5 0h8m-5 0h8m52 0h8m256 0h8m-368 3h8m1 0h8m-2 0h8m-2 0h8m-5 0h8m-5 0h8m-5 0h8m16 0h8m13 0h8m97 0h8m37 0h8m262 0h8m-503 3h8m-2 0h8m-5 0h8m7 0h8m-5 0h8m4 0h8m-5 0h8m-5 0h8m10 0h8m-65 3h8m-5 0h8m4 0h8m4 0h8m-5 0h8m10 0h8m-56 3h8m-5 0h8m-2 0h8m-2 0h8m-5 0h8m13 0h8m91 0h8m94 0h8m-2 0h8m70 0h8m34 0h8m-377 3h8m-5 0h8m-2 0h8m1 0h8m145 0h8m46 0h8m-233 3h8m-5 0h8m-2 0h8m10 0h8m-5 0h8m61 0h8m73 0h8m-191 3h8m-5 0h8m-5 0h8m-2 0h8m-5 0h8m28 0h8m7 0h8m-5 0h8m-2 0h8m25 0h8m25 0h8m-149 3h8m-5 0h8m-5 0h8m-5 0h8m-2 0h8m1 0h8m1 0h8m16 0h8m-65 3h8m-5 0h8m-2 0h8m-5 0h8m1 0h8m1 0h8m7 0h8m-5 0h8m13 0h8m67 0h8m106 0h8m-266 3h8m1 0h8m-5 0h8m-5 0h8m-5 0h8m-2 0h8m-5 0h8m-5 0h8m1 0h8m4 0h8m10 0h8m-56 3h8m-2 0h8m-5 0h8m-5 0h8m-5 0h8m-5 0h8m-5 0h8m7 0h8m34 0h8m79 0h8m-194 3h8m1 0h8m4 0h8m-2 0h8m-2 0h8m67 0h8m-116 3h8m13 0h8m25 0h8m22 0h8m-89 3h8m1 0h8m1 0h8m-2 0h8m-2 0h8m31 0h8m-65 3h8m-5 0h8m-5 0h8m10 0h8m7 0h8m4 0h8m22 0h8m22 0h8m64 0h8m-206 3h8m-2 0h8m-5 0h8m-2 0h8m-5 0h8m-5 0h8m-5 0h8m-5 0h8m-35 3h8m10 0h8m-5 0h8m-5 0h8m-2 0h8m-2 0h8m361 0h8m-407 3h8m-5 0h8m1 0h8m-5 0h8m7 0h8m61 0h8m1 0h8m-119 3h8m-2 0h8m-5 0h8m1 0h8m-2 0h8m7 0h8m-2 0h8m40 0h8m22 0h8m79 0h8m25 0h8m-254 3h8m-5 0h8m-5 0h8m-2 0h8m-2 0h8m-2 0h8m1 0h8m1 0h8m1 0h8m1 0h8m-65 3h8m-5 0h8m-5 0h8m-2 0h8m1 0h8m-5 0h8m-2 0h8m34 0h8m88 0h8m70 0h8m139 0h8m-404 3h8m-2 0h8m-2 0h8m4 0h8m-2 0h8m-5 0h8m-5 0h8m-5 0h8m1 0h8m-5 0h8m70 0h8m115 0h8m-260 3h8m1 0h8m1 0h8m4 0h8m34 0h8m31 0h8m130 0h8m205 0h8m-470 3h8m-2 0h8m13 0h8m-2 0h8m16 0h8m22 0h8m13 0h8m-116 3h8m-5 0h8m-5 0h8m-5 0h8m7 0h8m-5 0h8m1 0h8m-38 3h8m-2 0h8m-5 0h8m-5 0h8m-5 0h8m-2 0h8m-2 0h8m-5 0h8m4 0h8m-5 0h8m16 0h8m16 0h8m-104 3h8m4 0h8m-5 0h8m-5 0h8m22 0h8m73 0h8m-128 3h8m-2 0h8m1 0h8m-2 0h8m-5 0h8m7 0h8m-5 0h8m-59 3h8m-5 0h8m-2 0h8m1 0h8m-2 0h8m-2 0h8m31 0h8m4 0h8m-2 0h8m154 0h8m-245 3h8m-5 0h8m-5 0h8m7 0h8m70 0h8m55 0h8m-179 3h8m-5 0h8m-5 0h8m-2 0h8m-2 0h8m1 0h8m10 0h8m139 0h8m-206 3h8m-2 0h8m-5 0h8m-2 0h8m4 0h8m-2 0h8m-5 0h8m4 0h8m22 0h8m199 0h8m-293 3h8m-5 0h8m-5 0h8m-5 0h8m-5 0h8m19 0h8m-5 0h8m-2 0h8m106 0h8m55 0h8m-233 3h8m-5 0h8m1 0h8m-5 0h8m-5 0h8m4 0h8m49 0h8m-95 3h8m-5 0h8m1 0h8m-5 0h8m-5 0h8m-5 0h8m4 0h8m25 0h8m-2 0h8m94 0h8m85 0h8m-272 3h8m-5 0h8m-2 0h8m-2 0h8m7 0h8m-2 0h8m-5 0h8m-50 3h8m4 0h8m-5 0h8m-5 0h8m1 0h8m10 0h8m-5 0h8m1 0h8m-62 3h8m-5 0h8m-5 0h8m-5 0h8m-5 0h8m-5 0h8m-5 0h8m1 0h8m-2 0h8m-5 0h8m7 0h8m52 0h8m52 0h8m-182 3h8m1 0h8m-2 0h8m-5 0h8m-2 0h8m-5 0h8m1 0h8m-5 0h8m-5 0h8m1 0h8m7 0h8m58 0h8m-140 3h8m-5 0h8m-5 0h8m-5 0h8m-5 0h8m-5 0h8m1 0h8m-2 0h8m37 0h8m130 0h8m37 0h8m-260 3h8m-5 0h8m-5 0h8m1 0h8m-5 0h8m7 0h8m31 0h8m43 0h8m181 0h8m-320 3h8m7 0h8m22 0h8m1 0h8m4 0h8m-5 0h8m25 0h8m-116 3h8m1 0h8m-2 0h8m-2 0h8m-5 0h8m-5 0h8m1 0h8m-2 0h8m10 0h8m7 0h8m-77 3h8m-5 0h8m-2 0h8m-5 0h8m-5 0h8m4 0h8m-2 0h8m1 0h8m4 0h8m-65 3h8m13 0h8m-5 0h8m13 0h8m31 0h8m130 0h8m-230 3h8m1 0h8m-2 0h8m4 0h8m1 0h8m19 0h8m139 0h8m-221 3h8m-5 0h8m-2 0h8m-5 0h8m31 0h8m1 0h8m13 0h8m13 0h8m154 0h8m-260 3h8m7 0h8m16 0h8m-53 3h8m1 0h8m-5 0h8m-26 3h8m1 0h8m-5 0h8m-5 0h8m-2 0h8m-5 0h8m-5 0h8m19 0h8m7 0h8m1 0h8m319 0h8m-413 3h8m4 0h8m4 0h8m-5 0h8m-5 0h8m-5 0h8m-5 0h8m-2 0h8m124 0h8m-179 3h8m-5 0h8m1 0h8m7 0h8m-2 0h8m19 0h8m40 0h8m61 0h8m52 0h8m-239 3h8m-5 0h8m-5 0h8m4 0h8m16 0h8m-56 3h8m-5 0h8m1 0h8m4 0h8m-5 0h8m40 0h8m4 0h8m58 0h8m52 0h8m-218 3h8m-5 0h8m-5 0h8m4 0h8m13 0h8m-50 3h8m10 0h8m-5 0h8m-2 0h8m-2 0h8m-2 0h8m94 0h8m-152 3h8m-5 0h8m-5 0h8m-5 0h8m1 0h8m-2 0h8m85 0h8m-122 3h8m-5 0h8m-5 0h8m-5 0h8m4 0h8m4 0h8m-2 0h8m19 0h8m127 0h8m55 0h8m-269 3h8m1 0h8m4 0h8m4 0h8m10 0h8m16 0h8m1 0h8m-95 3h8m-5 0h8m-2 0h8m-5 0h8m-5 0h8m-2 0h8m-5 0h8m7 0h8m-5 0h8m49 0h8m58 0h8m13 0h8m193 0h8m-395 3h8m-5 0h8m1 0h8m-5 0h8m-2 0h8m-5 0h8m-2 0h8m1 0h8m43 0h8m43 0h8m76 0h8m-230 3h8m-2 0h8m7 0h8m19 0h8m-2 0h8m40 0h8m-116 3h8m-2 0h8m-2 0h8m-5 0h8m10 0h8m-2 0h8m40 0h8m85 0h8m1 0h8m-185 3h8m-5 0h8m-2 0h8m4 0h8m-5 0h8m7 0h8m-5 0h8m-56 3h8m-5 0h8m-5 0h8m4 0h8m19 0h8m28 0h8m28 0h8m-131 3h8m1 0h8m-5 0h8m-5 0h8m-5 0h8m-5 0h8m-5 0h8m-5 0h8m-2 0h8m61 0h8m40 0h8m-158 3h8m-5 0h8m-2 0h8m-2 0h8m-5 0h8m-5 0h8m-2 0h8m-5 0h8m4 0h8m415 0h8m-470 3h8m-2 0h8m-5 0h8m-2 0h8m1 0h8m-2 0h8m-5 0h8m-2 0h8m4 0h8m28 0h8m37 0h8m46 0h8m-197 3h8m1 0h8m-5 0h8m-5 0h8m1 0h8m10 0h8m55 0h8m-104 3h8m-5 0h8m-2 0h8m4 0h8m19 0h8m34 0h8m103 0h8m-212 3h8m-5 0h8m-5 0h8m1 0h8m4 0h8m-5 0h8m-2 0h8m-5 0h8m160 0h8m157 0h8m-383 3h8m-2 0h8m-5 0h8m-2 0h8m-5 0h8m4 0h8m-5 0h8m-5 0h8m22 0h8m-5 0h8m61 0h8m109 0h8m-266 3h8m-2 0h8m7 0h8m10 0h8m10 0h8m-5 0h8m1 0h8m-71 3h8m-5 0h8m-2 0h8m1 0h8m-2 0h8m-2 0h8m13 0h8m94 0h8m-161 3h8m-5 0h8m7 0h8m10 0h8m19 0h8m70 0h8m4 0h8m-149 3h8m4 0h8m-5 0h8m-5 0h8m7 0h8m64 0h8m121 0h8m91 0h8m-356 3h8m-5 0h8m1 0h8m-2 0h8m1 0h8m4 0h8m19 0h8m52 0h8m-134 3h8m-5 0h8m-2 0h8m-5 0h8m1 0h8m-2 0h8m-2 0h8m10 0h8m61 0h8m19 0h8m-158 3h8m-5 0h8m1 0h8m-5 0h8m-5 0h8m-2 0h8m-5 0h8m10 0h8m-5 0h8m43 0h8m115 0h8m-221 3h8m1 0h8m-5 0h8m-5 0h8m-5 0h8m16 0h8m37 0h8m358 0h8m-470 3h8m1 0h8m4 0h8m-5 0h8m-5 0h8m37 0h8m-5 0h8m-83 3h8m-2 0h8m-5 0h8m-5 0h8m1 0h8m-5 0h8m-5 0h8m7 0h8m25 0h8m1 0h8m256 0h8m-353 3h8m-2 0h8m1 0h8m-2 0h8m4 0h8m1 0h8m1 0h8m16 0h8m-77 3h8m-5 0h8m-2 0h8m1 0h8m1 0h8m4 0h8m-56 3h8m1 0h8m-5 0h8m13 0h8m-5 0h8m1 0h8m7 0h8m-2 0h8m10 0h8m-2 0h8m46 0h8m-152 3h8m1 0h8m1 0h8m7 0h8m160 0h8m-206 3h8m-5 0h8m-2 0h8m-2 0h8m-5 0h8m1 0h8m-5 0h8m-2 0h8m4 0h8m25 0h8m-86 3h8m-2 0h8m-2 0h8m-5 0h8m-5 0h8m-2 0h8m4 0h8m19 0h8m-5 0h8m10 0h8m61 0h8m79 0h8m-242 3h8m-5 0h8m-5 0h8m-5 0h8m1 0h8m1 0h8m-5 0h8m22 0h8m10 0h8m160 0h8m-260 3h8m25 0h8m16 0h8m148 0h8m-227 3h8m-2 0h8m-5 0h8m-2 0h8m-5 0h8m13 0h8m4 0h8m37 0h8m157 0h8m-269 3h8m7 0h8m-2 0h8m-5 0h8m-2 0h8m16 0h8m1 0h8m-5 0h8m43 0h8m-125 3h8m-5 0h8m-5 0h8m-5 0h8m-5 0h8m-5 0h8m-2 0h8m-5 0h8m-5 0h8m4 0h8m16 0h8m49 0h8m28 0h8m247 0h8m-416 3h8m-2 0h8m-5 0h8m1 0h8m-5 0h8m-2 0h8m-5 0h8m109 0h8m-152 3h8m-5 0h8m-5 0h8m4 0h8m4 0h8m-2 0h8m-2 0h8m-56 3h8m-5 0h8m-2 0h8m-5 0h8m7 0h8m70 0h8m-5 0h8m151 0h8m-275 3h8m-2 0h8m7 0h8m-5 0h8m25 0h8m121 0h8m199 0h8m-401 3h8m-2 0h8m-2 0h8m10 0h8m1 0h8m64 0h8m142 0h8m-260 3h8m-5 0h8m1 0h8m22 0h8m-2 0h8m-2 0h8m-68 3h8m4 0h8m-2 0h8m61 0h8m4 0h8m43 0h8m-155 3h8m-5 0h8m-5 0h8m-5 0h8m55 0h8m-86 3h8m1 0h8m-5 0h8m-5 0h8m22 0h8m52 0h8m-104 3h8m-5 0h8m-2 0h8m1 0h8m-5 0h8m16 0h8m205 0h8m-275 3h8m-5 0h8m-5 0h8m-2 0h8m-5 0h8m-5 0h8m7 0h8m13 0h8m13 0h8m148 0h8m-239 3h8m19 0h8m-5 0h8m7 0h8m4 0h8m52 0h8m13 0h8m52 0h8m82 0h8m178 0h8m-482 3h8m-5 0h8m-5 0h8m-5 0h8m-5 0h8m16 0h8m-5 0h8m-2 0h8m-2 0h8m-2 0h8m16 0h8m34 0h8m76 0h8m-212 3h8m-2 0h8m-2 0h8m4 0h8m7 0h8m307 0h8m-365 3h8m-5 0h8m-5 0h8m-5 0h8m-5 0h8m19 0h8m301 0h8m-353 3h8m16 0h8m-5 0h8m1 0h8m1 0h8m7 0h8m-68 3h8m-5 0h8m10 0h8m-5 0h8m-5 0h8m-2 0h8m25 0h8m-74 3h8m-2 0h8m-2 0h8m-5 0h8m13 0h8m13 0h8m112 0h8m34 0h8m-221 3h8m-2 0h8m-5 0h8m-5 0h8m1 0h8m7 0h8m4 0h8m-2 0h8m25 0h8m109 0h8m31 0h8m-242 3h8m1 0h8m10 0h8m34 0h8m64 0h8m25 0h8" stroke="#e41010" stroke-width="8" fill="none"/>
<rect x="51.2" y="388.8" width="147.5" height="122.5" fill="none" stroke="#111" stroke-width="1.2"/>
<path d="M47.6 506.1H51.2 M47.6 476.3H51.2 M47.6 446.5H51.2 M47.6 416.7H51.2 M60.1 511.4V515.2 M95.6 511.4V515.2 M131.1 511.4V515.2 M166.6 511.4V515.2" stroke="#111" stroke-width="1"/>
<text x="44.30" y="508.60" font-size="7.0" fill="#222" text-anchor="end" stroke="#222" stroke-width="0.112" transform="rotate(0.05 44.30 508.60)">0</text>
<text x="44.30" y="478.80" font-size="7.0" fill="#222" text-anchor="end" stroke="#222" stroke-width="0.112" transform="rotate(0.05 44.30 478.80)">1</text>
<text x="44.30" y="449.00" font-size="7.0" fill="#222" text-anchor="end" stroke="#222" stroke-width="0.112" transform="rotate(0.05 44.30 449.00)">2</text>
<text x="44.30" y="419.20" font-size="7.0" fill="#222" text-anchor="end" stroke="#222" stroke-width="0.112" transform="rotate(0.05 44.30 419.20)">3</text>
<text x="60.10" y="525.00" font-size="7.0" fill="#222" text-anchor="middle" textLength="10.83" lengthAdjust="spacingAndGlyphs" stroke="#222" stroke-width="0.112" transform="rotate(0.05 60.10 525.00)">-10</text>
<text x="95.60" y="525.00" font-size="7.0" fill="#222" text-anchor="middle" textLength="6.66" lengthAdjust="spacingAndGlyphs" stroke="#222" stroke-width="0.112" transform="rotate(0.05 95.60 525.00)">-5</text>
<text x="131.10" y="525.00" font-size="7.0" fill="#222" text-anchor="middle" textLength="4.17" lengthAdjust="spacingAndGlyphs" stroke="#222" stroke-width="0.112" transform="rotate(0.05 131.10 525.00)">0</text>
<text x="166.60" y="525.00" font-size="7.0" fill="#222" text-anchor="middle" textLength="4.17" lengthAdjust="spacingAndGlyphs" stroke="#222" stroke-width="0.112" transform="rotate(0.05 166.60 525.00)">5</text>
<text x="241.60" y="359.20" font-size="13.4" fill="#000" font-weight="bold" transform="rotate(0.05 241.60 359.20)">E</text>
<text x="444.60" y="373.50" font-size="7.9" fill="#111" font-weight="bold" text-anchor="middle" textLength="108.80" lengthAdjust="spacingAndGlyphs" transform="rotate(0.05 444.60 373.50)">G1_STAT3-like vs. G2_AITL-like</text>
<text x="444.50" y="382.00" font-size="7.9" fill="#222" text-anchor="middle" textLength="71.40" lengthAdjust="spacingAndGlyphs" stroke="#222" stroke-width="0.126" transform="rotate(0.05 444.50 382.00)">Enrichment signature</text>
<rect x="393.6" y="388.65" width="116.6" height="3.4" fill="#2c4c88"/>
<text x="373.20" y="392.30" font-size="4.9" fill="#111" font-weight="bold" text-anchor="end" textLength="100.99" lengthAdjust="spacingAndGlyphs" transform="rotate(0.05 373.20 392.30)">PICCALUGA_ANGIOIMMUNOBLASTIC_LYMPHOMA_DN</text>
<rect x="393.6" y="394.12" width="64.4" height="3.4" fill="#b0122e"/>
<text x="373.20" y="397.77" font-size="4.9" fill="#4a4a4a" text-anchor="end" textLength="71.76" lengthAdjust="spacingAndGlyphs" transform="rotate(0.05 373.20 397.77)">MITSIADES_RESPONSE_TO_APLIDIN_UP</text>
<rect x="393.6" y="399.58" width="60.6" height="3.4" fill="#b0122e"/>
<text x="373.20" y="403.23" font-size="4.9" fill="#4a4a4a" text-anchor="end" textLength="59.68" lengthAdjust="spacingAndGlyphs" transform="rotate(0.05 373.20 403.23)">CHEN_HOXA5_TARGETS_9HR_UP</text>
<rect x="393.6" y="405.05" width="59.2" height="3.4" fill="#b0122e"/>
<text x="373.20" y="408.70" font-size="4.9" fill="#4a4a4a" text-anchor="end" textLength="62.56" lengthAdjust="spacingAndGlyphs" transform="rotate(0.05 373.20 408.70)">NAGASHIMA_NRG1_SIGNALING_UP</text>
<rect x="393.6" y="410.52" width="55.4" height="3.4" fill="#b0122e"/>
<text x="373.20" y="414.17" font-size="4.9" fill="#4a4a4a" text-anchor="end" textLength="93.48" lengthAdjust="spacingAndGlyphs" transform="rotate(0.05 373.20 414.17)">DEBIASI_APOPTOSIS_BY_REOVIRUS_INFECTION_UP</text>
<rect x="393.6" y="415.99" width="49.7" height="3.4" fill="#b0122e"/>
<text x="373.20" y="419.63" font-size="4.9" fill="#4a4a4a" text-anchor="end" textLength="52.03" lengthAdjust="spacingAndGlyphs" transform="rotate(0.05 373.20 419.63)">REACTOME_MRNA_SPLICING</text>
<rect x="393.6" y="421.45" width="48.8" height="3.4" fill="#b0122e"/>
<text x="373.20" y="425.10" font-size="4.9" fill="#4a4a4a" text-anchor="end" textLength="97.36" lengthAdjust="spacingAndGlyphs" transform="rotate(0.05 373.20 425.10)">PROCESSING_OF_CAPPED_INTRON_WITH_PRE_MRNA</text>
<rect x="393.6" y="426.92" width="43.9" height="3.4" fill="#b0122e"/>
<text x="373.20" y="430.57" font-size="4.9" fill="#4a4a4a" text-anchor="end" textLength="106.96" lengthAdjust="spacingAndGlyphs" transform="rotate(0.05 373.20 430.57)">OSWALD_HEMATOPOIETIC_STEM_CELL_IN_COLLAGEN_GEL</text>
<rect x="393.6" y="432.39" width="38.1" height="3.4" fill="#b0122e"/>
<text x="373.20" y="436.04" font-size="4.9" fill="#4a4a4a" text-anchor="end" textLength="92.74" lengthAdjust="spacingAndGlyphs" transform="rotate(0.05 373.20 436.04)">ZWANG_CLASS_3_TRANSIENTLY_INDUCED_BY_EGF</text>
<rect x="393.6" y="437.85" width="37.5" height="3.4" fill="#b0122e"/>
<text x="373.20" y="441.50" font-size="4.9" fill="#4a4a4a" text-anchor="end" textLength="77.53" lengthAdjust="spacingAndGlyphs" transform="rotate(0.05 373.20 441.50)">PHONG_TNF_RESPONSE_VIA_P38_PARTIAL</text>
<rect x="393.6" y="443.32" width="14.4" height="3.4" fill="#b0122e"/>
<text x="373.20" y="446.97" font-size="4.9" fill="#111" font-weight="bold" text-anchor="end" textLength="54.48" lengthAdjust="spacingAndGlyphs" transform="rotate(0.05 373.20 446.97)">DAUER_STAT3_TARGETS_UP</text>
<rect x="393.6" y="448.79" width="9" height="3.4" fill="#b0122e"/>
<text x="373.20" y="452.44" font-size="4.9" fill="#111" font-weight="bold" text-anchor="end" textLength="46.66" lengthAdjust="spacingAndGlyphs" transform="rotate(0.05 373.20 452.44)">AZARE_STAT3_TARGETS</text>
<rect x="386.4" y="454.25" width="7.2" height="3.4" fill="#b0122e"/>
<text x="373.20" y="457.90" font-size="4.9" fill="#4a4a4a" text-anchor="end" textLength="72.76" lengthAdjust="spacingAndGlyphs" transform="rotate(0.05 373.20 457.90)">WILENSKY_RESPONSE_TO_DARAPLADIB</text>
<rect x="386.4" y="459.72" width="7.2" height="3.4" fill="#b0122e"/>
<text x="373.20" y="463.37" font-size="4.9" fill="#111" font-weight="bold" text-anchor="end" textLength="100.78" lengthAdjust="spacingAndGlyphs" transform="rotate(0.05 373.20 463.37)">PICCALUGA_ANGIOIMMUNOBLASTIC_LYMPHOMA_UP</text>
<rect x="386.4" y="465.19" width="7.2" height="3.4" fill="#2c4c88"/>
<text x="373.20" y="468.84" font-size="4.9" fill="#4a4a4a" text-anchor="end" textLength="57.27" lengthAdjust="spacingAndGlyphs" transform="rotate(0.05 373.20 468.84)">LIM_MAMMARY_STEM_CELL_DN</text>
<rect x="385.6" y="470.66" width="8" height="3.4" fill="#b0122e"/>
<text x="373.20" y="474.31" font-size="4.9" fill="#4a4a4a" text-anchor="end" textLength="92.47" lengthAdjust="spacingAndGlyphs" transform="rotate(0.05 373.20 474.31)">DEURIG_T_CELL_PROLYMPHOCYTIC_LEUKEMIA_UP</text>
<rect x="384.4" y="476.12" width="9.2" height="3.4" fill="#b0122e"/>
<text x="373.20" y="479.77" font-size="4.9" fill="#4a4a4a" text-anchor="end" textLength="98.12" lengthAdjust="spacingAndGlyphs" transform="rotate(0.05 373.20 479.77)">WANG_RESPONSE_TO_GSK3_INHIBITOR_SB216763_UP</text>
<rect x="383.8" y="481.59" width="9.8" height="3.4" fill="#b0122e"/>
<text x="373.20" y="485.24" font-size="4.9" fill="#4a4a4a" text-anchor="end" textLength="97.96" lengthAdjust="spacingAndGlyphs" transform="rotate(0.05 373.20 485.24)">REACTOME_EXTRACELLULAR_MATRIX_ORGANIZATION</text>
<rect x="383.6" y="487.06" width="10" height="3.4" fill="#b0122e"/>
<text x="373.20" y="490.71" font-size="4.9" fill="#4a4a4a" text-anchor="end" textLength="66.11" lengthAdjust="spacingAndGlyphs" transform="rotate(0.05 373.20 490.71)">REACTOME_LAMININ_INTERACTIONS</text>
<rect x="383" y="492.52" width="10.6" height="3.4" fill="#b0122e"/>
<text x="373.20" y="496.17" font-size="4.9" fill="#4a4a4a" text-anchor="end" textLength="76.38" lengthAdjust="spacingAndGlyphs" transform="rotate(0.05 373.20 496.17)">KUNINGER_IGF1_VS_PDGFB_TARGETS_UP</text>
<rect x="382.4" y="497.99" width="11.2" height="3.4" fill="#b0122e"/>
<text x="373.20" y="501.64" font-size="4.9" fill="#4a4a4a" text-anchor="end" textLength="46.33" lengthAdjust="spacingAndGlyphs" transform="rotate(0.05 373.20 501.64)">PID_INTEGRIN1_PATHWAY</text>
<rect x="380.7" y="503.46" width="12.9" height="3.4" fill="#b0122e"/>
<text x="373.20" y="507.11" font-size="4.9" fill="#111" font-weight="bold" text-anchor="end" textLength="69.47" lengthAdjust="spacingAndGlyphs" transform="rotate(0.05 373.20 507.11)">MIKKELSEN_ES_ICP_WITH_H3K4ME3</text>
<path d="M377 388.3V508M376.5 508H511.5" stroke="#111" stroke-width="1.1" fill="none"/>
<path d="M377.1 508V511 M393.6 508V511 M410.1 508V511 M426.6 508V511 M443.1 508V511 M459.6 508V511 M476.1 508V511 M492.6 508V511 M509.1 508V511" stroke="#111" stroke-width="0.9"/>
<text x="377.10" y="521.80" font-size="7.3" fill="#1e1e1e" text-anchor="middle" stroke="#1e1e1e" stroke-width="0.117" transform="rotate(0.05 377.10 521.80)">-5</text>
<text x="393.60" y="521.80" font-size="7.3" fill="#1e1e1e" text-anchor="middle" stroke="#1e1e1e" stroke-width="0.117" transform="rotate(0.05 393.60 521.80)">0</text>
<text x="410.10" y="521.80" font-size="7.3" fill="#1e1e1e" text-anchor="middle" stroke="#1e1e1e" stroke-width="0.117" transform="rotate(0.05 410.10 521.80)">5</text>
<text x="426.60" y="521.80" font-size="7.3" fill="#1e1e1e" text-anchor="middle" stroke="#1e1e1e" stroke-width="0.117" transform="rotate(0.05 426.60 521.80)">10</text>
<text x="443.10" y="521.80" font-size="7.3" fill="#1e1e1e" text-anchor="middle" stroke="#1e1e1e" stroke-width="0.117" transform="rotate(0.05 443.10 521.80)">15</text>
<text x="459.60" y="521.80" font-size="7.3" fill="#1e1e1e" text-anchor="middle" stroke="#1e1e1e" stroke-width="0.117" transform="rotate(0.05 459.60 521.80)">20</text>
<text x="476.10" y="521.80" font-size="7.3" fill="#1e1e1e" text-anchor="middle" stroke="#1e1e1e" stroke-width="0.117" transform="rotate(0.05 476.10 521.80)">25</text>
<text x="492.60" y="521.80" font-size="7.3" fill="#1e1e1e" text-anchor="middle" stroke="#1e1e1e" stroke-width="0.117" transform="rotate(0.05 492.60 521.80)">30</text>
<text x="509.10" y="521.80" font-size="7.3" fill="#1e1e1e" text-anchor="middle" stroke="#1e1e1e" stroke-width="0.117" transform="rotate(0.05 509.10 521.80)">35</text>
<path d="M388.3 441.5V390.5" stroke="#6aaa50" stroke-width="0.8"/>
<path d="M388.3 388.4L386.5 392.6H390.1Z" fill="#6aaa50"/>
<text transform="translate(384.9 420.2) rotate(-90)" font-size="6.8" fill="#6aaa50" text-anchor="middle" textLength="27.8" lengthAdjust="spacingAndGlyphs">Top10 G1</text>
<path d="M397 455V504.8" stroke="#e8a8a0" stroke-width="0.8"/>
<path d="M397 507L395.2 502.8H398.8Z" fill="#e8a8a0"/>
<text transform="translate(408.5 478.7) rotate(-90)" font-size="6.8" fill="#e8a8a0" text-anchor="middle" textLength="27" lengthAdjust="spacingAndGlyphs">Top10 G2</text>
<rect x="443.5" y="457" width="6.7" height="6.5" fill="#b0122e"/>
<rect x="443.5" y="467.2" width="6.7" height="6.6" fill="#2c4c88"/>
<text x="454.20" y="462.50" font-size="6.3" fill="#222" textLength="36.40" lengthAdjust="spacingAndGlyphs" stroke="#222" stroke-width="0.101" transform="rotate(0.05 454.20 462.50)">Signature Up</text>
<text x="454.20" y="472.60" font-size="6.3" fill="#222" stroke="#222" stroke-width="0.101" transform="rotate(0.05 454.20 472.60)">Signature Down</text>
<text x="8.40" y="548.10" font-size="13.4" fill="#000" font-weight="bold" transform="rotate(0.05 8.40 548.10)">F</text>
<text x="241.00" y="548.60" font-size="13.4" fill="#000" font-weight="bold" transform="rotate(0.05 241.00 548.60)">G</text>
<text x="135.85" y="563.1" font-size="7.4" fill="#222" text-anchor="middle" textLength="99.3" lengthAdjust="spacingAndGlyphs" stroke="#222" stroke-width="0.12" transform="rotate(0.05 135.85 563.1)">Azare <tspan font-style="italic">et al</tspan>_STAT3 Targets Up</text>
<path d="M100.5 573.2V610.2 M119.9 573.2V610.2 M139.3 573.2V610.2 M158.7 573.2V610.2 M178.1 573.2V610.2" stroke="#eeeeee" stroke-width="0.6"/>
<path d="M82.2 608.8 L82.5 607 L83.65 603.1 L84.8 602.5 L85.6 604.2 L86.5 597.3 L87.7 595.6 L88.8 596.2 L90.2 585.8 L91.7 586.3 L93.2 586.9 L94 581.2 L95.8 582.3 L96.7 579.8 L98.1 579.4 L99.8 577.7 L101.3 576 L104.4 573.7 L106.2 574.2 L109.6 576 L114.2 577.7 L115.4 577.1 L120 579.4 L123.3 579.8 L130 583 L142.5 588.5 L143.5 588.2 L155 593.8 L166.5 598.8 L177 603.8 L188.3 608.6" fill="none" stroke="#bfd688" stroke-width="1.0" stroke-linejoin="round"/>
<path d="M83.7 611.2V621.6 M90.2 611.2V621.6" stroke="#666666" stroke-width="0.6"/>
<path d="M85.4 611.2V621.6 M87.1 611.2V621.6 M103.8 611.2V621.6" stroke="#a6a6a6" stroke-width="0.6"/>
<path d="M89.4 611.2V621.6 M93.5 611.2V621.6 M114.8 611.2V621.6 M143 611.2V621.6" stroke="#262626" stroke-width="0.6"/>
<path d="M96.7 611.2V621.6 M100.6 611.2V621.6 M102.7 611.2V621.6" stroke="#7a7a7a" stroke-width="0.6"/>
<path d="M98.7 611.2V621.6 M104.4 611.2V621.6 M124.2 611.2V621.6" stroke="#b8b8b8" stroke-width="0.6"/>
<path d="M99.8 611.2V621.6 M101.8 611.2V621.6 M122.5 611.2V621.6" stroke="#909090" stroke-width="0.6"/>
<rect x="81.3" y="621.6" width="2.25" height="4.8" fill="#8a1c24"/>
<rect x="83.5" y="621.6" width="42.35" height="4.8" fill="#a0282e"/>
<rect x="125.8" y="621.6" width="21.25" height="4.8" fill="#cf3f3a"/>
<rect x="147" y="621.6" width="18.75" height="4.8" fill="#e47a62"/>
<rect x="165.7" y="621.6" width="2.35" height="4.8" fill="#f0c4b0"/>
<rect x="168" y="621.6" width="3.05" height="4.8" fill="#f6ecea"/>
<rect x="171" y="621.6" width="3.55" height="4.8" fill="#eef0f8"/>
<rect x="174.5" y="621.6" width="2.55" height="4.8" fill="#d4e0f2"/>
<rect x="177" y="621.6" width="2.55" height="4.8" fill="#b8cdea"/>
<rect x="179.5" y="621.6" width="1.55" height="4.8" fill="#e0e8f4"/>
<rect x="181" y="621.6" width="2.55" height="4.8" fill="#98b6e0"/>
<rect x="183.5" y="621.6" width="2.55" height="4.8" fill="#5f8acb"/>
<rect x="186" y="621.6" width="2.75" height="4.8" fill="#3d6cbc"/>
<path d="M81.1 572.2V626.4" stroke="#111" stroke-width="1.1"/>
<path d="M77.5 580H81.1 M77.5 589.5H81.1 M77.5 599.3H81.1 M77.5 608.8H81.1" stroke="#111" stroke-width="1"/>
<text x="74.10" y="582.55" font-size="7.2" fill="#1e1e1e" text-anchor="end" textLength="10.60" lengthAdjust="spacingAndGlyphs" stroke="#1e1e1e" stroke-width="0.115" transform="rotate(0.05 74.10 582.55)">0.6</text>
<text x="74.10" y="592.05" font-size="7.2" fill="#1e1e1e" text-anchor="end" textLength="10.60" lengthAdjust="spacingAndGlyphs" stroke="#1e1e1e" stroke-width="0.115" transform="rotate(0.05 74.10 592.05)">0.4</text>
<text x="74.10" y="601.85" font-size="7.2" fill="#1e1e1e" text-anchor="end" textLength="10.60" lengthAdjust="spacingAndGlyphs" stroke="#1e1e1e" stroke-width="0.115" transform="rotate(0.05 74.10 601.85)">0.2</text>
<text x="74.10" y="611.35" font-size="7.2" fill="#1e1e1e" text-anchor="end" textLength="10.60" lengthAdjust="spacingAndGlyphs" stroke="#1e1e1e" stroke-width="0.115" transform="rotate(0.05 74.10 611.35)">0.0</text>
<path d="M81.7 627.8H103.2" stroke="#b80a0a" stroke-width="1.7"/>
<path d="M167.5 627.8H188.2" stroke="#2e6cc4" stroke-width="1.7"/>
<text x="167.10" y="576.50" font-size="6.8" fill="#222" textLength="28.10" lengthAdjust="spacingAndGlyphs" stroke="#222" stroke-width="0.109" transform="rotate(0.05 167.10 576.50)">Q 9.8E-04</text>
<text x="167.10" y="584.10" font-size="6.8" fill="#222" textLength="25.40" lengthAdjust="spacingAndGlyphs" stroke="#222" stroke-width="0.109" transform="rotate(0.05 167.10 584.10)">NES 2.27</text>
<text x="81.90" y="638.80" font-size="7.7" fill="#151515" textLength="21.30" lengthAdjust="spacingAndGlyphs" stroke="#151515" stroke-width="0.123" transform="rotate(0.05 81.90 638.80)">G1 up</text>
<text x="92.60" y="646.60" font-size="7.7" fill="#151515" text-anchor="middle" textLength="20.00" lengthAdjust="spacingAndGlyphs" stroke="#151515" stroke-width="0.123" transform="rotate(0.05 92.60 646.60)">genes</text>
<text x="192.70" y="638.80" font-size="7.7" fill="#151515" text-anchor="end" textLength="28.80" lengthAdjust="spacingAndGlyphs" stroke="#151515" stroke-width="0.123" transform="rotate(0.05 192.70 638.80)">G1down</text>
<text x="178.50" y="646.60" font-size="7.7" fill="#151515" text-anchor="middle" textLength="20.00" lengthAdjust="spacingAndGlyphs" stroke="#151515" stroke-width="0.123" transform="rotate(0.05 178.50 646.60)">genes</text>
<text x="135.9" y="669" font-size="7.4" fill="#222" text-anchor="middle" textLength="100.4" lengthAdjust="spacingAndGlyphs" stroke="#222" stroke-width="0.12" transform="rotate(0.05 135.9 669)">Dauer <tspan font-style="italic">et al</tspan>_STAT3 targets Up</text>
<path d="M100.7 678.3V716 M120.1 678.3V716 M139.5 678.3V716 M158.9 678.3V716 M178.3 678.3V716" stroke="#eeeeee" stroke-width="0.6"/>
<path d="M81.9 714.8 L82.8 698.3 L83.5 689.5 L84.6 686.3 L85.7 684 L86.8 681.2 L89 681.9 L91.2 680.8 L93.4 679.7 L94.4 678.6 L96.6 679 L99.9 680.8 L106.5 683.4 L108.7 683 L112 684.7 L113.1 684.1 L117.5 686.3 L126.2 689.5 L135 693.9 L143.8 697.9 L152.6 702.7 L161.3 704.9 L170.1 708.2 L181.1 713.2 L184.4 711.5 L186.5 712.6 L189.8 713.7" fill="none" stroke="#bfd688" stroke-width="1.0" stroke-linejoin="round"/>
<path d="M82.4 717V727.3 M83 717V727.3 M83.9 717V727.3 M84.6 717V727.3 M85.2 717V727.3 M91.2 717V727.3 M119.7 717V727.3 M141.6 717V727.3 M151.5 717V727.3" stroke="#262626" stroke-width="0.6"/>
<path d="M86.8 717V727.3 M92.7 717V727.3 M154.8 717V727.3 M160.2 717V727.3" stroke="#666666" stroke-width="0.6"/>
<path d="M90.1 717V727.3 M95.5 717V727.3 M136.8 717V727.3 M184.8 717V727.3" stroke="#7a7a7a" stroke-width="0.6"/>
<path d="M93.4 717V727.3 M98.8 717V727.3 M120.8 717V727.3 M135.5 717V727.3 M150.4 717V727.3 M163.5 717V727.3 M171.2 717V727.3" stroke="#909090" stroke-width="0.6"/>
<path d="M107.6 717V727.3 M133.9 717V727.3 M161.8 717V727.3" stroke="#b8b8b8" stroke-width="0.6"/>
<path d="M112 717V727.3" stroke="#a6a6a6" stroke-width="0.6"/>
<rect x="81.3" y="727.3" width="5.55" height="4.3" fill="#8a1c22"/>
<rect x="86.8" y="727.3" width="30.25" height="4.3" fill="#b02a2c"/>
<rect x="117" y="727.3" width="18.55" height="4.3" fill="#d95840"/>
<rect x="135.5" y="727.3" width="23.25" height="4.3" fill="#eba48c"/>
<rect x="158.7" y="727.3" width="18.05" height="4.3" fill="#f5dcd0"/>
<rect x="176.7" y="727.3" width="7.75" height="4.3" fill="#e6edf8"/>
<rect x="184.4" y="727.3" width="2.15" height="4.3" fill="#9ab8e0"/>
<rect x="186.5" y="727.3" width="3.05" height="4.3" fill="#4f80c4"/>
<path d="M81.3 677.3V731.6" stroke="#111" stroke-width="1.1"/>
<path d="M77.7 681.5H81.3 M77.7 692.5H81.3 M77.7 703.4H81.3 M77.7 714.4H81.3" stroke="#111" stroke-width="1"/>
<text x="74.30" y="684.05" font-size="7.2" fill="#1e1e1e" text-anchor="end" textLength="10.60" lengthAdjust="spacingAndGlyphs" stroke="#1e1e1e" stroke-width="0.115" transform="rotate(0.05 74.30 684.05)">0.6</text>
<text x="74.30" y="695.05" font-size="7.2" fill="#1e1e1e" text-anchor="end" textLength="10.60" lengthAdjust="spacingAndGlyphs" stroke="#1e1e1e" stroke-width="0.115" transform="rotate(0.05 74.30 695.05)">0.4</text>
<text x="74.30" y="705.95" font-size="7.2" fill="#1e1e1e" text-anchor="end" textLength="10.60" lengthAdjust="spacingAndGlyphs" stroke="#1e1e1e" stroke-width="0.115" transform="rotate(0.05 74.30 705.95)">0.2</text>
<text x="74.30" y="716.95" font-size="7.2" fill="#1e1e1e" text-anchor="end" textLength="10.60" lengthAdjust="spacingAndGlyphs" stroke="#1e1e1e" stroke-width="0.115" transform="rotate(0.05 74.30 716.95)">0.0</text>
<path d="M81.5 734.5H102.6" stroke="#b80a0a" stroke-width="1.7"/>
<path d="M167.9 734.5H188.7" stroke="#2e6cc4" stroke-width="1.7"/>
<text x="166.80" y="685.20" font-size="6.8" fill="#222" textLength="28.10" lengthAdjust="spacingAndGlyphs" stroke="#222" stroke-width="0.109" transform="rotate(0.05 166.80 685.20)">Q 2.7E-05</text>
<text x="166.80" y="692.80" font-size="6.8" fill="#222" textLength="25.40" lengthAdjust="spacingAndGlyphs" stroke="#222" stroke-width="0.109" transform="rotate(0.05 166.80 692.80)">NES 2.50</text>
<text x="81.90" y="744.80" font-size="7.7" fill="#151515" textLength="21.30" lengthAdjust="spacingAndGlyphs" stroke="#151515" stroke-width="0.123" transform="rotate(0.05 81.90 744.80)">G1 up</text>
<text x="92.60" y="752.60" font-size="7.7" fill="#151515" text-anchor="middle" textLength="20.00" lengthAdjust="spacingAndGlyphs" stroke="#151515" stroke-width="0.123" transform="rotate(0.05 92.60 752.60)">genes</text>
<text x="192.70" y="744.80" font-size="7.7" fill="#151515" text-anchor="end" textLength="28.80" lengthAdjust="spacingAndGlyphs" stroke="#151515" stroke-width="0.123" transform="rotate(0.05 192.70 744.80)">G1down</text>
<text x="178.50" y="752.60" font-size="7.7" fill="#151515" text-anchor="middle" textLength="20.00" lengthAdjust="spacingAndGlyphs" stroke="#151515" stroke-width="0.123" transform="rotate(0.05 178.50 752.60)">genes</text>
<text x="354.6" y="562.2" font-size="7.4" fill="#222" text-anchor="middle" textLength="81.6" lengthAdjust="spacingAndGlyphs" stroke="#222" stroke-width="0.12" transform="rotate(0.05 354.6 562.2)">Piccaluga <tspan font-style="italic">et al</tspan>_AITL_Up</text>
<path d="M319.9 569.3V606.6 M339.3 569.3V606.6 M358.7 569.3V606.6 M378.1 569.3V606.6 M397.5 569.3V606.6" stroke="#eeeeee" stroke-width="0.6"/>
<path d="M301 592.9 L302.5 590.3 L303.7 588.5 L304.8 584.5 L306 583.3 L307.1 582.2 L308.3 578.2 L309.4 577 L310.6 575.8 L312.3 573.5 L314 573 L315.8 572.6 L317.5 571.2 L319.2 569.8 L321.5 570.7 L323.8 571.8 L326.2 572.4 L328.5 571.8 L330.8 572.6 L334.9 573.9 L339.8 575 L346.3 578.8 L354.5 583.7 L362.7 588.6 L370.9 592.7 L379 596.3 L387.2 599.2 L395.4 602.2 L400.3 604.5 L404.4 605 L406.8 603.3 L408.5 598.4 L408.8 596.8" fill="none" stroke="#bfd688" stroke-width="1.0" stroke-linejoin="round"/>
<path d="M301.3 607.6V618.5 M325 607.6V618.5 M334.1 607.6V618.5 M353.7 607.6V618.5 M371.7 607.6V618.5" stroke="#7a7a7a" stroke-width="0.6"/>
<path d="M301.8 607.6V618.5 M302.3 607.6V618.5 M303.1 607.6V618.5 M304.2 607.6V618.5 M309.8 607.6V618.5 M311.7 607.6V618.5 M313.5 607.6V618.5 M315.8 607.6V618.5 M328.5 607.6V618.5 M331.6 607.6V618.5 M401.9 607.6V618.5" stroke="#909090" stroke-width="0.6"/>
<path d="M306 607.6V618.5 M307.5 607.6V618.5 M321.5 607.6V618.5 M326.2 607.6V618.5 M333.1 607.6V618.5 M336.5 607.6V618.5 M338.2 607.6V618.5 M366.8 607.6V618.5 M383.9 607.6V618.5 M385.6 607.6V618.5 M388.8 607.6V618.5 M400.3 607.6V618.5" stroke="#a6a6a6" stroke-width="0.6"/>
<path d="M308.8 607.6V618.5 M318.7 607.6V618.5 M323.8 607.6V618.5 M335.4 607.6V618.5 M357.8 607.6V618.5 M387.2 607.6V618.5 M407.6 607.6V618.5" stroke="#262626" stroke-width="0.6"/>
<path d="M310.6 607.6V618.5 M348.8 607.6V618.5 M351.2 607.6V618.5 M365.1 607.6V618.5" stroke="#666666" stroke-width="0.6"/>
<path d="M319.8 607.6V618.5 M327.3 607.6V618.5 M392.9 607.6V618.5 M404.4 607.6V618.5 M406 607.6V618.5" stroke="#b8b8b8" stroke-width="0.6"/>
<rect x="300.5" y="618.5" width="7.85" height="4.4" fill="#c63a32"/>
<rect x="308.3" y="618.5" width="35.65" height="4.4" fill="#e0654c"/>
<rect x="343.9" y="618.5" width="26.15" height="4.4" fill="#eca48c"/>
<rect x="370" y="618.5" width="10.75" height="4.4" fill="#f5d9cf"/>
<rect x="380.7" y="618.5" width="10.65" height="4.4" fill="#e9edf8"/>
<rect x="391.3" y="618.5" width="7.35" height="4.4" fill="#b4cbe9"/>
<rect x="398.6" y="618.5" width="3.45" height="4.4" fill="#6f98d2"/>
<rect x="402" y="618.5" width="2.55" height="4.4" fill="#a8c0e6"/>
<rect x="404.5" y="618.5" width="4.75" height="4.4" fill="#5a88cc"/>
<path d="M300.5 568.3V622.9" stroke="#111" stroke-width="1.1"/>
<path d="M296.9 574.1H300.5 M296.9 586.5H300.5 M296.9 598.7H300.5" stroke="#111" stroke-width="1"/>
<text x="293.50" y="576.65" font-size="7.2" fill="#1e1e1e" text-anchor="end" textLength="10.60" lengthAdjust="spacingAndGlyphs" stroke="#1e1e1e" stroke-width="0.115" transform="rotate(0.05 293.50 576.65)">0.4</text>
<text x="293.50" y="589.05" font-size="7.2" fill="#1e1e1e" text-anchor="end" textLength="10.60" lengthAdjust="spacingAndGlyphs" stroke="#1e1e1e" stroke-width="0.115" transform="rotate(0.05 293.50 589.05)">0.2</text>
<text x="293.50" y="601.25" font-size="7.2" fill="#1e1e1e" text-anchor="end" textLength="10.60" lengthAdjust="spacingAndGlyphs" stroke="#1e1e1e" stroke-width="0.115" transform="rotate(0.05 293.50 601.25)">0.0</text>
<path d="M300.4 624.9H320.6" stroke="#b80a0a" stroke-width="1.7"/>
<path d="M388 624.9H409.3" stroke="#2e6cc4" stroke-width="1.7"/>
<text x="375.00" y="576.30" font-size="6.8" fill="#222" textLength="27.70" lengthAdjust="spacingAndGlyphs" stroke="#222" stroke-width="0.109" transform="rotate(0.05 375.00 576.30)">Q 7.4E-03</text>
<text x="375.00" y="583.90" font-size="6.8" fill="#222" textLength="25.20" lengthAdjust="spacingAndGlyphs" stroke="#222" stroke-width="0.109" transform="rotate(0.05 375.00 583.90)">NES 1.70</text>
<text x="300.90" y="633.80" font-size="7.7" fill="#151515" textLength="20.00" lengthAdjust="spacingAndGlyphs" stroke="#151515" stroke-width="0.123" transform="rotate(0.05 300.90 633.80)">G2 up</text>
<text x="311.20" y="641.90" font-size="7.7" fill="#151515" text-anchor="middle" textLength="20.00" lengthAdjust="spacingAndGlyphs" stroke="#151515" stroke-width="0.123" transform="rotate(0.05 311.20 641.90)">genes</text>
<text x="409.00" y="633.80" font-size="7.7" fill="#151515" text-anchor="end" textLength="28.00" lengthAdjust="spacingAndGlyphs" stroke="#151515" stroke-width="0.123" transform="rotate(0.05 409.00 633.80)">G2 down</text>
<text x="397.00" y="641.90" font-size="7.7" fill="#151515" text-anchor="middle" textLength="20.00" lengthAdjust="spacingAndGlyphs" stroke="#151515" stroke-width="0.123" transform="rotate(0.05 397.00 641.90)">genes</text>
<text x="354.6" y="669.2" font-size="7.4" fill="#222" text-anchor="middle" textLength="92" lengthAdjust="spacingAndGlyphs" stroke="#222" stroke-width="0.12" transform="rotate(0.05 354.6 669.2)">Piccaluga <tspan font-style="italic">et al</tspan>_AITL_Down</text>
<path d="M320 676.4V714.8 M339.4 676.4V714.8 M358.8 676.4V714.8 M378.2 676.4V714.8 M397.6 676.4V714.8" stroke="#eeeeee" stroke-width="0.6"/>
<path d="M301 677.3 L345 696.9 L351.7 700.3 L358.5 703.3 L365.2 706.4 L371.9 709 L378.6 711.3 L385.4 713.8 L389.4 712.4 L393.5 710.4 L397.5 707.7 L400.9 703.7 L402.9 699 L404.9 692.2 L406.2 686.8 L407.6 681.5 L408.5 677.4" fill="none" stroke="#bfd688" stroke-width="1.0" stroke-linejoin="round"/>
<path d="M335.2 715.8V726.8" stroke="#909090" stroke-width="0.6"/>
<path d="M339.2 715.8V726.8 M353 715.8V726.8 M365 715.8V726.8" stroke="#262626" stroke-width="0.6"/>
<path d="M346 715.8V726.8 M351 715.8V726.8 M362.2 715.8V726.8 M380 715.8V726.8" stroke="#7a7a7a" stroke-width="0.6"/>
<path d="M347.3 715.8V726.8 M355 715.8V726.8 M371.4 715.8V726.8" stroke="#a6a6a6" stroke-width="0.6"/>
<path d="M357.7 715.8V726.8 M370 715.8V726.8 M376.5 715.8V726.8 M382.5 715.8V726.8" stroke="#b8b8b8" stroke-width="0.6"/>
<path d="M368.5 715.8V726.8 M378 715.8V726.8" stroke="#666666" stroke-width="0.6"/>
<path d="M385.16 715.8V726.8 M385.73 715.8V726.8 M385.97 715.8V726.8 M389.62 715.8V726.8 M395.39 715.8V726.8 M396.24 715.8V726.8 M400.11 715.8V726.8" stroke="#333" stroke-width="0.6"/>
<path d="M386.6 715.8V726.8 M391.99 715.8V726.8 M393.11 715.8V726.8 M394.26 715.8V726.8 M394.91 715.8V726.8 M396.65 715.8V726.8 M396.88 715.8V726.8 M398.94 715.8V726.8 M401.58 715.8V726.8 M404.46 715.8V726.8 M406.08 715.8V726.8 M408.26 715.8V726.8" stroke="#777" stroke-width="0.6"/>
<path d="M386.81 715.8V726.8 M387.37 715.8V726.8 M388.06 715.8V726.8 M390.38 715.8V726.8 M390.82 715.8V726.8 M393.91 715.8V726.8 M397.88 715.8V726.8 M399.4 715.8V726.8 M399.72 715.8V726.8 M401.42 715.8V726.8 M402.57 715.8V726.8 M402.72 715.8V726.8 M403.49 715.8V726.8 M405.25 715.8V726.8 M406.37 715.8V726.8 M406.7 715.8V726.8 M407.57 715.8V726.8" stroke="#555" stroke-width="0.6"/>
<path d="M387.72 715.8V726.8 M388.53 715.8V726.8 M388.79 715.8V726.8 M391.05 715.8V726.8 M392.22 715.8V726.8 M397.35 715.8V726.8" stroke="#1a1a1a" stroke-width="0.6"/>
<path d="M389.11 715.8V726.8 M392.58 715.8V726.8 M398.06 715.8V726.8 M398.67 715.8V726.8 M400.39 715.8V726.8 M402 715.8V726.8 M405.62 715.8V726.8 M407.13 715.8V726.8" stroke="#222" stroke-width="0.6"/>
<path d="M389.93 715.8V726.8 M391.58 715.8V726.8 M393.35 715.8V726.8 M394.55 715.8V726.8 M395.72 715.8V726.8 M401.04 715.8V726.8 M403.3 715.8V726.8 M403.98 715.8V726.8 M404.73 715.8V726.8 M407.87 715.8V726.8" stroke="#999" stroke-width="0.6"/>
<rect x="300.6" y="726.8" width="1.95" height="4.5" fill="#c83c30"/>
<rect x="302.5" y="726.8" width="2.45" height="4.5" fill="#e07a62"/>
<rect x="304.9" y="726.8" width="5.15" height="4.5" fill="#f0c4b4"/>
<rect x="310" y="726.8" width="5.55" height="4.5" fill="#eef0f8"/>
<rect x="315.5" y="726.8" width="4.55" height="4.5" fill="#c8d6ec"/>
<rect x="320" y="726.8" width="13.05" height="4.5" fill="#7aa0d4"/>
<rect x="333" y="726.8" width="40.35" height="4.5" fill="#4c7cc0"/>
<rect x="373.3" y="726.8" width="35.55" height="4.5" fill="#2d5aaa"/>
<path d="M300.6 675.4V731.3" stroke="#111" stroke-width="1.1"/>
<path d="M297 677.2H300.6 M297 687.2H300.6 M297 696.9H300.6 M297 707H300.6" stroke="#111" stroke-width="1"/>
<text x="293.60" y="679.75" font-size="7.2" fill="#1e1e1e" text-anchor="end" textLength="10.60" lengthAdjust="spacingAndGlyphs" stroke="#1e1e1e" stroke-width="0.115" transform="rotate(0.05 293.60 679.75)">0.0</text>
<text x="293.60" y="689.75" font-size="7.2" fill="#1e1e1e" text-anchor="end" textLength="10.60" lengthAdjust="spacingAndGlyphs" stroke="#1e1e1e" stroke-width="0.115" transform="rotate(0.05 293.60 689.75)">0.2</text>
<text x="293.60" y="699.45" font-size="7.2" fill="#1e1e1e" text-anchor="end" textLength="10.60" lengthAdjust="spacingAndGlyphs" stroke="#1e1e1e" stroke-width="0.115" transform="rotate(0.05 293.60 699.45)">0.4</text>
<text x="293.60" y="709.55" font-size="7.2" fill="#1e1e1e" text-anchor="end" textLength="10.60" lengthAdjust="spacingAndGlyphs" stroke="#1e1e1e" stroke-width="0.115" transform="rotate(0.05 293.60 709.55)">0.6</text>
<path d="M300.4 734.4H321.5" stroke="#b80a0a" stroke-width="1.7"/>
<path d="M388.1 734.4H408.9" stroke="#2e6cc4" stroke-width="1.7"/>
<text x="377.30" y="685.50" font-size="6.8" fill="#222" textLength="28.30" lengthAdjust="spacingAndGlyphs" stroke="#222" stroke-width="0.109" transform="rotate(0.05 377.30 685.50)">Q 2.5E-36</text>
<text x="377.30" y="693.10" font-size="6.8" fill="#222" textLength="28.00" lengthAdjust="spacingAndGlyphs" stroke="#222" stroke-width="0.109" transform="rotate(0.05 377.30 693.10)">NES -3.68</text>
<text x="300.90" y="744.90" font-size="7.7" fill="#151515" textLength="20.00" lengthAdjust="spacingAndGlyphs" stroke="#151515" stroke-width="0.123" transform="rotate(0.05 300.90 744.90)">G2 up</text>
<text x="311.20" y="752.90" font-size="7.7" fill="#151515" text-anchor="middle" textLength="20.00" lengthAdjust="spacingAndGlyphs" stroke="#151515" stroke-width="0.123" transform="rotate(0.05 311.20 752.90)">genes</text>
<text x="409.00" y="744.90" font-size="7.7" fill="#151515" text-anchor="end" textLength="28.00" lengthAdjust="spacingAndGlyphs" stroke="#151515" stroke-width="0.123" transform="rotate(0.05 409.00 744.90)">G2 down</text>
<text x="397.00" y="752.90" font-size="7.7" fill="#151515" text-anchor="middle" textLength="20.00" lengthAdjust="spacingAndGlyphs" stroke="#151515" stroke-width="0.123" transform="rotate(0.05 397.00 752.90)">genes</text>
<path d="M0 0H520V764H0Z M1.25 1.25V762.4H518.4V1.25Z" fill="#000" fill-rule="evenodd"/>
</svg>
</body></html>
